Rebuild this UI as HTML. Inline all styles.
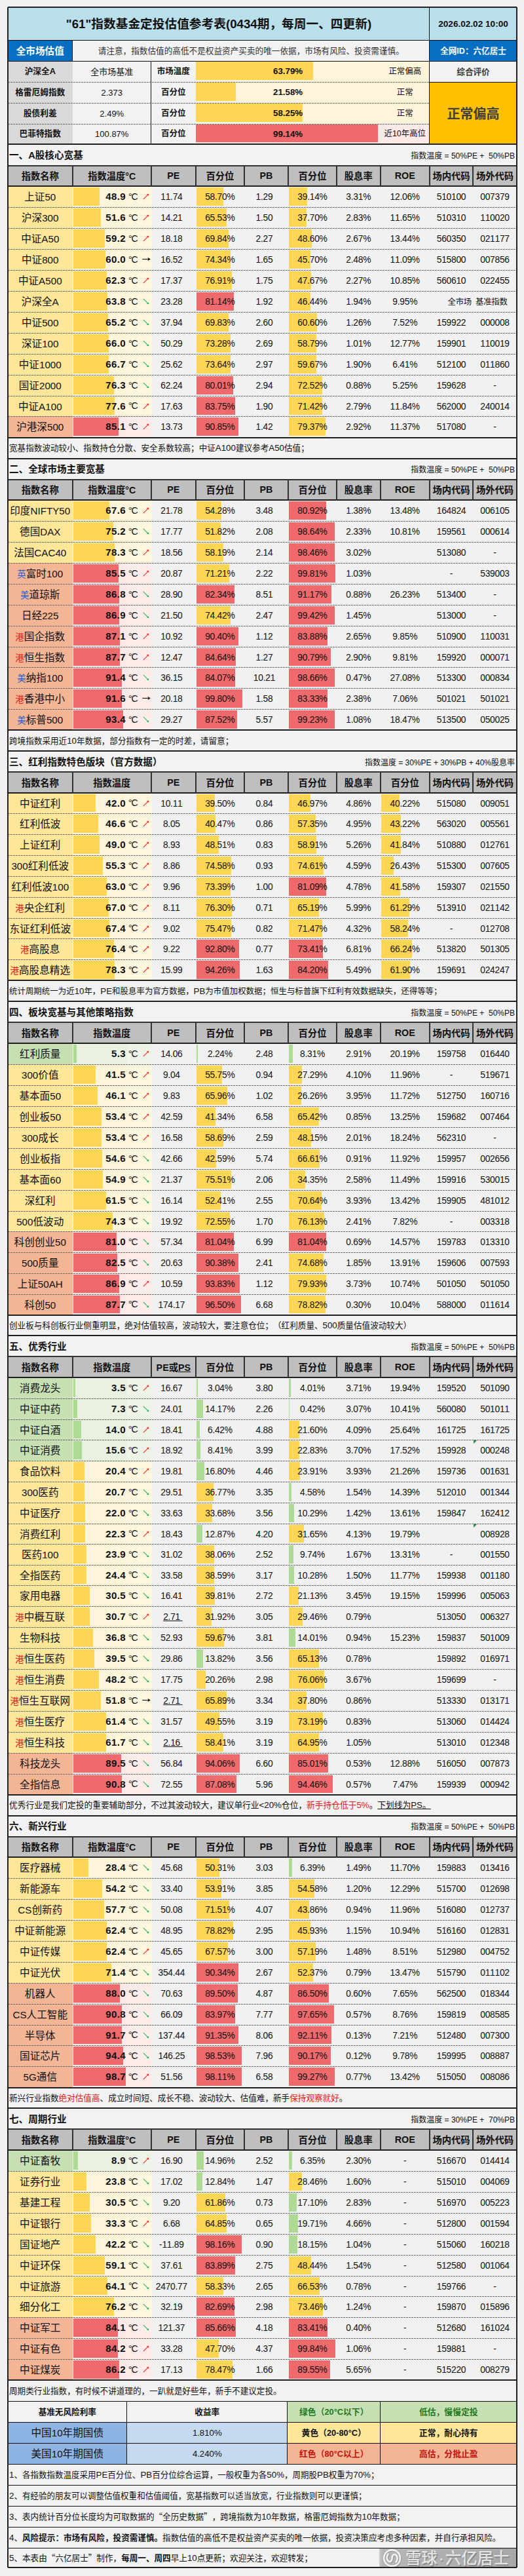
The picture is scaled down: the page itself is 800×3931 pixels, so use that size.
<!DOCTYPE html>
<html lang="zh-CN"><head><meta charset="utf-8"><title>指数基金定投估值参考表</title>
<style>
html,body{margin:0;padding:0}
body{width:800px;height:3931px;background:#f1f1f1;position:relative;overflow:hidden;
 font-family:"Liberation Sans","Noto Sans CJK SC",sans-serif;color:#111;text-spacing-trim:space-all;font-kerning:none}
.c{position:absolute;display:flex;align-items:center;justify-content:center;white-space:nowrap;box-sizing:border-box;overflow:hidden;line-height:1}
.c>span{display:block;position:relative;top:1px}
i{font-style:normal}
em{font-style:normal;font-family:"Noto Sans CJK SC",sans-serif}
.hl{position:absolute;height:2px;margin-top:-1px;background:#202020}
.vl{position:absolute;width:2px;margin-left:-1px;background:#202020}
.h1{height:1px;margin-top:0;background:#111}
.v1{width:1px;margin-left:-1px;background:#111}
.hk{background:#333}
.dl{position:absolute;height:1px;margin-top:0;background:repeating-linear-gradient(90deg,#6e6e6e 0,#6e6e6e 3px,transparent 3px,transparent 4px)}
.title{background:#b9dfeb;font-weight:bold;font-size:18.7px}
.date{background:#b9dfeb;font-weight:bold;font-size:13.6px}
.bluecell{background:#066fc3;color:#fff;font-weight:bold;font-size:14.6px}
.idc{font-size:12.6px}
.warn{background:#f2f2f2;font-size:12.63px;color:#333}
.tl1{background:#d9d9d9;font-weight:bold;font-size:12.7px}
.tl2{background:#f2f2f2;font-size:12.6px}
.tl2>span{font-size:13px}
.tl3{background:#f2f2f2;font-weight:bold;font-size:12.5px}
.tval{font-weight:bold;font-size:13.3px}
.tstat{font-size:12.4px}
.zh{background:#f2f2f2;font-weight:bold;font-size:12.6px;color:#3a3a3a}
.big{background:#ffc000;font-weight:bold;font-size:20px;color:#3f3f3f}
.stitle{background:#f2f2f2;justify-content:space-between;padding:0 3px 0 2px;font-size:14.6px}
.st{font-weight:bold}
.fm{font-size:12px;padding-top:2px}
.hd{background:#bfbfbf;font-weight:bold;font-size:14.3px}
.hl0>span,.tv>span,.dc>span,.tl1>span,.tl2>span,.tl3>span,.tval>span,.tstat>span{top:0}
.nm{font-size:15.6px}
.nm i{font-size:15.2px}
.nm b{font-weight:normal;font-size:13.5px}
.pb{color:#1f5fd0}.pr{color:#e81a1a}
.tv{justify-content:flex-end;font-weight:bold;font-size:15.1px;letter-spacing:.35px}
.dc{font-size:14.2px;letter-spacing:-1.1px;justify-content:flex-start}
.arw{justify-content:flex-start;padding-left:4px}
.ar{display:block}
.arr{margin-left:-1.5px;position:relative;top:-.7px}
.nu{font-size:13.8px;letter-spacing:-.25px;background:transparent}
.pd{padding-right:6px}
.pd1{padding-right:2px}
.cnr{justify-content:flex-end;font-size:12.4px;padding-right:2px}
.cnl{justify-content:flex-start;font-size:12.4px;padding-left:4px}
.tri{position:absolute}
.note{background:#f2f2f2;justify-content:flex-start;padding-left:2px;font-size:12.6px}
.note i{font-size:13.3px}
.red{color:#f01414}
.bl1{background:#8db4e2;font-size:15.6px}
.bl1 i{font-size:15.2px}
.zhb{color:#111}
.bl2{background:#c5d9f1;font-size:13.2px}
.lg{font-weight:bold;font-size:12.8px}
.wm{position:absolute;overflow:hidden;background:linear-gradient(90deg,rgba(200,200,200,.9) 0,#b6b6b6 5px,#a8a8a8 100%)}
.wmt{position:absolute;left:40px;top:1px;font-size:24.4px;line-height:27px;color:rgba(248,248,248,.8);font-weight:500;white-space:nowrap;text-shadow:1.5px 1.5px 0 rgba(125,125,125,.75)}
.wd{display:inline-block;width:12px;text-align:center;font-weight:normal}
</style></head>
<body>
<div class="c title" style="left:12px;top:11px;width:644px;height:50px;"><span>"61"指数基金定投估值参考表(0434期，每周一、四更新)</span></div>
<div class="c date" style="left:656px;top:11px;width:133px;height:50px;"><span>2026.02.02 10:00</span></div>
<div class="c bluecell" style="left:12px;top:61px;width:98.5px;height:32px;"><span>全市场估值</span></div>
<div class="c warn" style="left:110.5px;top:61px;width:545.5px;height:32px;"><span>请注意，指数估值的高低不是权益资产买卖的唯一依据，市场有风险、投资需谨慎。</span></div>
<div class="c bluecell idc" style="left:656px;top:61px;width:133px;height:32px;"><span>全网ID：六亿居士</span></div>
<div class="c tl1" style="left:12px;top:93px;width:98.5px;height:32px;"><span>沪深全A</span></div>
<div class="c tl2" style="left:110.5px;top:93px;width:120.5px;height:32px;"><span>全市场基准</span></div>
<div class="c tl3" style="left:231px;top:93px;width:67.7px;height:32px;"><span>市场温度</span></div>
<div class="c " style="left:298.7px;top:93px;width:357.3px;height:32px;background:#fff5da"></div>
<div class="c " style="left:299.4px;top:94px;width:178.61px;height:28px;background:#ffd654"></div>
<div class="c tval" style="left:298.7px;top:93px;width:281.8px;height:32px;"><span>63.79%</span></div>
<div class="c tstat" style="left:580.5px;top:93px;width:75.5px;height:32px;"><span>正常偏高</span></div>
<div class="c tl1" style="left:12px;top:125px;width:98.5px;height:32px;"><span>格雷厄姆指数</span></div>
<div class="c tl2" style="left:110.5px;top:125px;width:120.5px;height:32px;"><span>2.373</span></div>
<div class="c tl3" style="left:231px;top:125px;width:67.7px;height:32px;"><span>百分位</span></div>
<div class="c " style="left:298.7px;top:125px;width:357.3px;height:32px;background:#fff5da"></div>
<div class="c " style="left:299.4px;top:126px;width:60.42px;height:28px;background:#ffd654"></div>
<div class="c tval" style="left:298.7px;top:125px;width:281.8px;height:32px;"><span>21.58%</span></div>
<div class="c tstat" style="left:580.5px;top:125px;width:75.5px;height:32px;"><span>正常</span></div>
<div class="c tl1" style="left:12px;top:157px;width:98.5px;height:32px;"><span>股债利差</span></div>
<div class="c tl2" style="left:110.5px;top:157px;width:120.5px;height:32px;"><span>2.49%</span></div>
<div class="c tl3" style="left:231px;top:157px;width:67.7px;height:32px;"><span>百分位</span></div>
<div class="c " style="left:298.7px;top:157px;width:357.3px;height:32px;background:#fff5da"></div>
<div class="c " style="left:299.4px;top:158px;width:163.1px;height:28px;background:#ffd654"></div>
<div class="c tval" style="left:298.7px;top:157px;width:281.8px;height:32px;"><span>58.25%</span></div>
<div class="c tstat" style="left:580.5px;top:157px;width:75.5px;height:32px;"><span>正常</span></div>
<div class="c tl1" style="left:12px;top:189px;width:98.5px;height:31px;"><span>巴菲特指数</span></div>
<div class="c tl2" style="left:110.5px;top:189px;width:120.5px;height:31px;"><span>100.87%</span></div>
<div class="c tl3" style="left:231px;top:189px;width:67.7px;height:31px;"><span>百分位</span></div>
<div class="c " style="left:298.7px;top:189px;width:357.3px;height:31px;background:#fde9e8"></div>
<div class="c " style="left:299.4px;top:190px;width:277.59px;height:27px;background:#ee6a6c"></div>
<div class="c tval" style="left:298.7px;top:189px;width:281.8px;height:31px;"><span>99.14%</span></div>
<div class="c tstat" style="left:580.5px;top:189px;width:75.5px;height:31px;"><span>近10年高位</span></div>
<div class="c zh" style="left:656px;top:93px;width:133px;height:32px;"><span>综合评价</span></div>
<div class="c big" style="left:656px;top:125px;width:133px;height:95px;"><span>正常偏高</span></div>
<div class="c stitle" style="left:12px;top:220px;width:777px;height:32px;"><span class="st">一、A股核心宽基</span><span class="fm">指数温度 = 50%PE +&nbsp; 50%PB</span></div>
<div class="c hd" style="left:12px;top:252px;width:98.5px;height:32px;"><span>指数名称</span></div>
<div class="c hd" style="left:110.5px;top:252px;width:120.5px;height:32px;"><span>指数温度°C</span></div>
<div class="c hd hl0" style="left:231px;top:252px;width:67.7px;height:32px;"><span>PE</span></div>
<div class="c hd" style="left:298.7px;top:252px;width:74.3px;height:32px;"><span>百分位</span></div>
<div class="c hd hl0" style="left:373px;top:252px;width:67px;height:32px;"><span>PB</span></div>
<div class="c hd" style="left:440px;top:252px;width:74px;height:32px;"><span>百分位</span></div>
<div class="c hd" style="left:514px;top:252px;width:66.5px;height:32px;"><span>股息率</span></div>
<div class="c hd hl0" style="left:580.5px;top:252px;width:75.5px;height:32px;"><span>ROE</span></div>
<div class="c hd" style="left:656px;top:252px;width:66px;height:32px;"><span>场内代码</span></div>
<div class="c hd" style="left:722px;top:252px;width:67px;height:32px;"><span>场外代码</span></div>
<div class="c nm" style="left:12px;top:284px;width:98.5px;height:32px;background:#ffe699"><span>上证<i>50</i></span></div>
<div class="c " style="left:110.5px;top:284px;width:83px;height:32px;background:#fff5da"></div>
<div class="c " style="left:193.5px;top:284px;width:38.5px;height:32px;background:#fff6de"></div>
<div class="c " style="left:112.3px;top:286.4px;width:39.46px;height:27.6px;background:#ffd654"></div>
<div class="c tv" style="left:110.5px;top:284px;width:81.6px;height:32px;"><span>48.9</span></div>
<div class="c dc" style="left:196px;top:284px;width:18px;height:32px;"><span>°C</span></div>
<div class="c arw" style="left:214px;top:284px;width:17px;height:32px;"><svg class="ar" width="10" height="10" viewBox="0 0 10 10"><path d="M0.8 9.2L7.6 2.4" stroke="#ff2020" stroke-width="1.05" fill="none"/><path d="M9.3 0.7L6 1.3L8.7 4Z" fill="#ff2020"/></svg></div>
<div class="c nu pd" style="left:231px;top:284px;width:67.7px;height:32px;"><span>11.74</span></div>
<div class="c " style="left:300px;top:286.4px;width:41.38px;height:27.6px;background:#ffd654"></div>
<div class="c nu" style="left:298.7px;top:284px;width:74.3px;height:32px;"><span>58.70%</span></div>
<div class="c nu pd" style="left:373px;top:284px;width:67px;height:32px;"><span>1.29</span></div>
<div class="c " style="left:441.3px;top:286.4px;width:27.59px;height:27.6px;background:#ffd654"></div>
<div class="c nu" style="left:440px;top:284px;width:74px;height:32px;"><span>39.14%</span></div>
<div class="c nu" style="left:514px;top:284px;width:66.5px;height:32px;"><span>3.31%</span></div>
<div class="c nu" style="left:580.5px;top:284px;width:75.5px;height:32px;"><span>12.06%</span></div>
<div class="c nu" style="left:656px;top:284px;width:66px;height:32px;"><span>510100</span></div>
<div class="c nu" style="left:722px;top:284px;width:67px;height:32px;"><span>007379</span></div>
<div class="c nm" style="left:12px;top:316px;width:98.5px;height:32px;background:#ffe699"><span>沪深<i>300</i></span></div>
<div class="c " style="left:110.5px;top:316px;width:83px;height:32px;background:#fff5da"></div>
<div class="c " style="left:193.5px;top:316px;width:38.5px;height:32px;background:#fff6de"></div>
<div class="c " style="left:112.3px;top:318.4px;width:41.64px;height:27.6px;background:#ffd654"></div>
<div class="c tv" style="left:110.5px;top:316px;width:81.6px;height:32px;"><span>51.6</span></div>
<div class="c dc" style="left:196px;top:316px;width:18px;height:32px;"><span>°C</span></div>
<div class="c arw" style="left:214px;top:316px;width:17px;height:32px;"><svg class="ar" width="10" height="10" viewBox="0 0 10 10"><path d="M0.8 9.2L7.6 2.4" stroke="#ff2020" stroke-width="1.05" fill="none"/><path d="M9.3 0.7L6 1.3L8.7 4Z" fill="#ff2020"/></svg></div>
<div class="c nu pd" style="left:231px;top:316px;width:67.7px;height:32px;"><span>14.21</span></div>
<div class="c " style="left:300px;top:318.4px;width:46.2px;height:27.6px;background:#ffd654"></div>
<div class="c nu" style="left:298.7px;top:316px;width:74.3px;height:32px;"><span>65.53%</span></div>
<div class="c nu pd" style="left:373px;top:316px;width:67px;height:32px;"><span>1.50</span></div>
<div class="c " style="left:441.3px;top:318.4px;width:26.58px;height:27.6px;background:#ffd654"></div>
<div class="c nu" style="left:440px;top:316px;width:74px;height:32px;"><span>37.70%</span></div>
<div class="c nu" style="left:514px;top:316px;width:66.5px;height:32px;"><span>2.83%</span></div>
<div class="c nu" style="left:580.5px;top:316px;width:75.5px;height:32px;"><span>11.65%</span></div>
<div class="c nu" style="left:656px;top:316px;width:66px;height:32px;"><span>510310</span></div>
<div class="c nu" style="left:722px;top:316px;width:67px;height:32px;"><span>110020</span></div>
<div class="c nm" style="left:12px;top:348px;width:98.5px;height:32px;background:#ffe699"><span>中证<i>A50</i></span></div>
<div class="c " style="left:110.5px;top:348px;width:83px;height:32px;background:#fff5da"></div>
<div class="c " style="left:193.5px;top:348px;width:38.5px;height:32px;background:#fff6de"></div>
<div class="c " style="left:112.3px;top:350.4px;width:47.77px;height:27.6px;background:#ffd654"></div>
<div class="c tv" style="left:110.5px;top:348px;width:81.6px;height:32px;"><span>59.2</span></div>
<div class="c dc" style="left:196px;top:348px;width:18px;height:32px;"><span>°C</span></div>
<div class="c arw" style="left:214px;top:348px;width:17px;height:32px;"><svg class="ar" width="10" height="10" viewBox="0 0 10 10"><path d="M0.8 9.2L7.6 2.4" stroke="#ff2020" stroke-width="1.05" fill="none"/><path d="M9.3 0.7L6 1.3L8.7 4Z" fill="#ff2020"/></svg></div>
<div class="c nu pd" style="left:231px;top:348px;width:67.7px;height:32px;"><span>18.18</span></div>
<div class="c " style="left:300px;top:350.4px;width:49.24px;height:27.6px;background:#ffd654"></div>
<div class="c nu" style="left:298.7px;top:348px;width:74.3px;height:32px;"><span>69.84%</span></div>
<div class="c nu pd" style="left:373px;top:348px;width:67px;height:32px;"><span>2.27</span></div>
<div class="c " style="left:441.3px;top:350.4px;width:34.26px;height:27.6px;background:#ffd654"></div>
<div class="c nu" style="left:440px;top:348px;width:74px;height:32px;"><span>48.60%</span></div>
<div class="c nu" style="left:514px;top:348px;width:66.5px;height:32px;"><span>2.67%</span></div>
<div class="c nu" style="left:580.5px;top:348px;width:75.5px;height:32px;"><span>13.44%</span></div>
<div class="c nu" style="left:656px;top:348px;width:66px;height:32px;"><span>560350</span></div>
<div class="c nu" style="left:722px;top:348px;width:67px;height:32px;"><span>021177</span></div>
<div class="c nm" style="left:12px;top:380px;width:98.5px;height:32px;background:#ffe699"><span>中证<i>800</i></span></div>
<div class="c " style="left:110.5px;top:380px;width:83px;height:32px;background:#fff5da"></div>
<div class="c " style="left:193.5px;top:380px;width:38.5px;height:32px;background:#fff6de"></div>
<div class="c " style="left:112.3px;top:382.4px;width:48.42px;height:27.6px;background:#ffd654"></div>
<div class="c tv" style="left:110.5px;top:380px;width:81.6px;height:32px;"><span>60.0</span></div>
<div class="c dc" style="left:196px;top:380px;width:18px;height:32px;"><span>°C</span></div>
<div class="c arw" style="left:214px;top:380px;width:17px;height:32px;"><svg class="ar arr" width="13" height="7" viewBox="0 0 13 7"><path d="M0.3 3.5L10 3.5" stroke="#111" stroke-width="1.1" fill="none"/><path d="M12.8 3.5L8.5 6.2L9.5 3.5L8.5 0.8Z" fill="#111"/></svg></div>
<div class="c nu pd" style="left:231px;top:380px;width:67.7px;height:32px;"><span>16.52</span></div>
<div class="c " style="left:300px;top:382.4px;width:52.41px;height:27.6px;background:#ffd654"></div>
<div class="c nu" style="left:298.7px;top:380px;width:74.3px;height:32px;"><span>74.34%</span></div>
<div class="c nu pd" style="left:373px;top:380px;width:67px;height:32px;"><span>1.65</span></div>
<div class="c " style="left:441.3px;top:382.4px;width:32.22px;height:27.6px;background:#ffd654"></div>
<div class="c nu" style="left:440px;top:380px;width:74px;height:32px;"><span>45.70%</span></div>
<div class="c nu" style="left:514px;top:380px;width:66.5px;height:32px;"><span>2.48%</span></div>
<div class="c nu" style="left:580.5px;top:380px;width:75.5px;height:32px;"><span>11.09%</span></div>
<div class="c nu" style="left:656px;top:380px;width:66px;height:32px;"><span>515800</span></div>
<div class="c nu" style="left:722px;top:380px;width:67px;height:32px;"><span>007856</span></div>
<div class="c nm" style="left:12px;top:412px;width:98.5px;height:32px;background:#ffe699"><span>中证<i>A500</i></span></div>
<div class="c " style="left:110.5px;top:412px;width:83px;height:32px;background:#fff5da"></div>
<div class="c " style="left:193.5px;top:412px;width:38.5px;height:32px;background:#fff6de"></div>
<div class="c " style="left:112.3px;top:414.4px;width:50.28px;height:27.6px;background:#ffd654"></div>
<div class="c tv" style="left:110.5px;top:412px;width:81.6px;height:32px;"><span>62.3</span></div>
<div class="c dc" style="left:196px;top:412px;width:18px;height:32px;"><span>°C</span></div>
<div class="c arw" style="left:214px;top:412px;width:17px;height:32px;"><svg class="ar" width="10" height="10" viewBox="0 0 10 10"><path d="M0.8 9.2L7.6 2.4" stroke="#ff2020" stroke-width="1.05" fill="none"/><path d="M9.3 0.7L6 1.3L8.7 4Z" fill="#ff2020"/></svg></div>
<div class="c nu pd" style="left:231px;top:412px;width:67.7px;height:32px;"><span>17.37</span></div>
<div class="c " style="left:300px;top:414.4px;width:54.22px;height:27.6px;background:#ffd654"></div>
<div class="c nu" style="left:298.7px;top:412px;width:74.3px;height:32px;"><span>76.91%</span></div>
<div class="c nu pd" style="left:373px;top:412px;width:67px;height:32px;"><span>1.75</span></div>
<div class="c " style="left:441.3px;top:414.4px;width:33.61px;height:27.6px;background:#ffd654"></div>
<div class="c nu" style="left:440px;top:412px;width:74px;height:32px;"><span>47.67%</span></div>
<div class="c nu" style="left:514px;top:412px;width:66.5px;height:32px;"><span>2.27%</span></div>
<div class="c nu" style="left:580.5px;top:412px;width:75.5px;height:32px;"><span>10.85%</span></div>
<div class="c nu" style="left:656px;top:412px;width:66px;height:32px;"><span>560610</span></div>
<div class="c nu" style="left:722px;top:412px;width:67px;height:32px;"><span>022455</span></div>
<div class="c nm" style="left:12px;top:444px;width:98.5px;height:32px;background:#ffe699"><span>沪深全<i>A</i></span></div>
<div class="c " style="left:110.5px;top:444px;width:83px;height:32px;background:#fff5da"></div>
<div class="c " style="left:193.5px;top:444px;width:38.5px;height:32px;background:#fff6de"></div>
<div class="c " style="left:112.3px;top:446.4px;width:51.49px;height:27.6px;background:#ffd654"></div>
<div class="c tv" style="left:110.5px;top:444px;width:81.6px;height:32px;"><span>63.8</span></div>
<div class="c dc" style="left:196px;top:444px;width:18px;height:32px;"><span>°C</span></div>
<div class="c arw" style="left:214px;top:444px;width:17px;height:32px;"><svg class="ar" width="10" height="10" viewBox="0 0 10 10"><path d="M0.8 0.8L7.6 7.6" stroke="#1fb25f" stroke-width="1.05" fill="none"/><path d="M9.3 9.3L6 8.7L8.7 6Z" fill="#1fb25f"/></svg></div>
<div class="c nu pd" style="left:231px;top:444px;width:67.7px;height:32px;"><span>23.28</span></div>
<div class="c " style="left:300px;top:446.4px;width:57.2px;height:27.6px;background:#ee6a6c"></div>
<div class="c nu" style="left:298.7px;top:444px;width:74.3px;height:32px;"><span>81.14%</span></div>
<div class="c nu pd" style="left:373px;top:444px;width:67px;height:32px;"><span>1.92</span></div>
<div class="c " style="left:441.3px;top:446.4px;width:32.74px;height:27.6px;background:#ffd654"></div>
<div class="c nu" style="left:440px;top:444px;width:74px;height:32px;"><span>46.44%</span></div>
<div class="c nu" style="left:514px;top:444px;width:66.5px;height:32px;"><span>1.94%</span></div>
<div class="c nu" style="left:580.5px;top:444px;width:75.5px;height:32px;"><span>9.95%</span></div>
<div class="c nu cnr" style="left:656px;top:444px;width:66px;height:32px;"><span>全市场</span></div>
<div class="c nu cnl" style="left:722px;top:444px;width:67px;height:32px;"><span>基准指数</span></div>
<div class="c nm" style="left:12px;top:476px;width:98.5px;height:32px;background:#ffe699"><span>中证<i>500</i></span></div>
<div class="c " style="left:110.5px;top:476px;width:83px;height:32px;background:#fff5da"></div>
<div class="c " style="left:193.5px;top:476px;width:38.5px;height:32px;background:#fff6de"></div>
<div class="c " style="left:112.3px;top:478.4px;width:52.62px;height:27.6px;background:#ffd654"></div>
<div class="c tv" style="left:110.5px;top:476px;width:81.6px;height:32px;"><span>65.2</span></div>
<div class="c dc" style="left:196px;top:476px;width:18px;height:32px;"><span>°C</span></div>
<div class="c arw" style="left:214px;top:476px;width:17px;height:32px;"><svg class="ar" width="10" height="10" viewBox="0 0 10 10"><path d="M0.8 0.8L7.6 7.6" stroke="#1fb25f" stroke-width="1.05" fill="none"/><path d="M9.3 9.3L6 8.7L8.7 6Z" fill="#1fb25f"/></svg></div>
<div class="c nu pd" style="left:231px;top:476px;width:67.7px;height:32px;"><span>37.94</span></div>
<div class="c " style="left:300px;top:478.4px;width:49.23px;height:27.6px;background:#ffd654"></div>
<div class="c nu" style="left:298.7px;top:476px;width:74.3px;height:32px;"><span>69.83%</span></div>
<div class="c nu pd" style="left:373px;top:476px;width:67px;height:32px;"><span>2.60</span></div>
<div class="c " style="left:441.3px;top:478.4px;width:42.72px;height:27.6px;background:#ffd654"></div>
<div class="c nu" style="left:440px;top:476px;width:74px;height:32px;"><span>60.60%</span></div>
<div class="c nu" style="left:514px;top:476px;width:66.5px;height:32px;"><span>1.26%</span></div>
<div class="c nu" style="left:580.5px;top:476px;width:75.5px;height:32px;"><span>7.52%</span></div>
<div class="c nu" style="left:656px;top:476px;width:66px;height:32px;"><span>159922</span></div>
<div class="c nu" style="left:722px;top:476px;width:67px;height:32px;"><span>000008</span></div>
<div class="c nm" style="left:12px;top:508px;width:98.5px;height:32px;background:#ffe699"><span>深证<i>100</i></span></div>
<div class="c " style="left:110.5px;top:508px;width:83px;height:32px;background:#fff5da"></div>
<div class="c " style="left:193.5px;top:508px;width:38.5px;height:32px;background:#fff6de"></div>
<div class="c " style="left:112.3px;top:510.4px;width:53.26px;height:27.6px;background:#ffd654"></div>
<div class="c tv" style="left:110.5px;top:508px;width:81.6px;height:32px;"><span>66.0</span></div>
<div class="c dc" style="left:196px;top:508px;width:18px;height:32px;"><span>°C</span></div>
<div class="c arw" style="left:214px;top:508px;width:17px;height:32px;"><svg class="ar" width="10" height="10" viewBox="0 0 10 10"><path d="M0.8 0.8L7.6 7.6" stroke="#1fb25f" stroke-width="1.05" fill="none"/><path d="M9.3 9.3L6 8.7L8.7 6Z" fill="#1fb25f"/></svg></div>
<div class="c nu pd" style="left:231px;top:508px;width:67.7px;height:32px;"><span>50.29</span></div>
<div class="c " style="left:300px;top:510.4px;width:51.66px;height:27.6px;background:#ffd654"></div>
<div class="c nu" style="left:298.7px;top:508px;width:74.3px;height:32px;"><span>73.28%</span></div>
<div class="c nu pd" style="left:373px;top:508px;width:67px;height:32px;"><span>2.69</span></div>
<div class="c " style="left:441.3px;top:510.4px;width:41.45px;height:27.6px;background:#ffd654"></div>
<div class="c nu" style="left:440px;top:508px;width:74px;height:32px;"><span>58.79%</span></div>
<div class="c nu" style="left:514px;top:508px;width:66.5px;height:32px;"><span>1.01%</span></div>
<div class="c nu" style="left:580.5px;top:508px;width:75.5px;height:32px;"><span>12.77%</span></div>
<div class="c nu" style="left:656px;top:508px;width:66px;height:32px;"><span>159901</span></div>
<div class="c nu" style="left:722px;top:508px;width:67px;height:32px;"><span>110019</span></div>
<div class="c nm" style="left:12px;top:540px;width:98.5px;height:32px;background:#ffe699"><span>中证<i>1000</i></span></div>
<div class="c " style="left:110.5px;top:540px;width:83px;height:32px;background:#fff5da"></div>
<div class="c " style="left:193.5px;top:540px;width:38.5px;height:32px;background:#fff6de"></div>
<div class="c " style="left:112.3px;top:542.4px;width:53.83px;height:27.6px;background:#ffd654"></div>
<div class="c tv" style="left:110.5px;top:540px;width:81.6px;height:32px;"><span>66.7</span></div>
<div class="c dc" style="left:196px;top:540px;width:18px;height:32px;"><span>°C</span></div>
<div class="c arw" style="left:214px;top:540px;width:17px;height:32px;"><svg class="ar" width="10" height="10" viewBox="0 0 10 10"><path d="M0.8 0.8L7.6 7.6" stroke="#1fb25f" stroke-width="1.05" fill="none"/><path d="M9.3 9.3L6 8.7L8.7 6Z" fill="#1fb25f"/></svg></div>
<div class="c nu pd" style="left:231px;top:540px;width:67.7px;height:32px;"><span>25.62</span></div>
<div class="c " style="left:300px;top:542.4px;width:51.92px;height:27.6px;background:#ffd654"></div>
<div class="c nu" style="left:298.7px;top:540px;width:74.3px;height:32px;"><span>73.64%</span></div>
<div class="c nu pd" style="left:373px;top:540px;width:67px;height:32px;"><span>2.97</span></div>
<div class="c " style="left:441.3px;top:542.4px;width:42.07px;height:27.6px;background:#ffd654"></div>
<div class="c nu" style="left:440px;top:540px;width:74px;height:32px;"><span>59.67%</span></div>
<div class="c nu" style="left:514px;top:540px;width:66.5px;height:32px;"><span>1.90%</span></div>
<div class="c nu" style="left:580.5px;top:540px;width:75.5px;height:32px;"><span>6.41%</span></div>
<div class="c nu" style="left:656px;top:540px;width:66px;height:32px;"><span>512100</span></div>
<div class="c nu" style="left:722px;top:540px;width:67px;height:32px;"><span>011860</span></div>
<div class="c nm" style="left:12px;top:572px;width:98.5px;height:32px;background:#ffe699"><span>国证<i>2000</i></span></div>
<div class="c " style="left:110.5px;top:572px;width:83px;height:32px;background:#fff5da"></div>
<div class="c " style="left:193.5px;top:572px;width:38.5px;height:32px;background:#fff6de"></div>
<div class="c " style="left:112.3px;top:574.4px;width:61.57px;height:27.6px;background:#ffd654"></div>
<div class="c tv" style="left:110.5px;top:572px;width:81.6px;height:32px;"><span>76.3</span></div>
<div class="c dc" style="left:196px;top:572px;width:18px;height:32px;"><span>°C</span></div>
<div class="c arw" style="left:214px;top:572px;width:17px;height:32px;"><svg class="ar" width="10" height="10" viewBox="0 0 10 10"><path d="M0.8 0.8L7.6 7.6" stroke="#1fb25f" stroke-width="1.05" fill="none"/><path d="M9.3 9.3L6 8.7L8.7 6Z" fill="#1fb25f"/></svg></div>
<div class="c nu pd" style="left:231px;top:572px;width:67.7px;height:32px;"><span>62.24</span></div>
<div class="c " style="left:300px;top:574.4px;width:56.41px;height:27.6px;background:#ee6a6c"></div>
<div class="c nu" style="left:298.7px;top:572px;width:74.3px;height:32px;"><span>80.01%</span></div>
<div class="c nu pd" style="left:373px;top:572px;width:67px;height:32px;"><span>2.94</span></div>
<div class="c " style="left:441.3px;top:574.4px;width:51.13px;height:27.6px;background:#ffd654"></div>
<div class="c nu" style="left:440px;top:572px;width:74px;height:32px;"><span>72.52%</span></div>
<div class="c nu" style="left:514px;top:572px;width:66.5px;height:32px;"><span>0.88%</span></div>
<div class="c nu" style="left:580.5px;top:572px;width:75.5px;height:32px;"><span>5.25%</span></div>
<div class="c nu" style="left:656px;top:572px;width:66px;height:32px;"><span>159628</span></div>
<div class="c nu" style="left:722px;top:572px;width:67px;height:32px;"><span>-</span></div>
<div class="c nm" style="left:12px;top:604px;width:98.5px;height:31px;background:#ffe699"><span>中证<i>A100</i></span></div>
<div class="c " style="left:110.5px;top:604px;width:83px;height:31px;background:#fff5da"></div>
<div class="c " style="left:193.5px;top:604px;width:38.5px;height:31px;background:#fff6de"></div>
<div class="c " style="left:112.3px;top:606.4px;width:62.62px;height:26.6px;background:#ffd654"></div>
<div class="c tv" style="left:110.5px;top:604px;width:81.6px;height:31px;"><span>77.6</span></div>
<div class="c dc" style="left:196px;top:604px;width:18px;height:31px;"><span>°C</span></div>
<div class="c arw" style="left:214px;top:604px;width:17px;height:31px;"><svg class="ar" width="10" height="10" viewBox="0 0 10 10"><path d="M0.8 9.2L7.6 2.4" stroke="#ff2020" stroke-width="1.05" fill="none"/><path d="M9.3 0.7L6 1.3L8.7 4Z" fill="#ff2020"/></svg></div>
<div class="c nu pd" style="left:231px;top:604px;width:67.7px;height:31px;"><span>17.63</span></div>
<div class="c " style="left:300px;top:606.4px;width:59.04px;height:26.6px;background:#ee6a6c"></div>
<div class="c nu" style="left:298.7px;top:604px;width:74.3px;height:31px;"><span>83.75%</span></div>
<div class="c nu pd" style="left:373px;top:604px;width:67px;height:31px;"><span>1.90</span></div>
<div class="c " style="left:441.3px;top:606.4px;width:50.35px;height:26.6px;background:#ffd654"></div>
<div class="c nu" style="left:440px;top:604px;width:74px;height:31px;"><span>71.42%</span></div>
<div class="c nu" style="left:514px;top:604px;width:66.5px;height:31px;"><span>2.79%</span></div>
<div class="c nu" style="left:580.5px;top:604px;width:75.5px;height:31px;"><span>11.84%</span></div>
<div class="c nu" style="left:656px;top:604px;width:66px;height:31px;"><span>562000</span></div>
<div class="c nu" style="left:722px;top:604px;width:67px;height:31px;"><span>240014</span></div>
<div class="c nm" style="left:12px;top:635px;width:98.5px;height:32px;background:#f4b595"><span>沪港深<i>500</i></span></div>
<div class="c " style="left:110.5px;top:635px;width:83px;height:32px;background:#fde9e8"></div>
<div class="c " style="left:193.5px;top:635px;width:38.5px;height:32px;background:#feeceb"></div>
<div class="c " style="left:112.3px;top:637.4px;width:68.68px;height:27.6px;background:#ee6a6c"></div>
<div class="c tv" style="left:110.5px;top:635px;width:81.6px;height:32px;"><span>85.1</span></div>
<div class="c dc" style="left:196px;top:635px;width:18px;height:32px;"><span>°C</span></div>
<div class="c arw" style="left:214px;top:635px;width:17px;height:32px;"><svg class="ar" width="10" height="10" viewBox="0 0 10 10"><path d="M0.8 9.2L7.6 2.4" stroke="#ff2020" stroke-width="1.05" fill="none"/><path d="M9.3 0.7L6 1.3L8.7 4Z" fill="#ff2020"/></svg></div>
<div class="c nu pd" style="left:231px;top:635px;width:67.7px;height:32px;"><span>13.73</span></div>
<div class="c " style="left:300px;top:637.4px;width:64.05px;height:27.6px;background:#ee6a6c"></div>
<div class="c nu" style="left:298.7px;top:635px;width:74.3px;height:32px;"><span>90.85%</span></div>
<div class="c nu pd" style="left:373px;top:635px;width:67px;height:32px;"><span>1.42</span></div>
<div class="c " style="left:441.3px;top:637.4px;width:55.96px;height:27.6px;background:#ffd654"></div>
<div class="c nu" style="left:440px;top:635px;width:74px;height:32px;"><span>79.37%</span></div>
<div class="c nu" style="left:514px;top:635px;width:66.5px;height:32px;"><span>2.92%</span></div>
<div class="c nu" style="left:580.5px;top:635px;width:75.5px;height:32px;"><span>11.37%</span></div>
<div class="c nu" style="left:656px;top:635px;width:66px;height:32px;"><span>517080</span></div>
<div class="c nu" style="left:722px;top:635px;width:67px;height:32px;"><span>-</span></div>
<div class="c note" style="left:12px;top:667px;width:777px;height:32px;"><span>宽基指数波动较小、指数持仓分散、安全系数较高；中证<i>A100</i>建议参考<i>A50</i>估值；</span></div>
<div class="c stitle" style="left:12px;top:699px;width:777px;height:32px;"><span class="st">二、全球市场主要宽基</span><span class="fm">指数温度 = 50%PE +&nbsp; 50%PB</span></div>
<div class="c hd" style="left:12px;top:731px;width:98.5px;height:32px;"><span>指数名称</span></div>
<div class="c hd" style="left:110.5px;top:731px;width:120.5px;height:32px;"><span>指数温度°C</span></div>
<div class="c hd hl0" style="left:231px;top:731px;width:67.7px;height:32px;"><span>PE</span></div>
<div class="c hd" style="left:298.7px;top:731px;width:74.3px;height:32px;"><span>百分位</span></div>
<div class="c hd hl0" style="left:373px;top:731px;width:67px;height:32px;"><span>PB</span></div>
<div class="c hd" style="left:440px;top:731px;width:74px;height:32px;"><span>百分位</span></div>
<div class="c hd" style="left:514px;top:731px;width:66.5px;height:32px;"><span>股息率</span></div>
<div class="c hd hl0" style="left:580.5px;top:731px;width:75.5px;height:32px;"><span>ROE</span></div>
<div class="c hd" style="left:656px;top:731px;width:66px;height:32px;"><span>场内代码</span></div>
<div class="c hd" style="left:722px;top:731px;width:67px;height:32px;"><span>场外代码</span></div>
<div class="c nm" style="left:12px;top:763px;width:98.5px;height:32px;background:#ffe699"><span>印度<i>NIFTY50</i></span></div>
<div class="c " style="left:110.5px;top:763px;width:83px;height:32px;background:#fff5da"></div>
<div class="c " style="left:193.5px;top:763px;width:38.5px;height:32px;background:#fff6de"></div>
<div class="c " style="left:112.3px;top:765.4px;width:54.55px;height:27.6px;background:#ffd654"></div>
<div class="c tv" style="left:110.5px;top:763px;width:81.6px;height:32px;"><span>67.6</span></div>
<div class="c dc" style="left:196px;top:763px;width:18px;height:32px;"><span>°C</span></div>
<div class="c arw" style="left:214px;top:763px;width:17px;height:32px;"><svg class="ar" width="10" height="10" viewBox="0 0 10 10"><path d="M0.8 9.2L7.6 2.4" stroke="#ff2020" stroke-width="1.05" fill="none"/><path d="M9.3 0.7L6 1.3L8.7 4Z" fill="#ff2020"/></svg></div>
<div class="c nu pd" style="left:231px;top:763px;width:67.7px;height:32px;"><span>21.78</span></div>
<div class="c " style="left:300px;top:765.4px;width:38.27px;height:27.6px;background:#ffd654"></div>
<div class="c nu" style="left:298.7px;top:763px;width:74.3px;height:32px;"><span>54.28%</span></div>
<div class="c nu pd" style="left:373px;top:763px;width:67px;height:32px;"><span>3.48</span></div>
<div class="c " style="left:441.3px;top:765.4px;width:57.05px;height:27.6px;background:#ee6a6c"></div>
<div class="c nu" style="left:440px;top:763px;width:74px;height:32px;"><span>80.92%</span></div>
<div class="c nu" style="left:514px;top:763px;width:66.5px;height:32px;"><span>1.38%</span></div>
<div class="c nu" style="left:580.5px;top:763px;width:75.5px;height:32px;"><span>13.48%</span></div>
<div class="c nu" style="left:656px;top:763px;width:66px;height:32px;"><span>164824</span></div>
<div class="c nu" style="left:722px;top:763px;width:67px;height:32px;"><span>006105</span></div>
<div class="c nm" style="left:12px;top:795px;width:98.5px;height:32px;background:#ffe699"><span>德国<i>DAX</i></span></div>
<div class="c " style="left:110.5px;top:795px;width:83px;height:32px;background:#fff5da"></div>
<div class="c " style="left:193.5px;top:795px;width:38.5px;height:32px;background:#fff6de"></div>
<div class="c " style="left:112.3px;top:797.4px;width:60.69px;height:27.6px;background:#ffd654"></div>
<div class="c tv" style="left:110.5px;top:795px;width:81.6px;height:32px;"><span>75.2</span></div>
<div class="c dc" style="left:196px;top:795px;width:18px;height:32px;"><span>°C</span></div>
<div class="c arw" style="left:214px;top:795px;width:17px;height:32px;"><svg class="ar" width="10" height="10" viewBox="0 0 10 10"><path d="M0.8 0.8L7.6 7.6" stroke="#1fb25f" stroke-width="1.05" fill="none"/><path d="M9.3 9.3L6 8.7L8.7 6Z" fill="#1fb25f"/></svg></div>
<div class="c nu pd" style="left:231px;top:795px;width:67.7px;height:32px;"><span>17.77</span></div>
<div class="c " style="left:300px;top:797.4px;width:36.53px;height:27.6px;background:#ffd654"></div>
<div class="c nu" style="left:298.7px;top:795px;width:74.3px;height:32px;"><span>51.82%</span></div>
<div class="c nu pd" style="left:373px;top:795px;width:67px;height:32px;"><span>2.08</span></div>
<div class="c " style="left:441.3px;top:797.4px;width:69.54px;height:27.6px;background:#ee6a6c"></div>
<div class="c nu" style="left:440px;top:795px;width:74px;height:32px;"><span>98.64%</span></div>
<div class="c nu" style="left:514px;top:795px;width:66.5px;height:32px;"><span>2.33%</span></div>
<div class="c nu" style="left:580.5px;top:795px;width:75.5px;height:32px;"><span>10.81%</span></div>
<div class="c nu" style="left:656px;top:795px;width:66px;height:32px;"><span>159561</span></div>
<div class="c nu" style="left:722px;top:795px;width:67px;height:32px;"><span>000614</span></div>
<div class="c nm" style="left:12px;top:827px;width:98.5px;height:32px;background:#ffe699"><span>法国<i>CAC40</i></span></div>
<div class="c " style="left:110.5px;top:827px;width:83px;height:32px;background:#fff5da"></div>
<div class="c " style="left:193.5px;top:827px;width:38.5px;height:32px;background:#fff6de"></div>
<div class="c " style="left:112.3px;top:829.4px;width:63.19px;height:27.6px;background:#ffd654"></div>
<div class="c tv" style="left:110.5px;top:827px;width:81.6px;height:32px;"><span>78.3</span></div>
<div class="c dc" style="left:196px;top:827px;width:18px;height:32px;"><span>°C</span></div>
<div class="c arw" style="left:214px;top:827px;width:17px;height:32px;"><svg class="ar" width="10" height="10" viewBox="0 0 10 10"><path d="M0.8 9.2L7.6 2.4" stroke="#ff2020" stroke-width="1.05" fill="none"/><path d="M9.3 0.7L6 1.3L8.7 4Z" fill="#ff2020"/></svg></div>
<div class="c nu pd" style="left:231px;top:827px;width:67.7px;height:32px;"><span>18.56</span></div>
<div class="c " style="left:300px;top:829.4px;width:41.02px;height:27.6px;background:#ffd654"></div>
<div class="c nu" style="left:298.7px;top:827px;width:74.3px;height:32px;"><span>58.19%</span></div>
<div class="c nu pd" style="left:373px;top:827px;width:67px;height:32px;"><span>2.14</span></div>
<div class="c " style="left:441.3px;top:829.4px;width:69.41px;height:27.6px;background:#ee6a6c"></div>
<div class="c nu" style="left:440px;top:827px;width:74px;height:32px;"><span>98.46%</span></div>
<div class="c nu" style="left:514px;top:827px;width:66.5px;height:32px;"><span>3.02%</span></div>
<div class="c nu" style="left:580.5px;top:827px;width:75.5px;height:32px;"><span></span></div>
<div class="c nu" style="left:656px;top:827px;width:66px;height:32px;"><span>513080</span></div>
<div class="c nu" style="left:722px;top:827px;width:67px;height:32px;"><span>-</span></div>
<div class="c nm" style="left:12px;top:859px;width:98.5px;height:32px;background:#f4b595"><span><b class="pb">英</b>富时<i>100</i></span></div>
<div class="c " style="left:110.5px;top:859px;width:83px;height:32px;background:#fde9e8"></div>
<div class="c " style="left:193.5px;top:859px;width:38.5px;height:32px;background:#feeceb"></div>
<div class="c " style="left:112.3px;top:861.4px;width:69px;height:27.6px;background:#ee6a6c"></div>
<div class="c tv" style="left:110.5px;top:859px;width:81.6px;height:32px;"><span>85.5</span></div>
<div class="c dc" style="left:196px;top:859px;width:18px;height:32px;"><span>°C</span></div>
<div class="c arw" style="left:214px;top:859px;width:17px;height:32px;"><svg class="ar" width="10" height="10" viewBox="0 0 10 10"><path d="M0.8 9.2L7.6 2.4" stroke="#ff2020" stroke-width="1.05" fill="none"/><path d="M9.3 0.7L6 1.3L8.7 4Z" fill="#ff2020"/></svg></div>
<div class="c nu pd" style="left:231px;top:859px;width:67.7px;height:32px;"><span>20.87</span></div>
<div class="c " style="left:300px;top:861.4px;width:50.2px;height:27.6px;background:#ffd654"></div>
<div class="c nu" style="left:298.7px;top:859px;width:74.3px;height:32px;"><span>71.21%</span></div>
<div class="c nu pd" style="left:373px;top:859px;width:67px;height:32px;"><span>2.22</span></div>
<div class="c " style="left:441.3px;top:861.4px;width:70.37px;height:27.6px;background:#ee6a6c"></div>
<div class="c nu" style="left:440px;top:859px;width:74px;height:32px;"><span>99.81%</span></div>
<div class="c nu" style="left:514px;top:859px;width:66.5px;height:32px;"><span>1.03%</span></div>
<div class="c nu" style="left:580.5px;top:859px;width:75.5px;height:32px;"><span></span></div>
<div class="c nu" style="left:656px;top:859px;width:66px;height:32px;"><span>-</span></div>
<div class="c nu" style="left:722px;top:859px;width:67px;height:32px;"><span>539003</span></div>
<div class="c nm" style="left:12px;top:891px;width:98.5px;height:32px;background:#f4b595"><span><b class="pb">美</b>道琼斯</span></div>
<div class="c " style="left:110.5px;top:891px;width:83px;height:32px;background:#fde9e8"></div>
<div class="c " style="left:193.5px;top:891px;width:38.5px;height:32px;background:#feeceb"></div>
<div class="c " style="left:112.3px;top:893.4px;width:70.05px;height:27.6px;background:#ee6a6c"></div>
<div class="c tv" style="left:110.5px;top:891px;width:81.6px;height:32px;"><span>86.8</span></div>
<div class="c dc" style="left:196px;top:891px;width:18px;height:32px;"><span>°C</span></div>
<div class="c arw" style="left:214px;top:891px;width:17px;height:32px;"><svg class="ar" width="10" height="10" viewBox="0 0 10 10"><path d="M0.8 0.8L7.6 7.6" stroke="#1fb25f" stroke-width="1.05" fill="none"/><path d="M9.3 9.3L6 8.7L8.7 6Z" fill="#1fb25f"/></svg></div>
<div class="c nu pd" style="left:231px;top:891px;width:67.7px;height:32px;"><span>28.90</span></div>
<div class="c " style="left:300px;top:893.4px;width:58.05px;height:27.6px;background:#ee6a6c"></div>
<div class="c nu" style="left:298.7px;top:891px;width:74.3px;height:32px;"><span>82.34%</span></div>
<div class="c nu pd" style="left:373px;top:891px;width:67px;height:32px;"><span>8.51</span></div>
<div class="c " style="left:441.3px;top:893.4px;width:64.27px;height:27.6px;background:#ee6a6c"></div>
<div class="c nu" style="left:440px;top:891px;width:74px;height:32px;"><span>91.17%</span></div>
<div class="c nu" style="left:514px;top:891px;width:66.5px;height:32px;"><span>0.88%</span></div>
<div class="c nu" style="left:580.5px;top:891px;width:75.5px;height:32px;"><span>26.23%</span></div>
<div class="c nu" style="left:656px;top:891px;width:66px;height:32px;"><span>513400</span></div>
<div class="c nu" style="left:722px;top:891px;width:67px;height:32px;"><span>-</span></div>
<div class="c nm" style="left:12px;top:923px;width:98.5px;height:32px;background:#f4b595"><span>日经<i>225</i></span></div>
<div class="c " style="left:110.5px;top:923px;width:83px;height:32px;background:#fde9e8"></div>
<div class="c " style="left:193.5px;top:923px;width:38.5px;height:32px;background:#feeceb"></div>
<div class="c " style="left:112.3px;top:925.4px;width:70.13px;height:27.6px;background:#ee6a6c"></div>
<div class="c tv" style="left:110.5px;top:923px;width:81.6px;height:32px;"><span>86.9</span></div>
<div class="c dc" style="left:196px;top:923px;width:18px;height:32px;"><span>°C</span></div>
<div class="c arw" style="left:214px;top:923px;width:17px;height:32px;"><svg class="ar" width="10" height="10" viewBox="0 0 10 10"><path d="M0.8 0.8L7.6 7.6" stroke="#1fb25f" stroke-width="1.05" fill="none"/><path d="M9.3 9.3L6 8.7L8.7 6Z" fill="#1fb25f"/></svg></div>
<div class="c nu pd" style="left:231px;top:923px;width:67.7px;height:32px;"><span>21.50</span></div>
<div class="c " style="left:300px;top:925.4px;width:52.47px;height:27.6px;background:#ffd654"></div>
<div class="c nu" style="left:298.7px;top:923px;width:74.3px;height:32px;"><span>74.42%</span></div>
<div class="c nu pd" style="left:373px;top:923px;width:67px;height:32px;"><span>2.47</span></div>
<div class="c " style="left:441.3px;top:925.4px;width:70.09px;height:27.6px;background:#ee6a6c"></div>
<div class="c nu" style="left:440px;top:923px;width:74px;height:32px;"><span>99.42%</span></div>
<div class="c nu" style="left:514px;top:923px;width:66.5px;height:32px;"><span>1.45%</span></div>
<div class="c nu" style="left:580.5px;top:923px;width:75.5px;height:32px;"><span></span></div>
<div class="c nu" style="left:656px;top:923px;width:66px;height:32px;"><span>513000</span></div>
<div class="c nu" style="left:722px;top:923px;width:67px;height:32px;"><span>-</span></div>
<div class="c nm" style="left:12px;top:955px;width:98.5px;height:32px;background:#f4b595"><span><b class="pr">港</b>国企指数</span></div>
<div class="c " style="left:110.5px;top:955px;width:83px;height:32px;background:#fde9e8"></div>
<div class="c " style="left:193.5px;top:955px;width:38.5px;height:32px;background:#feeceb"></div>
<div class="c " style="left:112.3px;top:957.4px;width:70.29px;height:27.6px;background:#ee6a6c"></div>
<div class="c tv" style="left:110.5px;top:955px;width:81.6px;height:32px;"><span>87.1</span></div>
<div class="c dc" style="left:196px;top:955px;width:18px;height:32px;"><span>°C</span></div>
<div class="c arw" style="left:214px;top:955px;width:17px;height:32px;"><svg class="ar" width="10" height="10" viewBox="0 0 10 10"><path d="M0.8 9.2L7.6 2.4" stroke="#ff2020" stroke-width="1.05" fill="none"/><path d="M9.3 0.7L6 1.3L8.7 4Z" fill="#ff2020"/></svg></div>
<div class="c nu pd" style="left:231px;top:955px;width:67.7px;height:32px;"><span>10.92</span></div>
<div class="c " style="left:300px;top:957.4px;width:63.73px;height:27.6px;background:#ee6a6c"></div>
<div class="c nu" style="left:298.7px;top:955px;width:74.3px;height:32px;"><span>90.40%</span></div>
<div class="c nu pd" style="left:373px;top:955px;width:67px;height:32px;"><span>1.12</span></div>
<div class="c " style="left:441.3px;top:957.4px;width:59.14px;height:27.6px;background:#ee6a6c"></div>
<div class="c nu" style="left:440px;top:955px;width:74px;height:32px;"><span>83.88%</span></div>
<div class="c nu" style="left:514px;top:955px;width:66.5px;height:32px;"><span>2.65%</span></div>
<div class="c nu" style="left:580.5px;top:955px;width:75.5px;height:32px;"><span>9.85%</span></div>
<div class="c nu" style="left:656px;top:955px;width:66px;height:32px;"><span>510900</span></div>
<div class="c nu" style="left:722px;top:955px;width:67px;height:32px;"><span>110031</span></div>
<div class="c nm" style="left:12px;top:987px;width:98.5px;height:31px;background:#f4b595"><span><b class="pr">港</b>恒生指数</span></div>
<div class="c " style="left:110.5px;top:987px;width:83px;height:31px;background:#fde9e8"></div>
<div class="c " style="left:193.5px;top:987px;width:38.5px;height:31px;background:#feeceb"></div>
<div class="c " style="left:112.3px;top:989.4px;width:70.77px;height:26.6px;background:#ee6a6c"></div>
<div class="c tv" style="left:110.5px;top:987px;width:81.6px;height:31px;"><span>87.7</span></div>
<div class="c dc" style="left:196px;top:987px;width:18px;height:31px;"><span>°C</span></div>
<div class="c arw" style="left:214px;top:987px;width:17px;height:31px;"><svg class="ar" width="10" height="10" viewBox="0 0 10 10"><path d="M0.8 9.2L7.6 2.4" stroke="#ff2020" stroke-width="1.05" fill="none"/><path d="M9.3 0.7L6 1.3L8.7 4Z" fill="#ff2020"/></svg></div>
<div class="c nu pd" style="left:231px;top:987px;width:67.7px;height:31px;"><span>12.47</span></div>
<div class="c " style="left:300px;top:989.4px;width:59.67px;height:26.6px;background:#ee6a6c"></div>
<div class="c nu" style="left:298.7px;top:987px;width:74.3px;height:31px;"><span>84.64%</span></div>
<div class="c nu pd" style="left:373px;top:987px;width:67px;height:31px;"><span>1.27</span></div>
<div class="c " style="left:441.3px;top:989.4px;width:64.01px;height:26.6px;background:#ee6a6c"></div>
<div class="c nu" style="left:440px;top:987px;width:74px;height:31px;"><span>90.79%</span></div>
<div class="c nu" style="left:514px;top:987px;width:66.5px;height:31px;"><span>2.90%</span></div>
<div class="c nu" style="left:580.5px;top:987px;width:75.5px;height:31px;"><span>9.81%</span></div>
<div class="c nu" style="left:656px;top:987px;width:66px;height:31px;"><span>159920</span></div>
<div class="c nu" style="left:722px;top:987px;width:67px;height:31px;"><span>000071</span></div>
<div class="c nm" style="left:12px;top:1018px;width:98.5px;height:32px;background:#f4b595"><span><b class="pb">美</b>纳指<i>100</i></span></div>
<div class="c " style="left:110.5px;top:1018px;width:83px;height:32px;background:#fde9e8"></div>
<div class="c " style="left:193.5px;top:1018px;width:38.5px;height:32px;background:#feeceb"></div>
<div class="c " style="left:112.3px;top:1020.4px;width:73.76px;height:27.6px;background:#ee6a6c"></div>
<div class="c tv" style="left:110.5px;top:1018px;width:81.6px;height:32px;"><span>91.4</span></div>
<div class="c dc" style="left:196px;top:1018px;width:18px;height:32px;"><span>°C</span></div>
<div class="c arw" style="left:214px;top:1018px;width:17px;height:32px;"><svg class="ar" width="10" height="10" viewBox="0 0 10 10"><path d="M0.8 0.8L7.6 7.6" stroke="#1fb25f" stroke-width="1.05" fill="none"/><path d="M9.3 9.3L6 8.7L8.7 6Z" fill="#1fb25f"/></svg></div>
<div class="c nu pd" style="left:231px;top:1018px;width:67.7px;height:32px;"><span>36.15</span></div>
<div class="c " style="left:300px;top:1020.4px;width:59.27px;height:27.6px;background:#ee6a6c"></div>
<div class="c nu" style="left:298.7px;top:1018px;width:74.3px;height:32px;"><span>84.07%</span></div>
<div class="c nu pd" style="left:373px;top:1018px;width:67px;height:32px;"><span>10.21</span></div>
<div class="c " style="left:441.3px;top:1020.4px;width:69.56px;height:27.6px;background:#ee6a6c"></div>
<div class="c nu" style="left:440px;top:1018px;width:74px;height:32px;"><span>98.66%</span></div>
<div class="c nu" style="left:514px;top:1018px;width:66.5px;height:32px;"><span>0.47%</span></div>
<div class="c nu" style="left:580.5px;top:1018px;width:75.5px;height:32px;"><span>27.08%</span></div>
<div class="c nu" style="left:656px;top:1018px;width:66px;height:32px;"><span>513300</span></div>
<div class="c nu" style="left:722px;top:1018px;width:67px;height:32px;"><span>000834</span></div>
<div class="c nm" style="left:12px;top:1050px;width:98.5px;height:32px;background:#f4b595"><span><b class="pr">港</b>香港中小</span></div>
<div class="c " style="left:110.5px;top:1050px;width:83px;height:32px;background:#fde9e8"></div>
<div class="c " style="left:193.5px;top:1050px;width:38.5px;height:32px;background:#feeceb"></div>
<div class="c " style="left:112.3px;top:1052.4px;width:73.92px;height:27.6px;background:#ee6a6c"></div>
<div class="c tv" style="left:110.5px;top:1050px;width:81.6px;height:32px;"><span>91.6</span></div>
<div class="c dc" style="left:196px;top:1050px;width:18px;height:32px;"><span>°C</span></div>
<div class="c arw" style="left:214px;top:1050px;width:17px;height:32px;"><svg class="ar arr" width="13" height="7" viewBox="0 0 13 7"><path d="M0.3 3.5L10 3.5" stroke="#111" stroke-width="1.1" fill="none"/><path d="M12.8 3.5L8.5 6.2L9.5 3.5L8.5 0.8Z" fill="#111"/></svg></div>
<div class="c nu pd" style="left:231px;top:1050px;width:67.7px;height:32px;"><span>20.18</span></div>
<div class="c " style="left:300px;top:1052.4px;width:70.36px;height:27.6px;background:#ee6a6c"></div>
<div class="c nu" style="left:298.7px;top:1050px;width:74.3px;height:32px;"><span>99.80%</span></div>
<div class="c nu pd" style="left:373px;top:1050px;width:67px;height:32px;"><span>1.58</span></div>
<div class="c " style="left:441.3px;top:1052.4px;width:58.75px;height:27.6px;background:#ee6a6c"></div>
<div class="c nu" style="left:440px;top:1050px;width:74px;height:32px;"><span>83.33%</span></div>
<div class="c nu" style="left:514px;top:1050px;width:66.5px;height:32px;"><span>2.38%</span></div>
<div class="c nu" style="left:580.5px;top:1050px;width:75.5px;height:32px;"><span>7.06%</span></div>
<div class="c nu" style="left:656px;top:1050px;width:66px;height:32px;"><span>501021</span></div>
<div class="c nu" style="left:722px;top:1050px;width:67px;height:32px;"><span>501021</span></div>
<div class="c nm" style="left:12px;top:1082px;width:98.5px;height:32px;background:#f4b595"><span><b class="pb">美</b>标普<i>500</i></span></div>
<div class="c " style="left:110.5px;top:1082px;width:83px;height:32px;background:#fde9e8"></div>
<div class="c " style="left:193.5px;top:1082px;width:38.5px;height:32px;background:#feeceb"></div>
<div class="c " style="left:112.3px;top:1084.4px;width:75.37px;height:27.6px;background:#ee6a6c"></div>
<div class="c tv" style="left:110.5px;top:1082px;width:81.6px;height:32px;"><span>93.4</span></div>
<div class="c dc" style="left:196px;top:1082px;width:18px;height:32px;"><span>°C</span></div>
<div class="c arw" style="left:214px;top:1082px;width:17px;height:32px;"><svg class="ar" width="10" height="10" viewBox="0 0 10 10"><path d="M0.8 0.8L7.6 7.6" stroke="#1fb25f" stroke-width="1.05" fill="none"/><path d="M9.3 9.3L6 8.7L8.7 6Z" fill="#1fb25f"/></svg></div>
<div class="c nu pd" style="left:231px;top:1082px;width:67.7px;height:32px;"><span>29.27</span></div>
<div class="c " style="left:300px;top:1084.4px;width:61.7px;height:27.6px;background:#ee6a6c"></div>
<div class="c nu" style="left:298.7px;top:1082px;width:74.3px;height:32px;"><span>87.52%</span></div>
<div class="c nu pd" style="left:373px;top:1082px;width:67px;height:32px;"><span>5.57</span></div>
<div class="c " style="left:441.3px;top:1084.4px;width:69.96px;height:27.6px;background:#ee6a6c"></div>
<div class="c nu" style="left:440px;top:1082px;width:74px;height:32px;"><span>99.23%</span></div>
<div class="c nu" style="left:514px;top:1082px;width:66.5px;height:32px;"><span>1.08%</span></div>
<div class="c nu" style="left:580.5px;top:1082px;width:75.5px;height:32px;"><span>18.47%</span></div>
<div class="c nu" style="left:656px;top:1082px;width:66px;height:32px;"><span>513500</span></div>
<div class="c nu" style="left:722px;top:1082px;width:67px;height:32px;"><span>050025</span></div>
<div class="c note" style="left:12px;top:1114px;width:777px;height:32px;"><span>跨境指数采用近<i>10</i>年数据，部分指数有一定的时差，请留意；</span></div>
<div class="c stitle" style="left:12px;top:1146px;width:777px;height:32px;"><span class="st">三、红利指数特色版块（官方数据）</span><span class="fm">指数温度 = 30%PE + 30%PB + 40%股息率</span></div>
<div class="c hd" style="left:12px;top:1178px;width:98.5px;height:32px;"><span>指数名称</span></div>
<div class="c hd" style="left:110.5px;top:1178px;width:120.5px;height:32px;"><span>指数温度</span></div>
<div class="c hd hl0" style="left:231px;top:1178px;width:67.7px;height:32px;"><span>PE</span></div>
<div class="c hd" style="left:298.7px;top:1178px;width:74.3px;height:32px;"><span>百分位</span></div>
<div class="c hd hl0" style="left:373px;top:1178px;width:67px;height:32px;"><span>PB</span></div>
<div class="c hd" style="left:440px;top:1178px;width:74px;height:32px;"><span>百分位</span></div>
<div class="c hd" style="left:514px;top:1178px;width:66.5px;height:32px;"><span>股息率</span></div>
<div class="c hd" style="left:580.5px;top:1178px;width:75.5px;height:32px;"><span>百分位</span></div>
<div class="c hd" style="left:656px;top:1178px;width:66px;height:32px;"><span>场内代码</span></div>
<div class="c hd" style="left:722px;top:1178px;width:67px;height:32px;"><span>场外代码</span></div>
<div class="c nm" style="left:12px;top:1210px;width:98.5px;height:31px;background:#ffe699"><span>中证红利</span></div>
<div class="c " style="left:110.5px;top:1210px;width:83px;height:31px;background:#fff5da"></div>
<div class="c " style="left:193.5px;top:1210px;width:38.5px;height:31px;background:#fff6de"></div>
<div class="c " style="left:112.3px;top:1212.4px;width:33.89px;height:26.6px;background:#ffd654"></div>
<div class="c tv" style="left:110.5px;top:1210px;width:81.6px;height:31px;"><span>42.0</span></div>
<div class="c dc" style="left:196px;top:1210px;width:18px;height:31px;"><span>°C</span></div>
<div class="c arw" style="left:214px;top:1210px;width:17px;height:31px;"><svg class="ar" width="10" height="10" viewBox="0 0 10 10"><path d="M0.8 9.2L7.6 2.4" stroke="#ff2020" stroke-width="1.05" fill="none"/><path d="M9.3 0.7L6 1.3L8.7 4Z" fill="#ff2020"/></svg></div>
<div class="c nu pd" style="left:231px;top:1210px;width:67.7px;height:31px;"><span>10.11</span></div>
<div class="c " style="left:300px;top:1212.4px;width:27.85px;height:26.6px;background:#ffd654"></div>
<div class="c nu" style="left:298.7px;top:1210px;width:74.3px;height:31px;"><span>39.50%</span></div>
<div class="c nu pd" style="left:373px;top:1210px;width:67px;height:31px;"><span>0.84</span></div>
<div class="c " style="left:441.3px;top:1212.4px;width:33.11px;height:26.6px;background:#ffd654"></div>
<div class="c nu" style="left:440px;top:1210px;width:74px;height:31px;"><span>46.97%</span></div>
<div class="c nu" style="left:514px;top:1210px;width:66.5px;height:31px;"><span>4.86%</span></div>
<div class="c " style="left:582px;top:1212.4px;width:28.36px;height:26.6px;background:#ffd654"></div>
<div class="c nu" style="left:580.5px;top:1210px;width:75.5px;height:31px;"><span>40.22%</span></div>
<div class="c nu" style="left:656px;top:1210px;width:66px;height:31px;"><span>515080</span></div>
<div class="c nu" style="left:722px;top:1210px;width:67px;height:31px;"><span>009051</span></div>
<div class="c nm" style="left:12px;top:1241px;width:98.5px;height:32px;background:#ffe699"><span>红利低波</span></div>
<div class="c " style="left:110.5px;top:1241px;width:83px;height:32px;background:#fff5da"></div>
<div class="c " style="left:193.5px;top:1241px;width:38.5px;height:32px;background:#fff6de"></div>
<div class="c " style="left:112.3px;top:1243.4px;width:37.61px;height:27.6px;background:#ffd654"></div>
<div class="c tv" style="left:110.5px;top:1241px;width:81.6px;height:32px;"><span>46.6</span></div>
<div class="c dc" style="left:196px;top:1241px;width:18px;height:32px;"><span>°C</span></div>
<div class="c arw" style="left:214px;top:1241px;width:17px;height:32px;"><svg class="ar" width="10" height="10" viewBox="0 0 10 10"><path d="M0.8 9.2L7.6 2.4" stroke="#ff2020" stroke-width="1.05" fill="none"/><path d="M9.3 0.7L6 1.3L8.7 4Z" fill="#ff2020"/></svg></div>
<div class="c nu pd" style="left:231px;top:1241px;width:67.7px;height:32px;"><span>8.05</span></div>
<div class="c " style="left:300px;top:1243.4px;width:28.53px;height:27.6px;background:#ffd654"></div>
<div class="c nu" style="left:298.7px;top:1241px;width:74.3px;height:32px;"><span>40.47%</span></div>
<div class="c nu pd" style="left:373px;top:1241px;width:67px;height:32px;"><span>0.86</span></div>
<div class="c " style="left:441.3px;top:1243.4px;width:40.43px;height:27.6px;background:#ffd654"></div>
<div class="c nu" style="left:440px;top:1241px;width:74px;height:32px;"><span>57.35%</span></div>
<div class="c nu" style="left:514px;top:1241px;width:66.5px;height:32px;"><span>4.95%</span></div>
<div class="c " style="left:582px;top:1243.4px;width:30.47px;height:27.6px;background:#ffd654"></div>
<div class="c nu" style="left:580.5px;top:1241px;width:75.5px;height:32px;"><span>43.22%</span></div>
<div class="c nu" style="left:656px;top:1241px;width:66px;height:32px;"><span>563020</span></div>
<div class="c nu" style="left:722px;top:1241px;width:67px;height:32px;"><span>005561</span></div>
<div class="c nm" style="left:12px;top:1273px;width:98.5px;height:32px;background:#ffe699"><span>上证红利</span></div>
<div class="c " style="left:110.5px;top:1273px;width:83px;height:32px;background:#fff5da"></div>
<div class="c " style="left:193.5px;top:1273px;width:38.5px;height:32px;background:#fff6de"></div>
<div class="c " style="left:112.3px;top:1275.4px;width:39.54px;height:27.6px;background:#ffd654"></div>
<div class="c tv" style="left:110.5px;top:1273px;width:81.6px;height:32px;"><span>49.0</span></div>
<div class="c dc" style="left:196px;top:1273px;width:18px;height:32px;"><span>°C</span></div>
<div class="c arw" style="left:214px;top:1273px;width:17px;height:32px;"><svg class="ar" width="10" height="10" viewBox="0 0 10 10"><path d="M0.8 9.2L7.6 2.4" stroke="#ff2020" stroke-width="1.05" fill="none"/><path d="M9.3 0.7L6 1.3L8.7 4Z" fill="#ff2020"/></svg></div>
<div class="c nu pd" style="left:231px;top:1273px;width:67.7px;height:32px;"><span>8.93</span></div>
<div class="c " style="left:300px;top:1275.4px;width:34.2px;height:27.6px;background:#ffd654"></div>
<div class="c nu" style="left:298.7px;top:1273px;width:74.3px;height:32px;"><span>48.51%</span></div>
<div class="c nu pd" style="left:373px;top:1273px;width:67px;height:32px;"><span>0.83</span></div>
<div class="c " style="left:441.3px;top:1275.4px;width:41.53px;height:27.6px;background:#ffd654"></div>
<div class="c nu" style="left:440px;top:1273px;width:74px;height:32px;"><span>58.91%</span></div>
<div class="c nu" style="left:514px;top:1273px;width:66.5px;height:32px;"><span>5.26%</span></div>
<div class="c " style="left:582px;top:1275.4px;width:29.5px;height:27.6px;background:#ffd654"></div>
<div class="c nu" style="left:580.5px;top:1273px;width:75.5px;height:32px;"><span>41.84%</span></div>
<div class="c nu" style="left:656px;top:1273px;width:66px;height:32px;"><span>510880</span></div>
<div class="c nu" style="left:722px;top:1273px;width:67px;height:32px;"><span>012761</span></div>
<div class="c nm" style="left:12px;top:1305px;width:98.5px;height:32px;background:#ffe699"><span><i>300</i>红利低波</span></div>
<div class="c " style="left:110.5px;top:1305px;width:83px;height:32px;background:#fff5da"></div>
<div class="c " style="left:193.5px;top:1305px;width:38.5px;height:32px;background:#fff6de"></div>
<div class="c " style="left:112.3px;top:1307.4px;width:44.63px;height:27.6px;background:#ffd654"></div>
<div class="c tv" style="left:110.5px;top:1305px;width:81.6px;height:32px;"><span>55.3</span></div>
<div class="c dc" style="left:196px;top:1305px;width:18px;height:32px;"><span>°C</span></div>
<div class="c arw" style="left:214px;top:1305px;width:17px;height:32px;"><svg class="ar" width="10" height="10" viewBox="0 0 10 10"><path d="M0.8 9.2L7.6 2.4" stroke="#ff2020" stroke-width="1.05" fill="none"/><path d="M9.3 0.7L6 1.3L8.7 4Z" fill="#ff2020"/></svg></div>
<div class="c nu pd" style="left:231px;top:1305px;width:67.7px;height:32px;"><span>8.86</span></div>
<div class="c " style="left:300px;top:1307.4px;width:52.58px;height:27.6px;background:#ffd654"></div>
<div class="c nu" style="left:298.7px;top:1305px;width:74.3px;height:32px;"><span>74.58%</span></div>
<div class="c nu pd" style="left:373px;top:1305px;width:67px;height:32px;"><span>0.93</span></div>
<div class="c " style="left:441.3px;top:1307.4px;width:52.6px;height:27.6px;background:#ffd654"></div>
<div class="c nu" style="left:440px;top:1305px;width:74px;height:32px;"><span>74.61%</span></div>
<div class="c nu" style="left:514px;top:1305px;width:66.5px;height:32px;"><span>4.59%</span></div>
<div class="c " style="left:582px;top:1307.4px;width:18.63px;height:27.6px;background:#ffd654"></div>
<div class="c nu" style="left:580.5px;top:1305px;width:75.5px;height:32px;"><span>26.43%</span></div>
<div class="c nu" style="left:656px;top:1305px;width:66px;height:32px;"><span>515300</span></div>
<div class="c nu" style="left:722px;top:1305px;width:67px;height:32px;"><span>007605</span></div>
<div class="c nm" style="left:12px;top:1337px;width:98.5px;height:32px;background:#ffe699"><span>红利低波<i>100</i></span></div>
<div class="c " style="left:110.5px;top:1337px;width:83px;height:32px;background:#fff5da"></div>
<div class="c " style="left:193.5px;top:1337px;width:38.5px;height:32px;background:#fff6de"></div>
<div class="c " style="left:112.3px;top:1339.4px;width:50.84px;height:27.6px;background:#ffd654"></div>
<div class="c tv" style="left:110.5px;top:1337px;width:81.6px;height:32px;"><span>63.0</span></div>
<div class="c dc" style="left:196px;top:1337px;width:18px;height:32px;"><span>°C</span></div>
<div class="c arw" style="left:214px;top:1337px;width:17px;height:32px;"><svg class="ar" width="10" height="10" viewBox="0 0 10 10"><path d="M0.8 9.2L7.6 2.4" stroke="#ff2020" stroke-width="1.05" fill="none"/><path d="M9.3 0.7L6 1.3L8.7 4Z" fill="#ff2020"/></svg></div>
<div class="c nu pd" style="left:231px;top:1337px;width:67.7px;height:32px;"><span>9.96</span></div>
<div class="c " style="left:300px;top:1339.4px;width:51.74px;height:27.6px;background:#ffd654"></div>
<div class="c nu" style="left:298.7px;top:1337px;width:74.3px;height:32px;"><span>73.39%</span></div>
<div class="c nu pd" style="left:373px;top:1337px;width:67px;height:32px;"><span>1.00</span></div>
<div class="c " style="left:441.3px;top:1339.4px;width:57.17px;height:27.6px;background:#ee6a6c"></div>
<div class="c nu" style="left:440px;top:1337px;width:74px;height:32px;"><span>81.09%</span></div>
<div class="c nu" style="left:514px;top:1337px;width:66.5px;height:32px;"><span>4.78%</span></div>
<div class="c " style="left:582px;top:1339.4px;width:29.31px;height:27.6px;background:#ffd654"></div>
<div class="c nu" style="left:580.5px;top:1337px;width:75.5px;height:32px;"><span>41.58%</span></div>
<div class="c nu" style="left:656px;top:1337px;width:66px;height:32px;"><span>159307</span></div>
<div class="c nu" style="left:722px;top:1337px;width:67px;height:32px;"><span>021550</span></div>
<div class="c nm" style="left:12px;top:1369px;width:98.5px;height:32px;background:#ffe699"><span><b class="pr">港</b>央企红利</span></div>
<div class="c " style="left:110.5px;top:1369px;width:83px;height:32px;background:#fff5da"></div>
<div class="c " style="left:193.5px;top:1369px;width:38.5px;height:32px;background:#fff6de"></div>
<div class="c " style="left:112.3px;top:1371.4px;width:54.07px;height:27.6px;background:#ffd654"></div>
<div class="c tv" style="left:110.5px;top:1369px;width:81.6px;height:32px;"><span>67.0</span></div>
<div class="c dc" style="left:196px;top:1369px;width:18px;height:32px;"><span>°C</span></div>
<div class="c arw" style="left:214px;top:1369px;width:17px;height:32px;"><svg class="ar" width="10" height="10" viewBox="0 0 10 10"><path d="M0.8 9.2L7.6 2.4" stroke="#ff2020" stroke-width="1.05" fill="none"/><path d="M9.3 0.7L6 1.3L8.7 4Z" fill="#ff2020"/></svg></div>
<div class="c nu pd" style="left:231px;top:1369px;width:67.7px;height:32px;"><span>8.11</span></div>
<div class="c " style="left:300px;top:1371.4px;width:53.79px;height:27.6px;background:#ffd654"></div>
<div class="c nu" style="left:298.7px;top:1369px;width:74.3px;height:32px;"><span>76.30%</span></div>
<div class="c nu pd" style="left:373px;top:1369px;width:67px;height:32px;"><span>0.71</span></div>
<div class="c " style="left:441.3px;top:1371.4px;width:45.96px;height:27.6px;background:#ffd654"></div>
<div class="c nu" style="left:440px;top:1369px;width:74px;height:32px;"><span>65.19%</span></div>
<div class="c nu" style="left:514px;top:1369px;width:66.5px;height:32px;"><span>5.99%</span></div>
<div class="c " style="left:582px;top:1371.4px;width:43.21px;height:27.6px;background:#ffd654"></div>
<div class="c nu" style="left:580.5px;top:1369px;width:75.5px;height:32px;"><span>61.29%</span></div>
<div class="c nu" style="left:656px;top:1369px;width:66px;height:32px;"><span>513910</span></div>
<div class="c nu" style="left:722px;top:1369px;width:67px;height:32px;"><span>021142</span></div>
<div class="c nm" style="left:12px;top:1401px;width:98.5px;height:31px;background:#ffe699"><span>东证红利低波</span></div>
<div class="c " style="left:110.5px;top:1401px;width:83px;height:31px;background:#fff5da"></div>
<div class="c " style="left:193.5px;top:1401px;width:38.5px;height:31px;background:#fff6de"></div>
<div class="c " style="left:112.3px;top:1403.4px;width:54.39px;height:26.6px;background:#ffd654"></div>
<div class="c tv" style="left:110.5px;top:1401px;width:81.6px;height:31px;"><span>67.4</span></div>
<div class="c dc" style="left:196px;top:1401px;width:18px;height:31px;"><span>°C</span></div>
<div class="c arw" style="left:214px;top:1401px;width:17px;height:31px;"><svg class="ar" width="10" height="10" viewBox="0 0 10 10"><path d="M0.8 9.2L7.6 2.4" stroke="#ff2020" stroke-width="1.05" fill="none"/><path d="M9.3 0.7L6 1.3L8.7 4Z" fill="#ff2020"/></svg></div>
<div class="c nu pd" style="left:231px;top:1401px;width:67.7px;height:31px;"><span>9.02</span></div>
<div class="c " style="left:300px;top:1403.4px;width:53.21px;height:26.6px;background:#ffd654"></div>
<div class="c nu" style="left:298.7px;top:1401px;width:74.3px;height:31px;"><span>75.47%</span></div>
<div class="c nu pd" style="left:373px;top:1401px;width:67px;height:31px;"><span>0.82</span></div>
<div class="c " style="left:441.3px;top:1403.4px;width:50.39px;height:26.6px;background:#ffd654"></div>
<div class="c nu" style="left:440px;top:1401px;width:74px;height:31px;"><span>71.47%</span></div>
<div class="c nu" style="left:514px;top:1401px;width:66.5px;height:31px;"><span>4.32%</span></div>
<div class="c " style="left:582px;top:1403.4px;width:41.06px;height:26.6px;background:#ffd654"></div>
<div class="c nu" style="left:580.5px;top:1401px;width:75.5px;height:31px;"><span>58.24%</span></div>
<div class="c nu" style="left:656px;top:1401px;width:66px;height:31px;"><span>-</span></div>
<div class="c nu" style="left:722px;top:1401px;width:67px;height:31px;"><span>012708</span></div>
<div class="c nm" style="left:12px;top:1432px;width:98.5px;height:32px;background:#ffe699"><span><b class="pr">港</b>高股息</span></div>
<div class="c " style="left:110.5px;top:1432px;width:83px;height:32px;background:#fff5da"></div>
<div class="c " style="left:193.5px;top:1432px;width:38.5px;height:32px;background:#fff6de"></div>
<div class="c " style="left:112.3px;top:1434.4px;width:61.65px;height:27.6px;background:#ffd654"></div>
<div class="c tv" style="left:110.5px;top:1432px;width:81.6px;height:32px;"><span>76.4</span></div>
<div class="c dc" style="left:196px;top:1432px;width:18px;height:32px;"><span>°C</span></div>
<div class="c arw" style="left:214px;top:1432px;width:17px;height:32px;"><svg class="ar" width="10" height="10" viewBox="0 0 10 10"><path d="M0.8 9.2L7.6 2.4" stroke="#ff2020" stroke-width="1.05" fill="none"/><path d="M9.3 0.7L6 1.3L8.7 4Z" fill="#ff2020"/></svg></div>
<div class="c nu pd" style="left:231px;top:1432px;width:67.7px;height:32px;"><span>9.22</span></div>
<div class="c " style="left:300px;top:1434.4px;width:65.42px;height:27.6px;background:#ee6a6c"></div>
<div class="c nu" style="left:298.7px;top:1432px;width:74.3px;height:32px;"><span>92.80%</span></div>
<div class="c nu pd" style="left:373px;top:1432px;width:67px;height:32px;"><span>0.77</span></div>
<div class="c " style="left:441.3px;top:1434.4px;width:51.75px;height:27.6px;background:#ee6a6c"></div>
<div class="c nu" style="left:440px;top:1432px;width:74px;height:32px;"><span>73.41%</span></div>
<div class="c nu" style="left:514px;top:1432px;width:66.5px;height:32px;"><span>6.81%</span></div>
<div class="c " style="left:582px;top:1434.4px;width:46.7px;height:27.6px;background:#ffd654"></div>
<div class="c nu" style="left:580.5px;top:1432px;width:75.5px;height:32px;"><span>66.24%</span></div>
<div class="c nu" style="left:656px;top:1432px;width:66px;height:32px;"><span>513820</span></div>
<div class="c nu" style="left:722px;top:1432px;width:67px;height:32px;"><span>501305</span></div>
<div class="c nm" style="left:12px;top:1464px;width:98.5px;height:32px;background:#ffe699"><span><b class="pr">港</b>高股息精选</span></div>
<div class="c " style="left:110.5px;top:1464px;width:83px;height:32px;background:#fff5da"></div>
<div class="c " style="left:193.5px;top:1464px;width:38.5px;height:32px;background:#fff6de"></div>
<div class="c " style="left:112.3px;top:1466.4px;width:63.19px;height:27.6px;background:#ffd654"></div>
<div class="c tv" style="left:110.5px;top:1464px;width:81.6px;height:32px;"><span>78.3</span></div>
<div class="c dc" style="left:196px;top:1464px;width:18px;height:32px;"><span>°C</span></div>
<div class="c arw" style="left:214px;top:1464px;width:17px;height:32px;"><svg class="ar" width="10" height="10" viewBox="0 0 10 10"><path d="M0.8 9.2L7.6 2.4" stroke="#ff2020" stroke-width="1.05" fill="none"/><path d="M9.3 0.7L6 1.3L8.7 4Z" fill="#ff2020"/></svg></div>
<div class="c nu pd" style="left:231px;top:1464px;width:67.7px;height:32px;"><span>15.99</span></div>
<div class="c " style="left:300px;top:1466.4px;width:66.45px;height:27.6px;background:#ee6a6c"></div>
<div class="c nu" style="left:298.7px;top:1464px;width:74.3px;height:32px;"><span>94.26%</span></div>
<div class="c nu pd" style="left:373px;top:1464px;width:67px;height:32px;"><span>1.63</span></div>
<div class="c " style="left:441.3px;top:1466.4px;width:59.36px;height:27.6px;background:#ee6a6c"></div>
<div class="c nu" style="left:440px;top:1464px;width:74px;height:32px;"><span>84.20%</span></div>
<div class="c nu" style="left:514px;top:1464px;width:66.5px;height:32px;"><span>5.49%</span></div>
<div class="c " style="left:582px;top:1466.4px;width:43.64px;height:27.6px;background:#ffd654"></div>
<div class="c nu" style="left:580.5px;top:1464px;width:75.5px;height:32px;"><span>61.90%</span></div>
<div class="c nu" style="left:656px;top:1464px;width:66px;height:32px;"><span>159691</span></div>
<div class="c nu" style="left:722px;top:1464px;width:67px;height:32px;"><span>024247</span></div>
<div class="c note" style="left:12px;top:1496px;width:777px;height:32px;font-size:12.46px"><span>统计周期统一为近<i>10</i>年，<i>PE</i>和股息率为官方数据，<i>PB</i>为市值加权数据；恒生与标普旗下红利有效数据缺失，还得等等；</span></div>
<div class="c stitle" style="left:12px;top:1528px;width:777px;height:32px;"><span class="st">四、板块宽基与其他策略指数</span><span class="fm">指数温度 = 50%PE +&nbsp; 50%PB</span></div>
<div class="c hd" style="left:12px;top:1560px;width:98.5px;height:32px;"><span>指数名称</span></div>
<div class="c hd" style="left:110.5px;top:1560px;width:120.5px;height:32px;"><span>指数温度</span></div>
<div class="c hd hl0" style="left:231px;top:1560px;width:67.7px;height:32px;"><span>PE</span></div>
<div class="c hd" style="left:298.7px;top:1560px;width:74.3px;height:32px;"><span>百分位</span></div>
<div class="c hd hl0" style="left:373px;top:1560px;width:67px;height:32px;"><span>PB</span></div>
<div class="c hd" style="left:440px;top:1560px;width:74px;height:32px;"><span>百分位</span></div>
<div class="c hd" style="left:514px;top:1560px;width:66.5px;height:32px;"><span>股息率</span></div>
<div class="c hd hl0" style="left:580.5px;top:1560px;width:75.5px;height:32px;"><span>ROE</span></div>
<div class="c hd" style="left:656px;top:1560px;width:66px;height:32px;"><span>场内代码</span></div>
<div class="c hd" style="left:722px;top:1560px;width:67px;height:32px;"><span>场外代码</span></div>
<div class="c nm" style="left:12px;top:1592px;width:98.5px;height:32px;background:#c6e0b4"><span>红利质量</span></div>
<div class="c " style="left:110.5px;top:1592px;width:83px;height:32px;background:#e9f1e1"></div>
<div class="c " style="left:193.5px;top:1592px;width:38.5px;height:32px;background:#edf3e7"></div>
<div class="c " style="left:112.3px;top:1594.4px;width:4.28px;height:27.6px;background:#addb93"></div>
<div class="c tv" style="left:110.5px;top:1592px;width:81.6px;height:32px;"><span>5.3</span></div>
<div class="c dc" style="left:196px;top:1592px;width:18px;height:32px;"><span>°C</span></div>
<div class="c arw" style="left:214px;top:1592px;width:17px;height:32px;"><svg class="ar" width="10" height="10" viewBox="0 0 10 10"><path d="M0.8 9.2L7.6 2.4" stroke="#ff2020" stroke-width="1.05" fill="none"/><path d="M9.3 0.7L6 1.3L8.7 4Z" fill="#ff2020"/></svg></div>
<div class="c nu pd" style="left:231px;top:1592px;width:67.7px;height:32px;"><span>14.06</span></div>
<div class="c " style="left:300px;top:1594.4px;width:1.58px;height:27.6px;background:#addb93"></div>
<div class="c nu" style="left:298.7px;top:1592px;width:74.3px;height:32px;"><span>2.24%</span></div>
<div class="c nu pd" style="left:373px;top:1592px;width:67px;height:32px;"><span>2.48</span></div>
<div class="c " style="left:441.3px;top:1594.4px;width:5.86px;height:27.6px;background:#addb93"></div>
<div class="c nu" style="left:440px;top:1592px;width:74px;height:32px;"><span>8.31%</span></div>
<div class="c nu" style="left:514px;top:1592px;width:66.5px;height:32px;"><span>2.91%</span></div>
<div class="c nu" style="left:580.5px;top:1592px;width:75.5px;height:32px;"><span>20.19%</span></div>
<div class="c nu" style="left:656px;top:1592px;width:66px;height:32px;"><span>159758</span></div>
<div class="c nu" style="left:722px;top:1592px;width:67px;height:32px;"><span>016440</span></div>
<div class="c nm" style="left:12px;top:1624px;width:98.5px;height:32px;background:#ffe699"><span><i>300</i>价值</span></div>
<div class="c " style="left:110.5px;top:1624px;width:83px;height:32px;background:#fff5da"></div>
<div class="c " style="left:193.5px;top:1624px;width:38.5px;height:32px;background:#fff6de"></div>
<div class="c " style="left:112.3px;top:1626.4px;width:33.49px;height:27.6px;background:#ffd654"></div>
<div class="c tv" style="left:110.5px;top:1624px;width:81.6px;height:32px;"><span>41.5</span></div>
<div class="c dc" style="left:196px;top:1624px;width:18px;height:32px;"><span>°C</span></div>
<div class="c arw" style="left:214px;top:1624px;width:17px;height:32px;"><svg class="ar" width="10" height="10" viewBox="0 0 10 10"><path d="M0.8 9.2L7.6 2.4" stroke="#ff2020" stroke-width="1.05" fill="none"/><path d="M9.3 0.7L6 1.3L8.7 4Z" fill="#ff2020"/></svg></div>
<div class="c nu pd" style="left:231px;top:1624px;width:67.7px;height:32px;"><span>9.04</span></div>
<div class="c " style="left:300px;top:1626.4px;width:39.3px;height:27.6px;background:#ffd654"></div>
<div class="c nu" style="left:298.7px;top:1624px;width:74.3px;height:32px;"><span>55.75%</span></div>
<div class="c nu pd" style="left:373px;top:1624px;width:67px;height:32px;"><span>0.94</span></div>
<div class="c " style="left:441.3px;top:1626.4px;width:19.24px;height:27.6px;background:#ffd654"></div>
<div class="c nu" style="left:440px;top:1624px;width:74px;height:32px;"><span>27.29%</span></div>
<div class="c nu" style="left:514px;top:1624px;width:66.5px;height:32px;"><span>4.10%</span></div>
<div class="c nu" style="left:580.5px;top:1624px;width:75.5px;height:32px;"><span>11.96%</span></div>
<div class="c nu" style="left:656px;top:1624px;width:66px;height:32px;"><span>-</span></div>
<div class="c nu" style="left:722px;top:1624px;width:67px;height:32px;"><span>519671</span></div>
<div class="c nm" style="left:12px;top:1656px;width:98.5px;height:32px;background:#ffe699"><span>基本面<i>50</i></span></div>
<div class="c " style="left:110.5px;top:1656px;width:83px;height:32px;background:#fff5da"></div>
<div class="c " style="left:193.5px;top:1656px;width:38.5px;height:32px;background:#fff6de"></div>
<div class="c " style="left:112.3px;top:1658.4px;width:37.2px;height:27.6px;background:#ffd654"></div>
<div class="c tv" style="left:110.5px;top:1656px;width:81.6px;height:32px;"><span>46.1</span></div>
<div class="c dc" style="left:196px;top:1656px;width:18px;height:32px;"><span>°C</span></div>
<div class="c arw" style="left:214px;top:1656px;width:17px;height:32px;"><svg class="ar" width="10" height="10" viewBox="0 0 10 10"><path d="M0.8 9.2L7.6 2.4" stroke="#ff2020" stroke-width="1.05" fill="none"/><path d="M9.3 0.7L6 1.3L8.7 4Z" fill="#ff2020"/></svg></div>
<div class="c nu pd" style="left:231px;top:1656px;width:67.7px;height:32px;"><span>9.83</span></div>
<div class="c " style="left:300px;top:1658.4px;width:46.5px;height:27.6px;background:#ffd654"></div>
<div class="c nu" style="left:298.7px;top:1656px;width:74.3px;height:32px;"><span>65.96%</span></div>
<div class="c nu pd" style="left:373px;top:1656px;width:67px;height:32px;"><span>1.02</span></div>
<div class="c " style="left:441.3px;top:1658.4px;width:18.51px;height:27.6px;background:#ffd654"></div>
<div class="c nu" style="left:440px;top:1656px;width:74px;height:32px;"><span>26.26%</span></div>
<div class="c nu" style="left:514px;top:1656px;width:66.5px;height:32px;"><span>3.95%</span></div>
<div class="c nu" style="left:580.5px;top:1656px;width:75.5px;height:32px;"><span>11.72%</span></div>
<div class="c nu" style="left:656px;top:1656px;width:66px;height:32px;"><span>512750</span></div>
<div class="c nu" style="left:722px;top:1656px;width:67px;height:32px;"><span>160716</span></div>
<div class="c nm" style="left:12px;top:1688px;width:98.5px;height:32px;background:#ffe699"><span>创业板<i>50</i></span></div>
<div class="c " style="left:110.5px;top:1688px;width:83px;height:32px;background:#fff5da"></div>
<div class="c " style="left:193.5px;top:1688px;width:38.5px;height:32px;background:#fff6de"></div>
<div class="c " style="left:112.3px;top:1690.4px;width:43.09px;height:27.6px;background:#ffd654"></div>
<div class="c tv" style="left:110.5px;top:1688px;width:81.6px;height:32px;"><span>53.4</span></div>
<div class="c dc" style="left:196px;top:1688px;width:18px;height:32px;"><span>°C</span></div>
<div class="c arw" style="left:214px;top:1688px;width:17px;height:32px;"><svg class="ar" width="10" height="10" viewBox="0 0 10 10"><path d="M0.8 9.2L7.6 2.4" stroke="#ff2020" stroke-width="1.05" fill="none"/><path d="M9.3 0.7L6 1.3L8.7 4Z" fill="#ff2020"/></svg></div>
<div class="c nu pd" style="left:231px;top:1688px;width:67.7px;height:32px;"><span>42.59</span></div>
<div class="c " style="left:300px;top:1690.4px;width:29.14px;height:27.6px;background:#ffd654"></div>
<div class="c nu" style="left:298.7px;top:1688px;width:74.3px;height:32px;"><span>41.34%</span></div>
<div class="c nu pd" style="left:373px;top:1688px;width:67px;height:32px;"><span>6.58</span></div>
<div class="c " style="left:441.3px;top:1690.4px;width:46.12px;height:27.6px;background:#ffd654"></div>
<div class="c nu" style="left:440px;top:1688px;width:74px;height:32px;"><span>65.42%</span></div>
<div class="c nu" style="left:514px;top:1688px;width:66.5px;height:32px;"><span>0.85%</span></div>
<div class="c nu" style="left:580.5px;top:1688px;width:75.5px;height:32px;"><span>13.25%</span></div>
<div class="c nu" style="left:656px;top:1688px;width:66px;height:32px;"><span>159682</span></div>
<div class="c nu" style="left:722px;top:1688px;width:67px;height:32px;"><span>007464</span></div>
<div class="c nm" style="left:12px;top:1720px;width:98.5px;height:32px;background:#ffe699"><span><i>300</i>成长</span></div>
<div class="c " style="left:110.5px;top:1720px;width:83px;height:32px;background:#fff5da"></div>
<div class="c " style="left:193.5px;top:1720px;width:38.5px;height:32px;background:#fff6de"></div>
<div class="c " style="left:112.3px;top:1722.4px;width:43.09px;height:27.6px;background:#ffd654"></div>
<div class="c tv" style="left:110.5px;top:1720px;width:81.6px;height:32px;"><span>53.4</span></div>
<div class="c dc" style="left:196px;top:1720px;width:18px;height:32px;"><span>°C</span></div>
<div class="c arw" style="left:214px;top:1720px;width:17px;height:32px;"><svg class="ar" width="10" height="10" viewBox="0 0 10 10"><path d="M0.8 9.2L7.6 2.4" stroke="#ff2020" stroke-width="1.05" fill="none"/><path d="M9.3 0.7L6 1.3L8.7 4Z" fill="#ff2020"/></svg></div>
<div class="c nu pd" style="left:231px;top:1720px;width:67.7px;height:32px;"><span>16.58</span></div>
<div class="c " style="left:300px;top:1722.4px;width:41.38px;height:27.6px;background:#ffd654"></div>
<div class="c nu" style="left:298.7px;top:1720px;width:74.3px;height:32px;"><span>58.69%</span></div>
<div class="c nu pd" style="left:373px;top:1720px;width:67px;height:32px;"><span>2.59</span></div>
<div class="c " style="left:441.3px;top:1722.4px;width:33.95px;height:27.6px;background:#ffd654"></div>
<div class="c nu" style="left:440px;top:1720px;width:74px;height:32px;"><span>48.15%</span></div>
<div class="c nu" style="left:514px;top:1720px;width:66.5px;height:32px;"><span>2.01%</span></div>
<div class="c nu" style="left:580.5px;top:1720px;width:75.5px;height:32px;"><span>18.24%</span></div>
<div class="c nu" style="left:656px;top:1720px;width:66px;height:32px;"><span>562310</span></div>
<div class="c nu" style="left:722px;top:1720px;width:67px;height:32px;"><span>-</span></div>
<div class="c nm" style="left:12px;top:1752px;width:98.5px;height:32px;background:#ffe699"><span>创业板指</span></div>
<div class="c " style="left:110.5px;top:1752px;width:83px;height:32px;background:#fff5da"></div>
<div class="c " style="left:193.5px;top:1752px;width:38.5px;height:32px;background:#fff6de"></div>
<div class="c " style="left:112.3px;top:1754.4px;width:44.06px;height:27.6px;background:#ffd654"></div>
<div class="c tv" style="left:110.5px;top:1752px;width:81.6px;height:32px;"><span>54.6</span></div>
<div class="c dc" style="left:196px;top:1752px;width:18px;height:32px;"><span>°C</span></div>
<div class="c arw" style="left:214px;top:1752px;width:17px;height:32px;"><svg class="ar" width="10" height="10" viewBox="0 0 10 10"><path d="M0.8 0.8L7.6 7.6" stroke="#1fb25f" stroke-width="1.05" fill="none"/><path d="M9.3 9.3L6 8.7L8.7 6Z" fill="#1fb25f"/></svg></div>
<div class="c nu pd" style="left:231px;top:1752px;width:67.7px;height:32px;"><span>42.66</span></div>
<div class="c " style="left:300px;top:1754.4px;width:30.03px;height:27.6px;background:#ffd654"></div>
<div class="c nu" style="left:298.7px;top:1752px;width:74.3px;height:32px;"><span>42.59%</span></div>
<div class="c nu pd" style="left:373px;top:1752px;width:67px;height:32px;"><span>5.74</span></div>
<div class="c " style="left:441.3px;top:1754.4px;width:46.96px;height:27.6px;background:#ffd654"></div>
<div class="c nu" style="left:440px;top:1752px;width:74px;height:32px;"><span>66.61%</span></div>
<div class="c nu" style="left:514px;top:1752px;width:66.5px;height:32px;"><span>0.91%</span></div>
<div class="c nu" style="left:580.5px;top:1752px;width:75.5px;height:32px;"><span>11.92%</span></div>
<div class="c nu" style="left:656px;top:1752px;width:66px;height:32px;"><span>159957</span></div>
<div class="c nu" style="left:722px;top:1752px;width:67px;height:32px;"><span>002656</span></div>
<div class="c nm" style="left:12px;top:1784px;width:98.5px;height:32px;background:#ffe699"><span>基本面<i>60</i></span></div>
<div class="c " style="left:110.5px;top:1784px;width:83px;height:32px;background:#fff5da"></div>
<div class="c " style="left:193.5px;top:1784px;width:38.5px;height:32px;background:#fff6de"></div>
<div class="c " style="left:112.3px;top:1786.4px;width:44.3px;height:27.6px;background:#ffd654"></div>
<div class="c tv" style="left:110.5px;top:1784px;width:81.6px;height:32px;"><span>54.9</span></div>
<div class="c dc" style="left:196px;top:1784px;width:18px;height:32px;"><span>°C</span></div>
<div class="c arw" style="left:214px;top:1784px;width:17px;height:32px;"><svg class="ar" width="10" height="10" viewBox="0 0 10 10"><path d="M0.8 0.8L7.6 7.6" stroke="#1fb25f" stroke-width="1.05" fill="none"/><path d="M9.3 9.3L6 8.7L8.7 6Z" fill="#1fb25f"/></svg></div>
<div class="c nu pd" style="left:231px;top:1784px;width:67.7px;height:32px;"><span>21.37</span></div>
<div class="c " style="left:300px;top:1786.4px;width:53.23px;height:27.6px;background:#ffd654"></div>
<div class="c nu" style="left:298.7px;top:1784px;width:74.3px;height:32px;"><span>75.51%</span></div>
<div class="c nu pd" style="left:373px;top:1784px;width:67px;height:32px;"><span>2.06</span></div>
<div class="c " style="left:441.3px;top:1786.4px;width:24.22px;height:27.6px;background:#ffd654"></div>
<div class="c nu" style="left:440px;top:1784px;width:74px;height:32px;"><span>34.35%</span></div>
<div class="c nu" style="left:514px;top:1784px;width:66.5px;height:32px;"><span>2.58%</span></div>
<div class="c nu" style="left:580.5px;top:1784px;width:75.5px;height:32px;"><span>11.49%</span></div>
<div class="c nu" style="left:656px;top:1784px;width:66px;height:32px;"><span>159916</span></div>
<div class="c nu" style="left:722px;top:1784px;width:67px;height:32px;"><span>530015</span></div>
<div class="c nm" style="left:12px;top:1816px;width:98.5px;height:32px;background:#ffe699"><span>深红利</span></div>
<div class="c " style="left:110.5px;top:1816px;width:83px;height:32px;background:#fff5da"></div>
<div class="c " style="left:193.5px;top:1816px;width:38.5px;height:32px;background:#fff6de"></div>
<div class="c " style="left:112.3px;top:1818.4px;width:49.63px;height:27.6px;background:#ffd654"></div>
<div class="c tv" style="left:110.5px;top:1816px;width:81.6px;height:32px;"><span>61.5</span></div>
<div class="c dc" style="left:196px;top:1816px;width:18px;height:32px;"><span>°C</span></div>
<div class="c arw" style="left:214px;top:1816px;width:17px;height:32px;"><svg class="ar" width="10" height="10" viewBox="0 0 10 10"><path d="M0.8 0.8L7.6 7.6" stroke="#1fb25f" stroke-width="1.05" fill="none"/><path d="M9.3 9.3L6 8.7L8.7 6Z" fill="#1fb25f"/></svg></div>
<div class="c nu pd" style="left:231px;top:1816px;width:67.7px;height:32px;"><span>16.14</span></div>
<div class="c " style="left:300px;top:1818.4px;width:36.95px;height:27.6px;background:#ffd654"></div>
<div class="c nu" style="left:298.7px;top:1816px;width:74.3px;height:32px;"><span>52.41%</span></div>
<div class="c nu pd" style="left:373px;top:1816px;width:67px;height:32px;"><span>2.55</span></div>
<div class="c " style="left:441.3px;top:1818.4px;width:49.8px;height:27.6px;background:#ffd654"></div>
<div class="c nu" style="left:440px;top:1816px;width:74px;height:32px;"><span>70.64%</span></div>
<div class="c nu" style="left:514px;top:1816px;width:66.5px;height:32px;"><span>3.93%</span></div>
<div class="c nu" style="left:580.5px;top:1816px;width:75.5px;height:32px;"><span>13.42%</span></div>
<div class="c nu" style="left:656px;top:1816px;width:66px;height:32px;"><span>159905</span></div>
<div class="c nu" style="left:722px;top:1816px;width:67px;height:32px;"><span>481012</span></div>
<div class="c nm" style="left:12px;top:1848px;width:98.5px;height:31px;background:#ffe699"><span><i>500</i>低波动</span></div>
<div class="c " style="left:110.5px;top:1848px;width:83px;height:31px;background:#fff5da"></div>
<div class="c " style="left:193.5px;top:1848px;width:38.5px;height:31px;background:#fff6de"></div>
<div class="c " style="left:112.3px;top:1850.4px;width:59.96px;height:26.6px;background:#ffd654"></div>
<div class="c tv" style="left:110.5px;top:1848px;width:81.6px;height:31px;"><span>74.3</span></div>
<div class="c dc" style="left:196px;top:1848px;width:18px;height:31px;"><span>°C</span></div>
<div class="c arw" style="left:214px;top:1848px;width:17px;height:31px;"><svg class="ar" width="10" height="10" viewBox="0 0 10 10"><path d="M0.8 0.8L7.6 7.6" stroke="#1fb25f" stroke-width="1.05" fill="none"/><path d="M9.3 9.3L6 8.7L8.7 6Z" fill="#1fb25f"/></svg></div>
<div class="c nu pd" style="left:231px;top:1848px;width:67.7px;height:31px;"><span>19.92</span></div>
<div class="c " style="left:300px;top:1850.4px;width:51.15px;height:26.6px;background:#ffd654"></div>
<div class="c nu" style="left:298.7px;top:1848px;width:74.3px;height:31px;"><span>72.55%</span></div>
<div class="c nu pd" style="left:373px;top:1848px;width:67px;height:31px;"><span>1.70</span></div>
<div class="c " style="left:441.3px;top:1850.4px;width:53.67px;height:26.6px;background:#ffd654"></div>
<div class="c nu" style="left:440px;top:1848px;width:74px;height:31px;"><span>76.13%</span></div>
<div class="c nu" style="left:514px;top:1848px;width:66.5px;height:31px;"><span>2.41%</span></div>
<div class="c nu" style="left:580.5px;top:1848px;width:75.5px;height:31px;"><span>7.82%</span></div>
<div class="c nu" style="left:656px;top:1848px;width:66px;height:31px;"><span>-</span></div>
<div class="c nu" style="left:722px;top:1848px;width:67px;height:31px;"><span>003318</span></div>
<div class="c nm" style="left:12px;top:1879px;width:98.5px;height:32px;background:#f4b595"><span>科创创业<i>50</i></span></div>
<div class="c " style="left:110.5px;top:1879px;width:83px;height:32px;background:#fde9e8"></div>
<div class="c " style="left:193.5px;top:1879px;width:38.5px;height:32px;background:#feeceb"></div>
<div class="c " style="left:112.3px;top:1881.4px;width:65.37px;height:27.6px;background:#ee6a6c"></div>
<div class="c tv" style="left:110.5px;top:1879px;width:81.6px;height:32px;"><span>81.0</span></div>
<div class="c dc" style="left:196px;top:1879px;width:18px;height:32px;"><span>°C</span></div>
<div class="c arw" style="left:214px;top:1879px;width:17px;height:32px;"><svg class="ar" width="10" height="10" viewBox="0 0 10 10"><path d="M0.8 0.8L7.6 7.6" stroke="#1fb25f" stroke-width="1.05" fill="none"/><path d="M9.3 9.3L6 8.7L8.7 6Z" fill="#1fb25f"/></svg></div>
<div class="c nu pd" style="left:231px;top:1879px;width:67.7px;height:32px;"><span>57.34</span></div>
<div class="c " style="left:300px;top:1881.4px;width:57.13px;height:27.6px;background:#ee6a6c"></div>
<div class="c nu" style="left:298.7px;top:1879px;width:74.3px;height:32px;"><span>81.04%</span></div>
<div class="c nu pd" style="left:373px;top:1879px;width:67px;height:32px;"><span>6.99</span></div>
<div class="c " style="left:441.3px;top:1881.4px;width:57.13px;height:27.6px;background:#ee6a6c"></div>
<div class="c nu" style="left:440px;top:1879px;width:74px;height:32px;"><span>81.04%</span></div>
<div class="c nu" style="left:514px;top:1879px;width:66.5px;height:32px;"><span>0.69%</span></div>
<div class="c nu" style="left:580.5px;top:1879px;width:75.5px;height:32px;"><span>14.57%</span></div>
<div class="c nu" style="left:656px;top:1879px;width:66px;height:32px;"><span>159783</span></div>
<div class="c nu" style="left:722px;top:1879px;width:67px;height:32px;"><span>013310</span></div>
<div class="c nm" style="left:12px;top:1911px;width:98.5px;height:32px;background:#f4b595"><span><i>500</i>质量</span></div>
<div class="c " style="left:110.5px;top:1911px;width:83px;height:32px;background:#fde9e8"></div>
<div class="c " style="left:193.5px;top:1911px;width:38.5px;height:32px;background:#feeceb"></div>
<div class="c " style="left:112.3px;top:1913.4px;width:66.58px;height:27.6px;background:#ee6a6c"></div>
<div class="c tv" style="left:110.5px;top:1911px;width:81.6px;height:32px;"><span>82.5</span></div>
<div class="c dc" style="left:196px;top:1911px;width:18px;height:32px;"><span>°C</span></div>
<div class="c arw" style="left:214px;top:1911px;width:17px;height:32px;"><svg class="ar" width="10" height="10" viewBox="0 0 10 10"><path d="M0.8 0.8L7.6 7.6" stroke="#1fb25f" stroke-width="1.05" fill="none"/><path d="M9.3 9.3L6 8.7L8.7 6Z" fill="#1fb25f"/></svg></div>
<div class="c nu pd" style="left:231px;top:1911px;width:67.7px;height:32px;"><span>20.63</span></div>
<div class="c " style="left:300px;top:1913.4px;width:63.72px;height:27.6px;background:#ee6a6c"></div>
<div class="c nu" style="left:298.7px;top:1911px;width:74.3px;height:32px;"><span>90.38%</span></div>
<div class="c nu pd" style="left:373px;top:1911px;width:67px;height:32px;"><span>2.41</span></div>
<div class="c " style="left:441.3px;top:1913.4px;width:52.65px;height:27.6px;background:#ffd654"></div>
<div class="c nu" style="left:440px;top:1911px;width:74px;height:32px;"><span>74.68%</span></div>
<div class="c nu" style="left:514px;top:1911px;width:66.5px;height:32px;"><span>1.85%</span></div>
<div class="c nu" style="left:580.5px;top:1911px;width:75.5px;height:32px;"><span>13.91%</span></div>
<div class="c nu" style="left:656px;top:1911px;width:66px;height:32px;"><span>159606</span></div>
<div class="c nu" style="left:722px;top:1911px;width:67px;height:32px;"><span>007593</span></div>
<div class="c nm" style="left:12px;top:1943px;width:98.5px;height:32px;background:#f4b595"><span>上证<i>50AH</i></span></div>
<div class="c " style="left:110.5px;top:1943px;width:83px;height:32px;background:#fde9e8"></div>
<div class="c " style="left:193.5px;top:1943px;width:38.5px;height:32px;background:#feeceb"></div>
<div class="c " style="left:112.3px;top:1945.4px;width:70.13px;height:27.6px;background:#ee6a6c"></div>
<div class="c tv" style="left:110.5px;top:1943px;width:81.6px;height:32px;"><span>86.9</span></div>
<div class="c dc" style="left:196px;top:1943px;width:18px;height:32px;"><span>°C</span></div>
<div class="c arw" style="left:214px;top:1943px;width:17px;height:32px;"><svg class="ar" width="10" height="10" viewBox="0 0 10 10"><path d="M0.8 9.2L7.6 2.4" stroke="#ff2020" stroke-width="1.05" fill="none"/><path d="M9.3 0.7L6 1.3L8.7 4Z" fill="#ff2020"/></svg></div>
<div class="c nu pd" style="left:231px;top:1943px;width:67.7px;height:32px;"><span>10.59</span></div>
<div class="c " style="left:300px;top:1945.4px;width:66.15px;height:27.6px;background:#ee6a6c"></div>
<div class="c nu" style="left:298.7px;top:1943px;width:74.3px;height:32px;"><span>93.83%</span></div>
<div class="c nu pd" style="left:373px;top:1943px;width:67px;height:32px;"><span>1.12</span></div>
<div class="c " style="left:441.3px;top:1945.4px;width:56.35px;height:27.6px;background:#ffd654"></div>
<div class="c nu" style="left:440px;top:1943px;width:74px;height:32px;"><span>79.93%</span></div>
<div class="c nu" style="left:514px;top:1943px;width:66.5px;height:32px;"><span>3.73%</span></div>
<div class="c nu" style="left:580.5px;top:1943px;width:75.5px;height:32px;"><span>10.74%</span></div>
<div class="c nu" style="left:656px;top:1943px;width:66px;height:32px;"><span>501050</span></div>
<div class="c nu" style="left:722px;top:1943px;width:67px;height:32px;"><span>501050</span></div>
<div class="c nm" style="left:12px;top:1975px;width:98.5px;height:31px;background:#f4b595"><span>科创<i>50</i></span></div>
<div class="c " style="left:110.5px;top:1975px;width:83px;height:31px;background:#fde9e8"></div>
<div class="c " style="left:193.5px;top:1975px;width:38.5px;height:31px;background:#feeceb"></div>
<div class="c " style="left:112.3px;top:1977.4px;width:70.77px;height:26.6px;background:#ee6a6c"></div>
<div class="c tv" style="left:110.5px;top:1975px;width:81.6px;height:31px;"><span>87.7</span></div>
<div class="c dc" style="left:196px;top:1975px;width:18px;height:31px;"><span>°C</span></div>
<div class="c arw" style="left:214px;top:1975px;width:17px;height:31px;"><svg class="ar" width="10" height="10" viewBox="0 0 10 10"><path d="M0.8 0.8L7.6 7.6" stroke="#1fb25f" stroke-width="1.05" fill="none"/><path d="M9.3 9.3L6 8.7L8.7 6Z" fill="#1fb25f"/></svg></div>
<div class="c nu pd" style="left:231px;top:1975px;width:67.7px;height:31px;"><span>174.17</span></div>
<div class="c " style="left:300px;top:1977.4px;width:68.03px;height:26.6px;background:#ee6a6c"></div>
<div class="c nu" style="left:298.7px;top:1975px;width:74.3px;height:31px;"><span>96.50%</span></div>
<div class="c nu pd" style="left:373px;top:1975px;width:67px;height:31px;"><span>6.68</span></div>
<div class="c " style="left:441.3px;top:1977.4px;width:55.57px;height:26.6px;background:#ffd654"></div>
<div class="c nu" style="left:440px;top:1975px;width:74px;height:31px;"><span>78.82%</span></div>
<div class="c nu" style="left:514px;top:1975px;width:66.5px;height:31px;"><span>0.30%</span></div>
<div class="c nu" style="left:580.5px;top:1975px;width:75.5px;height:31px;"><span>10.04%</span></div>
<div class="c nu" style="left:656px;top:1975px;width:66px;height:31px;"><span>588000</span></div>
<div class="c nu" style="left:722px;top:1975px;width:67px;height:31px;"><span>011614</span></div>
<div class="c note" style="left:12px;top:2006px;width:777px;height:32px;"><span>创业板与科创板行业侧重明显，绝对估值较高，波动较大，要注意仓位；（红利质量、<i>500</i>质量估值波动较大）</span></div>
<div class="c stitle" style="left:12px;top:2038px;width:777px;height:32px;"><span class="st">五、优秀行业</span><span class="fm">指数温度 = 50%PE +&nbsp; 50%PB</span></div>
<div class="c hd" style="left:12px;top:2070px;width:98.5px;height:32px;"><span>指数名称</span></div>
<div class="c hd" style="left:110.5px;top:2070px;width:120.5px;height:32px;"><span>指数温度</span></div>
<div class="c hd" style="left:231px;top:2070px;width:67.7px;height:32px;"><span>PE或<u>PS</u></span></div>
<div class="c hd" style="left:298.7px;top:2070px;width:74.3px;height:32px;"><span>百分位</span></div>
<div class="c hd hl0" style="left:373px;top:2070px;width:67px;height:32px;"><span>PB</span></div>
<div class="c hd" style="left:440px;top:2070px;width:74px;height:32px;"><span>百分位</span></div>
<div class="c hd" style="left:514px;top:2070px;width:66.5px;height:32px;"><span>股息率</span></div>
<div class="c hd hl0" style="left:580.5px;top:2070px;width:75.5px;height:32px;"><span>ROE</span></div>
<div class="c hd" style="left:656px;top:2070px;width:66px;height:32px;"><span>场内代码</span></div>
<div class="c hd" style="left:722px;top:2070px;width:67px;height:32px;"><span>场外代码</span></div>
<div class="c nm" style="left:12px;top:2102px;width:98.5px;height:32px;background:#c6e0b4"><span>消费龙头</span></div>
<div class="c " style="left:110.5px;top:2102px;width:83px;height:32px;background:#e9f1e1"></div>
<div class="c " style="left:193.5px;top:2102px;width:38.5px;height:32px;background:#edf3e7"></div>
<div class="c " style="left:112.3px;top:2104.4px;width:2.82px;height:27.6px;background:#addb93"></div>
<div class="c tv" style="left:110.5px;top:2102px;width:81.6px;height:32px;"><span>3.5</span></div>
<div class="c dc" style="left:196px;top:2102px;width:18px;height:32px;"><span>°C</span></div>
<div class="c arw" style="left:214px;top:2102px;width:17px;height:32px;"><svg class="ar" width="10" height="10" viewBox="0 0 10 10"><path d="M0.8 9.2L7.6 2.4" stroke="#ff2020" stroke-width="1.05" fill="none"/><path d="M9.3 0.7L6 1.3L8.7 4Z" fill="#ff2020"/></svg></div>
<div class="c nu pd" style="left:231px;top:2102px;width:67.7px;height:32px;"><span>16.67</span></div>
<div class="c " style="left:300px;top:2104.4px;width:2.14px;height:27.6px;background:#addb93"></div>
<div class="c nu" style="left:298.7px;top:2102px;width:74.3px;height:32px;"><span>3.04%</span></div>
<div class="c nu pd" style="left:373px;top:2102px;width:67px;height:32px;"><span>3.80</span></div>
<div class="c " style="left:441.3px;top:2104.4px;width:2.83px;height:27.6px;background:#addb93"></div>
<div class="c nu" style="left:440px;top:2102px;width:74px;height:32px;"><span>4.01%</span></div>
<div class="c nu" style="left:514px;top:2102px;width:66.5px;height:32px;"><span>3.71%</span></div>
<div class="c nu" style="left:580.5px;top:2102px;width:75.5px;height:32px;"><span>19.94%</span></div>
<div class="c nu" style="left:656px;top:2102px;width:66px;height:32px;"><span>159520</span></div>
<div class="c nu" style="left:722px;top:2102px;width:67px;height:32px;"><span>501090</span></div>
<div class="c nm" style="left:12px;top:2134px;width:98.5px;height:32px;background:#c6e0b4"><span>中证中药</span></div>
<div class="c " style="left:110.5px;top:2134px;width:83px;height:32px;background:#e9f1e1"></div>
<div class="c " style="left:193.5px;top:2134px;width:38.5px;height:32px;background:#edf3e7"></div>
<div class="c " style="left:112.3px;top:2136.4px;width:5.89px;height:27.6px;background:#addb93"></div>
<div class="c tv" style="left:110.5px;top:2134px;width:81.6px;height:32px;"><span>7.3</span></div>
<div class="c dc" style="left:196px;top:2134px;width:18px;height:32px;"><span>°C</span></div>
<div class="c arw" style="left:214px;top:2134px;width:17px;height:32px;"><svg class="ar" width="10" height="10" viewBox="0 0 10 10"><path d="M0.8 0.8L7.6 7.6" stroke="#1fb25f" stroke-width="1.05" fill="none"/><path d="M9.3 9.3L6 8.7L8.7 6Z" fill="#1fb25f"/></svg></div>
<div class="c nu pd" style="left:231px;top:2134px;width:67.7px;height:32px;"><span>24.01</span></div>
<div class="c " style="left:300px;top:2136.4px;width:9.99px;height:27.6px;background:#addb93"></div>
<div class="c nu" style="left:298.7px;top:2134px;width:74.3px;height:32px;"><span>14.17%</span></div>
<div class="c nu pd" style="left:373px;top:2134px;width:67px;height:32px;"><span>2.26</span></div>
<div class="c " style="left:441.3px;top:2136.4px;width:0.3px;height:27.6px;background:#addb93"></div>
<div class="c nu" style="left:440px;top:2134px;width:74px;height:32px;"><span>0.42%</span></div>
<div class="c nu" style="left:514px;top:2134px;width:66.5px;height:32px;"><span>3.07%</span></div>
<div class="c nu" style="left:580.5px;top:2134px;width:75.5px;height:32px;"><span>10.41%</span></div>
<div class="c nu" style="left:656px;top:2134px;width:66px;height:32px;"><span>560080</span></div>
<div class="c nu" style="left:722px;top:2134px;width:67px;height:32px;"><span>501011</span></div>
<div class="c nm" style="left:12px;top:2166px;width:98.5px;height:31px;background:#c6e0b4"><span>中证白酒</span></div>
<div class="c " style="left:110.5px;top:2166px;width:83px;height:31px;background:#e9f1e1"></div>
<div class="c " style="left:193.5px;top:2166px;width:38.5px;height:31px;background:#edf3e7"></div>
<div class="c " style="left:112.3px;top:2168.4px;width:11.3px;height:26.6px;background:#addb93"></div>
<div class="c tv" style="left:110.5px;top:2166px;width:81.6px;height:31px;"><span>14.0</span></div>
<div class="c dc" style="left:196px;top:2166px;width:18px;height:31px;"><span>°C</span></div>
<div class="c arw" style="left:214px;top:2166px;width:17px;height:31px;"><svg class="ar" width="10" height="10" viewBox="0 0 10 10"><path d="M0.8 9.2L7.6 2.4" stroke="#ff2020" stroke-width="1.05" fill="none"/><path d="M9.3 0.7L6 1.3L8.7 4Z" fill="#ff2020"/></svg></div>
<div class="c nu pd" style="left:231px;top:2166px;width:67.7px;height:31px;"><span>18.41</span></div>
<div class="c " style="left:300px;top:2168.4px;width:4.53px;height:26.6px;background:#addb93"></div>
<div class="c nu" style="left:298.7px;top:2166px;width:74.3px;height:31px;"><span>6.42%</span></div>
<div class="c nu pd" style="left:373px;top:2166px;width:67px;height:31px;"><span>4.88</span></div>
<div class="c " style="left:441.3px;top:2168.4px;width:15.23px;height:26.6px;background:#ffd654"></div>
<div class="c nu" style="left:440px;top:2166px;width:74px;height:31px;"><span>21.60%</span></div>
<div class="c nu" style="left:514px;top:2166px;width:66.5px;height:31px;"><span>4.09%</span></div>
<div class="c nu" style="left:580.5px;top:2166px;width:75.5px;height:31px;"><span>25.64%</span></div>
<div class="c nu" style="left:656px;top:2166px;width:66px;height:31px;"><span>161725</span></div>
<div class="c nu" style="left:722px;top:2166px;width:67px;height:31px;"><span>161725</span></div>
<div class="c nm" style="left:12px;top:2197px;width:98.5px;height:32px;background:#c6e0b4"><span>中证消费</span></div>
<div class="c " style="left:110.5px;top:2197px;width:83px;height:32px;background:#e9f1e1"></div>
<div class="c " style="left:193.5px;top:2197px;width:38.5px;height:32px;background:#edf3e7"></div>
<div class="c " style="left:112.3px;top:2199.4px;width:12.59px;height:27.6px;background:#addb93"></div>
<div class="c tv" style="left:110.5px;top:2197px;width:81.6px;height:32px;"><span>15.6</span></div>
<div class="c dc" style="left:196px;top:2197px;width:18px;height:32px;"><span>°C</span></div>
<div class="c arw" style="left:214px;top:2197px;width:17px;height:32px;"><svg class="ar" width="10" height="10" viewBox="0 0 10 10"><path d="M0.8 9.2L7.6 2.4" stroke="#ff2020" stroke-width="1.05" fill="none"/><path d="M9.3 0.7L6 1.3L8.7 4Z" fill="#ff2020"/></svg></div>
<div class="c nu pd" style="left:231px;top:2197px;width:67.7px;height:32px;"><span>18.92</span></div>
<div class="c " style="left:300px;top:2199.4px;width:5.93px;height:27.6px;background:#addb93"></div>
<div class="c nu" style="left:298.7px;top:2197px;width:74.3px;height:32px;"><span>8.41%</span></div>
<div class="c nu pd" style="left:373px;top:2197px;width:67px;height:32px;"><span>3.99</span></div>
<div class="c " style="left:441.3px;top:2199.4px;width:16.1px;height:27.6px;background:#ffd654"></div>
<div class="c nu" style="left:440px;top:2197px;width:74px;height:32px;"><span>22.83%</span></div>
<div class="c nu" style="left:514px;top:2197px;width:66.5px;height:32px;"><span>3.70%</span></div>
<div class="c nu" style="left:580.5px;top:2197px;width:75.5px;height:32px;"><span>17.52%</span></div>
<div class="c nu" style="left:656px;top:2197px;width:66px;height:32px;"><span>159928</span></div>
<div class="c nu" style="left:722px;top:2197px;width:67px;height:32px;"><span>000248</span></div>
<svg class="tri" style="left:722.5px;top:2198px" width="5" height="5" viewBox="0 0 5 5"><path d="M0 0H5L0 5Z" fill="#1e8a3c"/></svg>
<div class="c nm" style="left:12px;top:2229px;width:98.5px;height:32px;background:#ffe699"><span>食品饮料</span></div>
<div class="c " style="left:110.5px;top:2229px;width:83px;height:32px;background:#fff5da"></div>
<div class="c " style="left:193.5px;top:2229px;width:38.5px;height:32px;background:#fff6de"></div>
<div class="c " style="left:112.3px;top:2231.4px;width:16.46px;height:27.6px;background:#ffd654"></div>
<div class="c tv" style="left:110.5px;top:2229px;width:81.6px;height:32px;"><span>20.4</span></div>
<div class="c dc" style="left:196px;top:2229px;width:18px;height:32px;"><span>°C</span></div>
<div class="c arw" style="left:214px;top:2229px;width:17px;height:32px;"><svg class="ar" width="10" height="10" viewBox="0 0 10 10"><path d="M0.8 9.2L7.6 2.4" stroke="#ff2020" stroke-width="1.05" fill="none"/><path d="M9.3 0.7L6 1.3L8.7 4Z" fill="#ff2020"/></svg></div>
<div class="c nu pd" style="left:231px;top:2229px;width:67.7px;height:32px;"><span>19.81</span></div>
<div class="c " style="left:300px;top:2231.4px;width:11.84px;height:27.6px;background:#addb93"></div>
<div class="c nu" style="left:298.7px;top:2229px;width:74.3px;height:32px;"><span>16.80%</span></div>
<div class="c nu pd" style="left:373px;top:2229px;width:67px;height:32px;"><span>4.46</span></div>
<div class="c " style="left:441.3px;top:2231.4px;width:16.86px;height:27.6px;background:#ffd654"></div>
<div class="c nu" style="left:440px;top:2229px;width:74px;height:32px;"><span>23.91%</span></div>
<div class="c nu" style="left:514px;top:2229px;width:66.5px;height:32px;"><span>3.93%</span></div>
<div class="c nu" style="left:580.5px;top:2229px;width:75.5px;height:32px;"><span>21.26%</span></div>
<div class="c nu" style="left:656px;top:2229px;width:66px;height:32px;"><span>159736</span></div>
<div class="c nu" style="left:722px;top:2229px;width:67px;height:32px;"><span>001631</span></div>
<div class="c nm" style="left:12px;top:2261px;width:98.5px;height:32px;background:#ffe699"><span><i>300</i>医药</span></div>
<div class="c " style="left:110.5px;top:2261px;width:83px;height:32px;background:#fff5da"></div>
<div class="c " style="left:193.5px;top:2261px;width:38.5px;height:32px;background:#fff6de"></div>
<div class="c " style="left:112.3px;top:2263.4px;width:16.7px;height:27.6px;background:#ffd654"></div>
<div class="c tv" style="left:110.5px;top:2261px;width:81.6px;height:32px;"><span>20.7</span></div>
<div class="c dc" style="left:196px;top:2261px;width:18px;height:32px;"><span>°C</span></div>
<div class="c arw" style="left:214px;top:2261px;width:17px;height:32px;"><svg class="ar" width="10" height="10" viewBox="0 0 10 10"><path d="M0.8 0.8L7.6 7.6" stroke="#1fb25f" stroke-width="1.05" fill="none"/><path d="M9.3 9.3L6 8.7L8.7 6Z" fill="#1fb25f"/></svg></div>
<div class="c nu pd" style="left:231px;top:2261px;width:67.7px;height:32px;"><span>29.51</span></div>
<div class="c " style="left:300px;top:2263.4px;width:25.92px;height:27.6px;background:#ffd654"></div>
<div class="c nu" style="left:298.7px;top:2261px;width:74.3px;height:32px;"><span>36.77%</span></div>
<div class="c nu pd" style="left:373px;top:2261px;width:67px;height:32px;"><span>3.35</span></div>
<div class="c " style="left:441.3px;top:2263.4px;width:3.23px;height:27.6px;background:#addb93"></div>
<div class="c nu" style="left:440px;top:2261px;width:74px;height:32px;"><span>4.58%</span></div>
<div class="c nu" style="left:514px;top:2261px;width:66.5px;height:32px;"><span>1.54%</span></div>
<div class="c nu" style="left:580.5px;top:2261px;width:75.5px;height:32px;"><span>14.39%</span></div>
<div class="c nu" style="left:656px;top:2261px;width:66px;height:32px;"><span>512010</span></div>
<div class="c nu" style="left:722px;top:2261px;width:67px;height:32px;"><span>001344</span></div>
<div class="c nm" style="left:12px;top:2293px;width:98.5px;height:32px;background:#ffe699"><span>中证医疗</span></div>
<div class="c " style="left:110.5px;top:2293px;width:83px;height:32px;background:#fff5da"></div>
<div class="c " style="left:193.5px;top:2293px;width:38.5px;height:32px;background:#fff6de"></div>
<div class="c " style="left:112.3px;top:2295.4px;width:17.75px;height:27.6px;background:#ffd654"></div>
<div class="c tv" style="left:110.5px;top:2293px;width:81.6px;height:32px;"><span>22.0</span></div>
<div class="c dc" style="left:196px;top:2293px;width:18px;height:32px;"><span>°C</span></div>
<div class="c arw" style="left:214px;top:2293px;width:17px;height:32px;"><svg class="ar" width="10" height="10" viewBox="0 0 10 10"><path d="M0.8 0.8L7.6 7.6" stroke="#1fb25f" stroke-width="1.05" fill="none"/><path d="M9.3 9.3L6 8.7L8.7 6Z" fill="#1fb25f"/></svg></div>
<div class="c nu pd" style="left:231px;top:2293px;width:67.7px;height:32px;"><span>33.63</span></div>
<div class="c " style="left:300px;top:2295.4px;width:23.74px;height:27.6px;background:#ffd654"></div>
<div class="c nu" style="left:298.7px;top:2293px;width:74.3px;height:32px;"><span>33.68%</span></div>
<div class="c nu pd" style="left:373px;top:2293px;width:67px;height:32px;"><span>3.56</span></div>
<div class="c " style="left:441.3px;top:2295.4px;width:7.25px;height:27.6px;background:#addb93"></div>
<div class="c nu" style="left:440px;top:2293px;width:74px;height:32px;"><span>10.29%</span></div>
<div class="c nu" style="left:514px;top:2293px;width:66.5px;height:32px;"><span>1.42%</span></div>
<div class="c nu" style="left:580.5px;top:2293px;width:75.5px;height:32px;"><span>13.61%</span></div>
<div class="c nu" style="left:656px;top:2293px;width:66px;height:32px;"><span>159847</span></div>
<div class="c nu" style="left:722px;top:2293px;width:67px;height:32px;"><span>162412</span></div>
<div class="c nm" style="left:12px;top:2325px;width:98.5px;height:31px;background:#ffe699"><span>消费红利</span></div>
<div class="c " style="left:110.5px;top:2325px;width:83px;height:31px;background:#fff5da"></div>
<div class="c " style="left:193.5px;top:2325px;width:38.5px;height:31px;background:#fff6de"></div>
<div class="c " style="left:112.3px;top:2327.4px;width:18px;height:26.6px;background:#ffd654"></div>
<div class="c tv" style="left:110.5px;top:2325px;width:81.6px;height:31px;"><span>22.3</span></div>
<div class="c dc" style="left:196px;top:2325px;width:18px;height:31px;"><span>°C</span></div>
<div class="c arw" style="left:214px;top:2325px;width:17px;height:31px;"><svg class="ar" width="10" height="10" viewBox="0 0 10 10"><path d="M0.8 9.2L7.6 2.4" stroke="#ff2020" stroke-width="1.05" fill="none"/><path d="M9.3 0.7L6 1.3L8.7 4Z" fill="#ff2020"/></svg></div>
<div class="c nu pd" style="left:231px;top:2325px;width:67.7px;height:31px;"><span>18.43</span></div>
<div class="c " style="left:300px;top:2327.4px;width:9.07px;height:26.6px;background:#addb93"></div>
<div class="c nu" style="left:298.7px;top:2325px;width:74.3px;height:31px;"><span>12.87%</span></div>
<div class="c nu pd" style="left:373px;top:2325px;width:67px;height:31px;"><span>4.20</span></div>
<div class="c " style="left:441.3px;top:2327.4px;width:22.31px;height:26.6px;background:#ffd654"></div>
<div class="c nu" style="left:440px;top:2325px;width:74px;height:31px;"><span>31.65%</span></div>
<div class="c nu" style="left:514px;top:2325px;width:66.5px;height:31px;"><span>4.13%</span></div>
<div class="c nu" style="left:580.5px;top:2325px;width:75.5px;height:31px;"><span>19.79%</span></div>
<div class="c nu" style="left:656px;top:2325px;width:66px;height:31px;"><span></span></div>
<div class="c nu" style="left:722px;top:2325px;width:67px;height:31px;"><span>008928</span></div>
<svg class="tri" style="left:722.5px;top:2326px" width="5" height="5" viewBox="0 0 5 5"><path d="M0 0H5L0 5Z" fill="#1e8a3c"/></svg>
<div class="c nm" style="left:12px;top:2356px;width:98.5px;height:32px;background:#ffe699"><span>医药<i>100</i></span></div>
<div class="c " style="left:110.5px;top:2356px;width:83px;height:32px;background:#fff5da"></div>
<div class="c " style="left:193.5px;top:2356px;width:38.5px;height:32px;background:#fff6de"></div>
<div class="c " style="left:112.3px;top:2358.4px;width:19.29px;height:27.6px;background:#ffd654"></div>
<div class="c tv" style="left:110.5px;top:2356px;width:81.6px;height:32px;"><span>23.9</span></div>
<div class="c dc" style="left:196px;top:2356px;width:18px;height:32px;"><span>°C</span></div>
<div class="c arw" style="left:214px;top:2356px;width:17px;height:32px;"><svg class="ar" width="10" height="10" viewBox="0 0 10 10"><path d="M0.8 0.8L7.6 7.6" stroke="#1fb25f" stroke-width="1.05" fill="none"/><path d="M9.3 9.3L6 8.7L8.7 6Z" fill="#1fb25f"/></svg></div>
<div class="c nu pd" style="left:231px;top:2356px;width:67.7px;height:32px;"><span>31.02</span></div>
<div class="c " style="left:300px;top:2358.4px;width:26.83px;height:27.6px;background:#ffd654"></div>
<div class="c nu" style="left:298.7px;top:2356px;width:74.3px;height:32px;"><span>38.06%</span></div>
<div class="c nu pd" style="left:373px;top:2356px;width:67px;height:32px;"><span>2.52</span></div>
<div class="c " style="left:441.3px;top:2358.4px;width:6.87px;height:27.6px;background:#addb93"></div>
<div class="c nu" style="left:440px;top:2356px;width:74px;height:32px;"><span>9.74%</span></div>
<div class="c nu" style="left:514px;top:2356px;width:66.5px;height:32px;"><span>1.67%</span></div>
<div class="c nu" style="left:580.5px;top:2356px;width:75.5px;height:32px;"><span>13.31%</span></div>
<div class="c nu" style="left:656px;top:2356px;width:66px;height:32px;"><span>-</span></div>
<div class="c nu" style="left:722px;top:2356px;width:67px;height:32px;"><span>001550</span></div>
<div class="c nm" style="left:12px;top:2388px;width:98.5px;height:31px;background:#ffe699"><span>全指医药</span></div>
<div class="c " style="left:110.5px;top:2388px;width:83px;height:31px;background:#fff5da"></div>
<div class="c " style="left:193.5px;top:2388px;width:38.5px;height:31px;background:#fff6de"></div>
<div class="c " style="left:112.3px;top:2390.4px;width:19.69px;height:26.6px;background:#ffd654"></div>
<div class="c tv" style="left:110.5px;top:2388px;width:81.6px;height:31px;"><span>24.4</span></div>
<div class="c dc" style="left:196px;top:2388px;width:18px;height:31px;"><span>°C</span></div>
<div class="c arw" style="left:214px;top:2388px;width:17px;height:31px;"><svg class="ar" width="10" height="10" viewBox="0 0 10 10"><path d="M0.8 0.8L7.6 7.6" stroke="#1fb25f" stroke-width="1.05" fill="none"/><path d="M9.3 9.3L6 8.7L8.7 6Z" fill="#1fb25f"/></svg></div>
<div class="c nu pd" style="left:231px;top:2388px;width:67.7px;height:31px;"><span>33.58</span></div>
<div class="c " style="left:300px;top:2390.4px;width:27.21px;height:26.6px;background:#ffd654"></div>
<div class="c nu" style="left:298.7px;top:2388px;width:74.3px;height:31px;"><span>38.59%</span></div>
<div class="c nu pd" style="left:373px;top:2388px;width:67px;height:31px;"><span>3.17</span></div>
<div class="c " style="left:441.3px;top:2390.4px;width:7.25px;height:26.6px;background:#addb93"></div>
<div class="c nu" style="left:440px;top:2388px;width:74px;height:31px;"><span>10.28%</span></div>
<div class="c nu" style="left:514px;top:2388px;width:66.5px;height:31px;"><span>1.50%</span></div>
<div class="c nu" style="left:580.5px;top:2388px;width:75.5px;height:31px;"><span>11.77%</span></div>
<div class="c nu" style="left:656px;top:2388px;width:66px;height:31px;"><span>159938</span></div>
<div class="c nu" style="left:722px;top:2388px;width:67px;height:31px;"><span>001180</span></div>
<div class="c nm" style="left:12px;top:2419px;width:98.5px;height:32px;background:#ffe699"><span>家用电器</span></div>
<div class="c " style="left:110.5px;top:2419px;width:83px;height:32px;background:#fff5da"></div>
<div class="c " style="left:193.5px;top:2419px;width:38.5px;height:32px;background:#fff6de"></div>
<div class="c " style="left:112.3px;top:2421.4px;width:24.61px;height:27.6px;background:#ffd654"></div>
<div class="c tv" style="left:110.5px;top:2419px;width:81.6px;height:32px;"><span>30.5</span></div>
<div class="c dc" style="left:196px;top:2419px;width:18px;height:32px;"><span>°C</span></div>
<div class="c arw" style="left:214px;top:2419px;width:17px;height:32px;"><svg class="ar" width="10" height="10" viewBox="0 0 10 10"><path d="M0.8 0.8L7.6 7.6" stroke="#1fb25f" stroke-width="1.05" fill="none"/><path d="M9.3 9.3L6 8.7L8.7 6Z" fill="#1fb25f"/></svg></div>
<div class="c nu pd" style="left:231px;top:2419px;width:67.7px;height:32px;"><span>16.41</span></div>
<div class="c " style="left:300px;top:2421.4px;width:28.07px;height:27.6px;background:#ffd654"></div>
<div class="c nu" style="left:298.7px;top:2419px;width:74.3px;height:32px;"><span>39.81%</span></div>
<div class="c nu pd" style="left:373px;top:2419px;width:67px;height:32px;"><span>2.72</span></div>
<div class="c " style="left:441.3px;top:2421.4px;width:14.9px;height:27.6px;background:#ffd654"></div>
<div class="c nu" style="left:440px;top:2419px;width:74px;height:32px;"><span>21.13%</span></div>
<div class="c nu" style="left:514px;top:2419px;width:66.5px;height:32px;"><span>3.45%</span></div>
<div class="c nu" style="left:580.5px;top:2419px;width:75.5px;height:32px;"><span>19.15%</span></div>
<div class="c nu" style="left:656px;top:2419px;width:66px;height:32px;"><span>159996</span></div>
<div class="c nu" style="left:722px;top:2419px;width:67px;height:32px;"><span>005063</span></div>
<div class="c nm" style="left:12px;top:2451px;width:98.5px;height:32px;background:#ffe699"><span><b class="pr">港</b>中概互联</span></div>
<div class="c " style="left:110.5px;top:2451px;width:83px;height:32px;background:#fff5da"></div>
<div class="c " style="left:193.5px;top:2451px;width:38.5px;height:32px;background:#fff6de"></div>
<div class="c " style="left:112.3px;top:2453.4px;width:24.77px;height:27.6px;background:#ffd654"></div>
<div class="c tv" style="left:110.5px;top:2451px;width:81.6px;height:32px;"><span>30.7</span></div>
<div class="c dc" style="left:196px;top:2451px;width:18px;height:32px;"><span>°C</span></div>
<div class="c arw" style="left:214px;top:2451px;width:17px;height:32px;"><svg class="ar" width="10" height="10" viewBox="0 0 10 10"><path d="M0.8 9.2L7.6 2.4" stroke="#ff2020" stroke-width="1.05" fill="none"/><path d="M9.3 0.7L6 1.3L8.7 4Z" fill="#ff2020"/></svg></div>
<div class="c nu pd1" style="left:231px;top:2451px;width:67.7px;height:32px;"><span><u>2.71&nbsp;</u></span></div>
<div class="c " style="left:300px;top:2453.4px;width:22.5px;height:27.6px;background:#ffd654"></div>
<div class="c nu" style="left:298.7px;top:2451px;width:74.3px;height:32px;"><span>31.92%</span></div>
<div class="c nu pd" style="left:373px;top:2451px;width:67px;height:32px;"><span>3.05</span></div>
<div class="c " style="left:441.3px;top:2453.4px;width:20.77px;height:27.6px;background:#ffd654"></div>
<div class="c nu" style="left:440px;top:2451px;width:74px;height:32px;"><span>29.46%</span></div>
<div class="c nu" style="left:514px;top:2451px;width:66.5px;height:32px;"><span>0.79%</span></div>
<div class="c nu" style="left:580.5px;top:2451px;width:75.5px;height:32px;"><span></span></div>
<div class="c nu" style="left:656px;top:2451px;width:66px;height:32px;"><span>513050</span></div>
<div class="c nu" style="left:722px;top:2451px;width:67px;height:32px;"><span>006327</span></div>
<div class="c nm" style="left:12px;top:2483px;width:98.5px;height:32px;background:#ffe699"><span>生物科技</span></div>
<div class="c " style="left:110.5px;top:2483px;width:83px;height:32px;background:#fff5da"></div>
<div class="c " style="left:193.5px;top:2483px;width:38.5px;height:32px;background:#fff6de"></div>
<div class="c " style="left:112.3px;top:2485.4px;width:29.7px;height:27.6px;background:#ffd654"></div>
<div class="c tv" style="left:110.5px;top:2483px;width:81.6px;height:32px;"><span>36.8</span></div>
<div class="c dc" style="left:196px;top:2483px;width:18px;height:32px;"><span>°C</span></div>
<div class="c arw" style="left:214px;top:2483px;width:17px;height:32px;"><svg class="ar" width="10" height="10" viewBox="0 0 10 10"><path d="M0.8 0.8L7.6 7.6" stroke="#1fb25f" stroke-width="1.05" fill="none"/><path d="M9.3 9.3L6 8.7L8.7 6Z" fill="#1fb25f"/></svg></div>
<div class="c nu pd" style="left:231px;top:2483px;width:67.7px;height:32px;"><span>52.93</span></div>
<div class="c " style="left:300px;top:2485.4px;width:42.07px;height:27.6px;background:#ffd654"></div>
<div class="c nu" style="left:298.7px;top:2483px;width:74.3px;height:32px;"><span>59.67%</span></div>
<div class="c nu pd" style="left:373px;top:2483px;width:67px;height:32px;"><span>3.81</span></div>
<div class="c " style="left:441.3px;top:2485.4px;width:9.88px;height:27.6px;background:#addb93"></div>
<div class="c nu" style="left:440px;top:2483px;width:74px;height:32px;"><span>14.01%</span></div>
<div class="c nu" style="left:514px;top:2483px;width:66.5px;height:32px;"><span>0.94%</span></div>
<div class="c nu" style="left:580.5px;top:2483px;width:75.5px;height:32px;"><span>15.23%</span></div>
<div class="c nu" style="left:656px;top:2483px;width:66px;height:32px;"><span>159837</span></div>
<div class="c nu" style="left:722px;top:2483px;width:67px;height:32px;"><span>501009</span></div>
<div class="c nm" style="left:12px;top:2515px;width:98.5px;height:32px;background:#ffe699"><span><b class="pr">港</b>恒生医药</span></div>
<div class="c " style="left:110.5px;top:2515px;width:83px;height:32px;background:#fff5da"></div>
<div class="c " style="left:193.5px;top:2515px;width:38.5px;height:32px;background:#fff6de"></div>
<div class="c " style="left:112.3px;top:2517.4px;width:31.88px;height:27.6px;background:#ffd654"></div>
<div class="c tv" style="left:110.5px;top:2515px;width:81.6px;height:32px;"><span>39.5</span></div>
<div class="c dc" style="left:196px;top:2515px;width:18px;height:32px;"><span>°C</span></div>
<div class="c arw" style="left:214px;top:2515px;width:17px;height:32px;"><svg class="ar" width="10" height="10" viewBox="0 0 10 10"><path d="M0.8 0.8L7.6 7.6" stroke="#1fb25f" stroke-width="1.05" fill="none"/><path d="M9.3 9.3L6 8.7L8.7 6Z" fill="#1fb25f"/></svg></div>
<div class="c nu pd" style="left:231px;top:2515px;width:67.7px;height:32px;"><span>29.86</span></div>
<div class="c " style="left:300px;top:2517.4px;width:9.74px;height:27.6px;background:#addb93"></div>
<div class="c nu" style="left:298.7px;top:2515px;width:74.3px;height:32px;"><span>13.82%</span></div>
<div class="c nu pd" style="left:373px;top:2515px;width:67px;height:32px;"><span>3.56</span></div>
<div class="c " style="left:441.3px;top:2517.4px;width:45.92px;height:27.6px;background:#ffd654"></div>
<div class="c nu" style="left:440px;top:2515px;width:74px;height:32px;"><span>65.13%</span></div>
<div class="c nu" style="left:514px;top:2515px;width:66.5px;height:32px;"><span>0.78%</span></div>
<div class="c nu" style="left:580.5px;top:2515px;width:75.5px;height:32px;"><span></span></div>
<div class="c nu" style="left:656px;top:2515px;width:66px;height:32px;"><span>159892</span></div>
<div class="c nu" style="left:722px;top:2515px;width:67px;height:32px;"><span>016971</span></div>
<div class="c nm" style="left:12px;top:2547px;width:98.5px;height:32px;background:#ffe699"><span><b class="pr">港</b>恒生消费</span></div>
<div class="c " style="left:110.5px;top:2547px;width:83px;height:32px;background:#fff5da"></div>
<div class="c " style="left:193.5px;top:2547px;width:38.5px;height:32px;background:#fff6de"></div>
<div class="c " style="left:112.3px;top:2549.4px;width:38.9px;height:27.6px;background:#ffd654"></div>
<div class="c tv" style="left:110.5px;top:2547px;width:81.6px;height:32px;"><span>48.2</span></div>
<div class="c dc" style="left:196px;top:2547px;width:18px;height:32px;"><span>°C</span></div>
<div class="c arw" style="left:214px;top:2547px;width:17px;height:32px;"><svg class="ar" width="10" height="10" viewBox="0 0 10 10"><path d="M0.8 0.8L7.6 7.6" stroke="#1fb25f" stroke-width="1.05" fill="none"/><path d="M9.3 9.3L6 8.7L8.7 6Z" fill="#1fb25f"/></svg></div>
<div class="c nu pd" style="left:231px;top:2547px;width:67.7px;height:32px;"><span>17.75</span></div>
<div class="c " style="left:300px;top:2549.4px;width:14.28px;height:27.6px;background:#ffd654"></div>
<div class="c nu" style="left:298.7px;top:2547px;width:74.3px;height:32px;"><span>20.26%</span></div>
<div class="c nu pd" style="left:373px;top:2547px;width:67px;height:32px;"><span>2.98</span></div>
<div class="c " style="left:441.3px;top:2549.4px;width:53.62px;height:27.6px;background:#ffd654"></div>
<div class="c nu" style="left:440px;top:2547px;width:74px;height:32px;"><span>76.06%</span></div>
<div class="c nu" style="left:514px;top:2547px;width:66.5px;height:32px;"><span>3.67%</span></div>
<div class="c nu" style="left:580.5px;top:2547px;width:75.5px;height:32px;"><span></span></div>
<div class="c nu" style="left:656px;top:2547px;width:66px;height:32px;"><span>159699</span></div>
<div class="c nu" style="left:722px;top:2547px;width:67px;height:32px;"><span>-</span></div>
<div class="c nm" style="left:12px;top:2579px;width:98.5px;height:32px;background:#ffe699"><span><b class="pr">港</b>恒生互联网</span></div>
<div class="c " style="left:110.5px;top:2579px;width:83px;height:32px;background:#fff5da"></div>
<div class="c " style="left:193.5px;top:2579px;width:38.5px;height:32px;background:#fff6de"></div>
<div class="c " style="left:112.3px;top:2581.4px;width:41.8px;height:27.6px;background:#ffd654"></div>
<div class="c tv" style="left:110.5px;top:2579px;width:81.6px;height:32px;"><span>51.8</span></div>
<div class="c dc" style="left:196px;top:2579px;width:18px;height:32px;"><span>°C</span></div>
<div class="c arw" style="left:214px;top:2579px;width:17px;height:32px;"><svg class="ar arr" width="13" height="7" viewBox="0 0 13 7"><path d="M0.3 3.5L10 3.5" stroke="#111" stroke-width="1.1" fill="none"/><path d="M12.8 3.5L8.5 6.2L9.5 3.5L8.5 0.8Z" fill="#111"/></svg></div>
<div class="c nu pd1" style="left:231px;top:2579px;width:67.7px;height:32px;"><span><u>2.71&nbsp;</u></span></div>
<div class="c " style="left:300px;top:2581.4px;width:46.45px;height:27.6px;background:#ffd654"></div>
<div class="c nu" style="left:298.7px;top:2579px;width:74.3px;height:32px;"><span>65.89%</span></div>
<div class="c nu pd" style="left:373px;top:2579px;width:67px;height:32px;"><span>3.34</span></div>
<div class="c " style="left:441.3px;top:2581.4px;width:26.65px;height:27.6px;background:#ffd654"></div>
<div class="c nu" style="left:440px;top:2579px;width:74px;height:32px;"><span>37.80%</span></div>
<div class="c nu" style="left:514px;top:2579px;width:66.5px;height:32px;"><span>0.86%</span></div>
<div class="c nu" style="left:580.5px;top:2579px;width:75.5px;height:32px;"><span></span></div>
<div class="c nu" style="left:656px;top:2579px;width:66px;height:32px;"><span>513330</span></div>
<div class="c nu" style="left:722px;top:2579px;width:67px;height:32px;"><span>013171</span></div>
<div class="c nm" style="left:12px;top:2611px;width:98.5px;height:32px;background:#ffe699"><span><b class="pr">港</b>恒生医疗</span></div>
<div class="c " style="left:110.5px;top:2611px;width:83px;height:32px;background:#fff5da"></div>
<div class="c " style="left:193.5px;top:2611px;width:38.5px;height:32px;background:#fff6de"></div>
<div class="c " style="left:112.3px;top:2613.4px;width:49.55px;height:27.6px;background:#ffd654"></div>
<div class="c tv" style="left:110.5px;top:2611px;width:81.6px;height:32px;"><span>61.4</span></div>
<div class="c dc" style="left:196px;top:2611px;width:18px;height:32px;"><span>°C</span></div>
<div class="c arw" style="left:214px;top:2611px;width:17px;height:32px;"><svg class="ar" width="10" height="10" viewBox="0 0 10 10"><path d="M0.8 0.8L7.6 7.6" stroke="#1fb25f" stroke-width="1.05" fill="none"/><path d="M9.3 9.3L6 8.7L8.7 6Z" fill="#1fb25f"/></svg></div>
<div class="c nu pd" style="left:231px;top:2611px;width:67.7px;height:32px;"><span>31.57</span></div>
<div class="c " style="left:300px;top:2613.4px;width:34.93px;height:27.6px;background:#ffd654"></div>
<div class="c nu" style="left:298.7px;top:2611px;width:74.3px;height:32px;"><span>49.55%</span></div>
<div class="c nu pd" style="left:373px;top:2611px;width:67px;height:32px;"><span>3.19</span></div>
<div class="c " style="left:441.3px;top:2613.4px;width:51.6px;height:27.6px;background:#ffd654"></div>
<div class="c nu" style="left:440px;top:2611px;width:74px;height:32px;"><span>73.19%</span></div>
<div class="c nu" style="left:514px;top:2611px;width:66.5px;height:32px;"><span>0.83%</span></div>
<div class="c nu" style="left:580.5px;top:2611px;width:75.5px;height:32px;"><span></span></div>
<div class="c nu" style="left:656px;top:2611px;width:66px;height:32px;"><span>513060</span></div>
<div class="c nu" style="left:722px;top:2611px;width:67px;height:32px;"><span>014424</span></div>
<div class="c nm" style="left:12px;top:2643px;width:98.5px;height:32px;background:#ffe699"><span><b class="pr">港</b>恒生科技</span></div>
<div class="c " style="left:110.5px;top:2643px;width:83px;height:32px;background:#fff5da"></div>
<div class="c " style="left:193.5px;top:2643px;width:38.5px;height:32px;background:#fff6de"></div>
<div class="c " style="left:112.3px;top:2645.4px;width:49.79px;height:27.6px;background:#ffd654"></div>
<div class="c tv" style="left:110.5px;top:2643px;width:81.6px;height:32px;"><span>61.7</span></div>
<div class="c dc" style="left:196px;top:2643px;width:18px;height:32px;"><span>°C</span></div>
<div class="c arw" style="left:214px;top:2643px;width:17px;height:32px;"><svg class="ar" width="10" height="10" viewBox="0 0 10 10"><path d="M0.8 0.8L7.6 7.6" stroke="#1fb25f" stroke-width="1.05" fill="none"/><path d="M9.3 9.3L6 8.7L8.7 6Z" fill="#1fb25f"/></svg></div>
<div class="c nu pd1" style="left:231px;top:2643px;width:67.7px;height:32px;"><span><u>2.16&nbsp;</u></span></div>
<div class="c " style="left:300px;top:2645.4px;width:41.18px;height:27.6px;background:#ffd654"></div>
<div class="c nu" style="left:298.7px;top:2643px;width:74.3px;height:32px;"><span>58.41%</span></div>
<div class="c nu pd" style="left:373px;top:2643px;width:67px;height:32px;"><span>3.19</span></div>
<div class="c " style="left:441.3px;top:2645.4px;width:45.79px;height:27.6px;background:#ffd654"></div>
<div class="c nu" style="left:440px;top:2643px;width:74px;height:32px;"><span>64.95%</span></div>
<div class="c nu" style="left:514px;top:2643px;width:66.5px;height:32px;"><span>1.05%</span></div>
<div class="c nu" style="left:580.5px;top:2643px;width:75.5px;height:32px;"><span></span></div>
<div class="c nu" style="left:656px;top:2643px;width:66px;height:32px;"><span>513010</span></div>
<div class="c nu" style="left:722px;top:2643px;width:67px;height:32px;"><span>012348</span></div>
<div class="c nm" style="left:12px;top:2675px;width:98.5px;height:32px;background:#f4b595"><span>科技龙头</span></div>
<div class="c " style="left:110.5px;top:2675px;width:83px;height:32px;background:#fde9e8"></div>
<div class="c " style="left:193.5px;top:2675px;width:38.5px;height:32px;background:#feeceb"></div>
<div class="c " style="left:112.3px;top:2677.4px;width:72.23px;height:27.6px;background:#ee6a6c"></div>
<div class="c tv" style="left:110.5px;top:2675px;width:81.6px;height:32px;"><span>89.5</span></div>
<div class="c dc" style="left:196px;top:2675px;width:18px;height:32px;"><span>°C</span></div>
<div class="c arw" style="left:214px;top:2675px;width:17px;height:32px;"><svg class="ar" width="10" height="10" viewBox="0 0 10 10"><path d="M0.8 0.8L7.6 7.6" stroke="#1fb25f" stroke-width="1.05" fill="none"/><path d="M9.3 9.3L6 8.7L8.7 6Z" fill="#1fb25f"/></svg></div>
<div class="c nu pd" style="left:231px;top:2675px;width:67.7px;height:32px;"><span>56.84</span></div>
<div class="c " style="left:300px;top:2677.4px;width:66.31px;height:27.6px;background:#ee6a6c"></div>
<div class="c nu" style="left:298.7px;top:2675px;width:74.3px;height:32px;"><span>94.06%</span></div>
<div class="c nu pd" style="left:373px;top:2675px;width:67px;height:32px;"><span>6.60</span></div>
<div class="c " style="left:441.3px;top:2677.4px;width:59.93px;height:27.6px;background:#ee6a6c"></div>
<div class="c nu" style="left:440px;top:2675px;width:74px;height:32px;"><span>85.01%</span></div>
<div class="c nu" style="left:514px;top:2675px;width:66.5px;height:32px;"><span>0.53%</span></div>
<div class="c nu" style="left:580.5px;top:2675px;width:75.5px;height:32px;"><span>12.88%</span></div>
<div class="c nu" style="left:656px;top:2675px;width:66px;height:32px;"><span>516050</span></div>
<div class="c nu" style="left:722px;top:2675px;width:67px;height:32px;"><span>007873</span></div>
<div class="c nm" style="left:12px;top:2707px;width:98.5px;height:31px;background:#f4b595"><span>全指信息</span></div>
<div class="c " style="left:110.5px;top:2707px;width:83px;height:31px;background:#fde9e8"></div>
<div class="c " style="left:193.5px;top:2707px;width:38.5px;height:31px;background:#feeceb"></div>
<div class="c " style="left:112.3px;top:2709.4px;width:73.28px;height:26.6px;background:#ee6a6c"></div>
<div class="c tv" style="left:110.5px;top:2707px;width:81.6px;height:31px;"><span>90.8</span></div>
<div class="c dc" style="left:196px;top:2707px;width:18px;height:31px;"><span>°C</span></div>
<div class="c arw" style="left:214px;top:2707px;width:17px;height:31px;"><svg class="ar" width="10" height="10" viewBox="0 0 10 10"><path d="M0.8 0.8L7.6 7.6" stroke="#1fb25f" stroke-width="1.05" fill="none"/><path d="M9.3 9.3L6 8.7L8.7 6Z" fill="#1fb25f"/></svg></div>
<div class="c nu pd" style="left:231px;top:2707px;width:67.7px;height:31px;"><span>72.55</span></div>
<div class="c " style="left:300px;top:2709.4px;width:61.39px;height:26.6px;background:#ee6a6c"></div>
<div class="c nu" style="left:298.7px;top:2707px;width:74.3px;height:31px;"><span>87.08%</span></div>
<div class="c nu pd" style="left:373px;top:2707px;width:67px;height:31px;"><span>5.96</span></div>
<div class="c " style="left:441.3px;top:2709.4px;width:66.59px;height:26.6px;background:#ee6a6c"></div>
<div class="c nu" style="left:440px;top:2707px;width:74px;height:31px;"><span>94.46%</span></div>
<div class="c nu" style="left:514px;top:2707px;width:66.5px;height:31px;"><span>0.57%</span></div>
<div class="c nu" style="left:580.5px;top:2707px;width:75.5px;height:31px;"><span>7.47%</span></div>
<div class="c nu" style="left:656px;top:2707px;width:66px;height:31px;"><span>159939</span></div>
<div class="c nu" style="left:722px;top:2707px;width:67px;height:31px;"><span>000942</span></div>
<div class="c note" style="left:12px;top:2738px;width:777px;height:32px;font-size:12.73px"><span>优秀行业是我们定投的重要辅助部分，不过其波动较大，建议单行业<i>&lt;</i><i>20%</i>仓位，<span class="red">新手持仓低于<i>5%</i></span>。<u>下划线为<i>PS</i>。</u></span></div>
<div class="c stitle" style="left:12px;top:2770px;width:777px;height:32px;"><span class="st">六、新兴行业</span><span class="fm">指数温度 = 50%PE +&nbsp; 50%PB</span></div>
<div class="c hd" style="left:12px;top:2802px;width:98.5px;height:32px;"><span>指数名称</span></div>
<div class="c hd" style="left:110.5px;top:2802px;width:120.5px;height:32px;"><span>指数温度°C</span></div>
<div class="c hd hl0" style="left:231px;top:2802px;width:67.7px;height:32px;"><span>PE</span></div>
<div class="c hd" style="left:298.7px;top:2802px;width:74.3px;height:32px;"><span>百分位</span></div>
<div class="c hd hl0" style="left:373px;top:2802px;width:67px;height:32px;"><span>PB</span></div>
<div class="c hd" style="left:440px;top:2802px;width:74px;height:32px;"><span>百分位</span></div>
<div class="c hd" style="left:514px;top:2802px;width:66.5px;height:32px;"><span>股息率</span></div>
<div class="c hd hl0" style="left:580.5px;top:2802px;width:75.5px;height:32px;"><span>ROE</span></div>
<div class="c hd" style="left:656px;top:2802px;width:66px;height:32px;"><span>场内代码</span></div>
<div class="c hd" style="left:722px;top:2802px;width:67px;height:32px;"><span>场外代码</span></div>
<div class="c nm" style="left:12px;top:2834px;width:98.5px;height:32px;background:#ffe699"><span>医疗器械</span></div>
<div class="c " style="left:110.5px;top:2834px;width:83px;height:32px;background:#fff5da"></div>
<div class="c " style="left:193.5px;top:2834px;width:38.5px;height:32px;background:#fff6de"></div>
<div class="c " style="left:112.3px;top:2836.4px;width:22.92px;height:27.6px;background:#ffd654"></div>
<div class="c tv" style="left:110.5px;top:2834px;width:81.6px;height:32px;"><span>28.4</span></div>
<div class="c dc" style="left:196px;top:2834px;width:18px;height:32px;"><span>°C</span></div>
<div class="c arw" style="left:214px;top:2834px;width:17px;height:32px;"><svg class="ar" width="10" height="10" viewBox="0 0 10 10"><path d="M0.8 0.8L7.6 7.6" stroke="#1fb25f" stroke-width="1.05" fill="none"/><path d="M9.3 9.3L6 8.7L8.7 6Z" fill="#1fb25f"/></svg></div>
<div class="c nu pd" style="left:231px;top:2834px;width:67.7px;height:32px;"><span>45.68</span></div>
<div class="c " style="left:300px;top:2836.4px;width:35.47px;height:27.6px;background:#ffd654"></div>
<div class="c nu" style="left:298.7px;top:2834px;width:74.3px;height:32px;"><span>50.31%</span></div>
<div class="c nu pd" style="left:373px;top:2834px;width:67px;height:32px;"><span>3.03</span></div>
<div class="c " style="left:441.3px;top:2836.4px;width:4.5px;height:27.6px;background:#addb93"></div>
<div class="c nu" style="left:440px;top:2834px;width:74px;height:32px;"><span>6.39%</span></div>
<div class="c nu" style="left:514px;top:2834px;width:66.5px;height:32px;"><span>1.49%</span></div>
<div class="c nu" style="left:580.5px;top:2834px;width:75.5px;height:32px;"><span>11.70%</span></div>
<div class="c nu" style="left:656px;top:2834px;width:66px;height:32px;"><span>159883</span></div>
<div class="c nu" style="left:722px;top:2834px;width:67px;height:32px;"><span>013416</span></div>
<div class="c nm" style="left:12px;top:2866px;width:98.5px;height:32px;background:#ffe699"><span>新能源车</span></div>
<div class="c " style="left:110.5px;top:2866px;width:83px;height:32px;background:#fff5da"></div>
<div class="c " style="left:193.5px;top:2866px;width:38.5px;height:32px;background:#fff6de"></div>
<div class="c " style="left:112.3px;top:2868.4px;width:43.74px;height:27.6px;background:#ffd654"></div>
<div class="c tv" style="left:110.5px;top:2866px;width:81.6px;height:32px;"><span>54.2</span></div>
<div class="c dc" style="left:196px;top:2866px;width:18px;height:32px;"><span>°C</span></div>
<div class="c arw" style="left:214px;top:2866px;width:17px;height:32px;"><svg class="ar" width="10" height="10" viewBox="0 0 10 10"><path d="M0.8 0.8L7.6 7.6" stroke="#1fb25f" stroke-width="1.05" fill="none"/><path d="M9.3 9.3L6 8.7L8.7 6Z" fill="#1fb25f"/></svg></div>
<div class="c nu pd" style="left:231px;top:2866px;width:67.7px;height:32px;"><span>33.40</span></div>
<div class="c " style="left:300px;top:2868.4px;width:38.01px;height:27.6px;background:#ffd654"></div>
<div class="c nu" style="left:298.7px;top:2866px;width:74.3px;height:32px;"><span>53.91%</span></div>
<div class="c nu pd" style="left:373px;top:2866px;width:67px;height:32px;"><span>3.85</span></div>
<div class="c " style="left:441.3px;top:2868.4px;width:38.48px;height:27.6px;background:#ffd654"></div>
<div class="c nu" style="left:440px;top:2866px;width:74px;height:32px;"><span>54.58%</span></div>
<div class="c nu" style="left:514px;top:2866px;width:66.5px;height:32px;"><span>1.20%</span></div>
<div class="c nu" style="left:580.5px;top:2866px;width:75.5px;height:32px;"><span>12.29%</span></div>
<div class="c nu" style="left:656px;top:2866px;width:66px;height:32px;"><span>515700</span></div>
<div class="c nu" style="left:722px;top:2866px;width:67px;height:32px;"><span>012698</span></div>
<div class="c nm" style="left:12px;top:2898px;width:98.5px;height:32px;background:#ffe699"><span><i>CS</i>创新药</span></div>
<div class="c " style="left:110.5px;top:2898px;width:83px;height:32px;background:#fff5da"></div>
<div class="c " style="left:193.5px;top:2898px;width:38.5px;height:32px;background:#fff6de"></div>
<div class="c " style="left:112.3px;top:2900.4px;width:46.56px;height:27.6px;background:#ffd654"></div>
<div class="c tv" style="left:110.5px;top:2898px;width:81.6px;height:32px;"><span>57.7</span></div>
<div class="c dc" style="left:196px;top:2898px;width:18px;height:32px;"><span>°C</span></div>
<div class="c arw" style="left:214px;top:2898px;width:17px;height:32px;"><svg class="ar" width="10" height="10" viewBox="0 0 10 10"><path d="M0.8 0.8L7.6 7.6" stroke="#1fb25f" stroke-width="1.05" fill="none"/><path d="M9.3 9.3L6 8.7L8.7 6Z" fill="#1fb25f"/></svg></div>
<div class="c nu pd" style="left:231px;top:2898px;width:67.7px;height:32px;"><span>50.08</span></div>
<div class="c " style="left:300px;top:2900.4px;width:50.41px;height:27.6px;background:#ffd654"></div>
<div class="c nu" style="left:298.7px;top:2898px;width:74.3px;height:32px;"><span>71.51%</span></div>
<div class="c nu pd" style="left:373px;top:2898px;width:67px;height:32px;"><span>4.07</span></div>
<div class="c " style="left:441.3px;top:2900.4px;width:30.92px;height:27.6px;background:#ffd654"></div>
<div class="c nu" style="left:440px;top:2898px;width:74px;height:32px;"><span>43.86%</span></div>
<div class="c nu" style="left:514px;top:2898px;width:66.5px;height:32px;"><span>0.94%</span></div>
<div class="c nu" style="left:580.5px;top:2898px;width:75.5px;height:32px;"><span>11.96%</span></div>
<div class="c nu" style="left:656px;top:2898px;width:66px;height:32px;"><span>516080</span></div>
<div class="c nu" style="left:722px;top:2898px;width:67px;height:32px;"><span>012737</span></div>
<div class="c nm" style="left:12px;top:2930px;width:98.5px;height:32px;background:#ffe699"><span>中证新能源</span></div>
<div class="c " style="left:110.5px;top:2930px;width:83px;height:32px;background:#fff5da"></div>
<div class="c " style="left:193.5px;top:2930px;width:38.5px;height:32px;background:#fff6de"></div>
<div class="c " style="left:112.3px;top:2932.4px;width:50.36px;height:27.6px;background:#ffd654"></div>
<div class="c tv" style="left:110.5px;top:2930px;width:81.6px;height:32px;"><span>62.4</span></div>
<div class="c dc" style="left:196px;top:2930px;width:18px;height:32px;"><span>°C</span></div>
<div class="c arw" style="left:214px;top:2930px;width:17px;height:32px;"><svg class="ar" width="10" height="10" viewBox="0 0 10 10"><path d="M0.8 0.8L7.6 7.6" stroke="#1fb25f" stroke-width="1.05" fill="none"/><path d="M9.3 9.3L6 8.7L8.7 6Z" fill="#1fb25f"/></svg></div>
<div class="c nu pd" style="left:231px;top:2930px;width:67.7px;height:32px;"><span>48.95</span></div>
<div class="c " style="left:300px;top:2932.4px;width:55.57px;height:27.6px;background:#ffd654"></div>
<div class="c nu" style="left:298.7px;top:2930px;width:74.3px;height:32px;"><span>78.82%</span></div>
<div class="c nu pd" style="left:373px;top:2930px;width:67px;height:32px;"><span>2.95</span></div>
<div class="c " style="left:441.3px;top:2932.4px;width:32.38px;height:27.6px;background:#ffd654"></div>
<div class="c nu" style="left:440px;top:2930px;width:74px;height:32px;"><span>45.93%</span></div>
<div class="c nu" style="left:514px;top:2930px;width:66.5px;height:32px;"><span>1.15%</span></div>
<div class="c nu" style="left:580.5px;top:2930px;width:75.5px;height:32px;"><span>10.94%</span></div>
<div class="c nu" style="left:656px;top:2930px;width:66px;height:32px;"><span>516160</span></div>
<div class="c nu" style="left:722px;top:2930px;width:67px;height:32px;"><span>012831</span></div>
<div class="c nm" style="left:12px;top:2962px;width:98.5px;height:32px;background:#ffe699"><span>中证传媒</span></div>
<div class="c " style="left:110.5px;top:2962px;width:83px;height:32px;background:#fff5da"></div>
<div class="c " style="left:193.5px;top:2962px;width:38.5px;height:32px;background:#fff6de"></div>
<div class="c " style="left:112.3px;top:2964.4px;width:50.36px;height:27.6px;background:#ffd654"></div>
<div class="c tv" style="left:110.5px;top:2962px;width:81.6px;height:32px;"><span>62.4</span></div>
<div class="c dc" style="left:196px;top:2962px;width:18px;height:32px;"><span>°C</span></div>
<div class="c arw" style="left:214px;top:2962px;width:17px;height:32px;"><svg class="ar" width="10" height="10" viewBox="0 0 10 10"><path d="M0.8 9.2L7.6 2.4" stroke="#ff2020" stroke-width="1.05" fill="none"/><path d="M9.3 0.7L6 1.3L8.7 4Z" fill="#ff2020"/></svg></div>
<div class="c nu pd" style="left:231px;top:2962px;width:67.7px;height:32px;"><span>45.65</span></div>
<div class="c " style="left:300px;top:2964.4px;width:47.64px;height:27.6px;background:#ffd654"></div>
<div class="c nu" style="left:298.7px;top:2962px;width:74.3px;height:32px;"><span>67.57%</span></div>
<div class="c nu pd" style="left:373px;top:2962px;width:67px;height:32px;"><span>3.00</span></div>
<div class="c " style="left:441.3px;top:2964.4px;width:40.32px;height:27.6px;background:#ffd654"></div>
<div class="c nu" style="left:440px;top:2962px;width:74px;height:32px;"><span>57.19%</span></div>
<div class="c nu" style="left:514px;top:2962px;width:66.5px;height:32px;"><span>1.48%</span></div>
<div class="c nu" style="left:580.5px;top:2962px;width:75.5px;height:32px;"><span>8.51%</span></div>
<div class="c nu" style="left:656px;top:2962px;width:66px;height:32px;"><span>512980</span></div>
<div class="c nu" style="left:722px;top:2962px;width:67px;height:32px;"><span>004752</span></div>
<div class="c nm" style="left:12px;top:2994px;width:98.5px;height:32px;background:#ffe699"><span>中证光伏</span></div>
<div class="c " style="left:110.5px;top:2994px;width:83px;height:32px;background:#fff5da"></div>
<div class="c " style="left:193.5px;top:2994px;width:38.5px;height:32px;background:#fff6de"></div>
<div class="c " style="left:112.3px;top:2996.4px;width:57.62px;height:27.6px;background:#ffd654"></div>
<div class="c tv" style="left:110.5px;top:2994px;width:81.6px;height:32px;"><span>71.4</span></div>
<div class="c dc" style="left:196px;top:2994px;width:18px;height:32px;"><span>°C</span></div>
<div class="c arw" style="left:214px;top:2994px;width:17px;height:32px;"><svg class="ar" width="10" height="10" viewBox="0 0 10 10"><path d="M0.8 0.8L7.6 7.6" stroke="#1fb25f" stroke-width="1.05" fill="none"/><path d="M9.3 9.3L6 8.7L8.7 6Z" fill="#1fb25f"/></svg></div>
<div class="c nu pd" style="left:231px;top:2994px;width:67.7px;height:32px;"><span>354.44</span></div>
<div class="c " style="left:300px;top:2996.4px;width:63.69px;height:27.6px;background:#ee6a6c"></div>
<div class="c nu" style="left:298.7px;top:2994px;width:74.3px;height:32px;"><span>90.34%</span></div>
<div class="c nu pd" style="left:373px;top:2994px;width:67px;height:32px;"><span>2.67</span></div>
<div class="c " style="left:441.3px;top:2996.4px;width:36.92px;height:27.6px;background:#ffd654"></div>
<div class="c nu" style="left:440px;top:2994px;width:74px;height:32px;"><span>52.37%</span></div>
<div class="c nu" style="left:514px;top:2994px;width:66.5px;height:32px;"><span>0.79%</span></div>
<div class="c nu" style="left:580.5px;top:2994px;width:75.5px;height:32px;"><span>13.47%</span></div>
<div class="c nu" style="left:656px;top:2994px;width:66px;height:32px;"><span>515790</span></div>
<div class="c nu" style="left:722px;top:2994px;width:67px;height:32px;"><span>011102</span></div>
<div class="c nm" style="left:12px;top:3026px;width:98.5px;height:32px;background:#f4b595"><span>机器人</span></div>
<div class="c " style="left:110.5px;top:3026px;width:83px;height:32px;background:#fde9e8"></div>
<div class="c " style="left:193.5px;top:3026px;width:38.5px;height:32px;background:#feeceb"></div>
<div class="c " style="left:112.3px;top:3028.4px;width:71.02px;height:27.6px;background:#ee6a6c"></div>
<div class="c tv" style="left:110.5px;top:3026px;width:81.6px;height:32px;"><span>88.0</span></div>
<div class="c dc" style="left:196px;top:3026px;width:18px;height:32px;"><span>°C</span></div>
<div class="c arw" style="left:214px;top:3026px;width:17px;height:32px;"><svg class="ar" width="10" height="10" viewBox="0 0 10 10"><path d="M0.8 0.8L7.6 7.6" stroke="#1fb25f" stroke-width="1.05" fill="none"/><path d="M9.3 9.3L6 8.7L8.7 6Z" fill="#1fb25f"/></svg></div>
<div class="c nu pd" style="left:231px;top:3026px;width:67.7px;height:32px;"><span>70.63</span></div>
<div class="c " style="left:300px;top:3028.4px;width:63.1px;height:27.6px;background:#ee6a6c"></div>
<div class="c nu" style="left:298.7px;top:3026px;width:74.3px;height:32px;"><span>89.50%</span></div>
<div class="c nu pd" style="left:373px;top:3026px;width:67px;height:32px;"><span>4.87</span></div>
<div class="c " style="left:441.3px;top:3028.4px;width:60.98px;height:27.6px;background:#ee6a6c"></div>
<div class="c nu" style="left:440px;top:3026px;width:74px;height:32px;"><span>86.50%</span></div>
<div class="c nu" style="left:514px;top:3026px;width:66.5px;height:32px;"><span>0.60%</span></div>
<div class="c nu" style="left:580.5px;top:3026px;width:75.5px;height:32px;"><span>7.65%</span></div>
<div class="c nu" style="left:656px;top:3026px;width:66px;height:32px;"><span>562500</span></div>
<div class="c nu" style="left:722px;top:3026px;width:67px;height:32px;"><span>018344</span></div>
<div class="c nm" style="left:12px;top:3058px;width:98.5px;height:32px;background:#f4b595"><span><i>CS</i>人工智能</span></div>
<div class="c " style="left:110.5px;top:3058px;width:83px;height:32px;background:#fde9e8"></div>
<div class="c " style="left:193.5px;top:3058px;width:38.5px;height:32px;background:#feeceb"></div>
<div class="c " style="left:112.3px;top:3060.4px;width:73.28px;height:27.6px;background:#ee6a6c"></div>
<div class="c tv" style="left:110.5px;top:3058px;width:81.6px;height:32px;"><span>90.8</span></div>
<div class="c dc" style="left:196px;top:3058px;width:18px;height:32px;"><span>°C</span></div>
<div class="c arw" style="left:214px;top:3058px;width:17px;height:32px;"><svg class="ar" width="10" height="10" viewBox="0 0 10 10"><path d="M0.8 0.8L7.6 7.6" stroke="#1fb25f" stroke-width="1.05" fill="none"/><path d="M9.3 9.3L6 8.7L8.7 6Z" fill="#1fb25f"/></svg></div>
<div class="c nu pd" style="left:231px;top:3058px;width:67.7px;height:32px;"><span>66.09</span></div>
<div class="c " style="left:300px;top:3060.4px;width:59.2px;height:27.6px;background:#ee6a6c"></div>
<div class="c nu" style="left:298.7px;top:3058px;width:74.3px;height:32px;"><span>83.97%</span></div>
<div class="c nu pd" style="left:373px;top:3058px;width:67px;height:32px;"><span>7.77</span></div>
<div class="c " style="left:441.3px;top:3060.4px;width:68.84px;height:27.6px;background:#ee6a6c"></div>
<div class="c nu" style="left:440px;top:3058px;width:74px;height:32px;"><span>97.65%</span></div>
<div class="c nu" style="left:514px;top:3058px;width:66.5px;height:32px;"><span>0.57%</span></div>
<div class="c nu" style="left:580.5px;top:3058px;width:75.5px;height:32px;"><span>8.76%</span></div>
<div class="c nu" style="left:656px;top:3058px;width:66px;height:32px;"><span>159819</span></div>
<div class="c nu" style="left:722px;top:3058px;width:67px;height:32px;"><span>008585</span></div>
<div class="c nm" style="left:12px;top:3090px;width:98.5px;height:31px;background:#f4b595"><span>半导体</span></div>
<div class="c " style="left:110.5px;top:3090px;width:83px;height:31px;background:#fde9e8"></div>
<div class="c " style="left:193.5px;top:3090px;width:38.5px;height:31px;background:#feeceb"></div>
<div class="c " style="left:112.3px;top:3092.4px;width:74px;height:26.6px;background:#ee6a6c"></div>
<div class="c tv" style="left:110.5px;top:3090px;width:81.6px;height:31px;"><span>91.7</span></div>
<div class="c dc" style="left:196px;top:3090px;width:18px;height:31px;"><span>°C</span></div>
<div class="c arw" style="left:214px;top:3090px;width:17px;height:31px;"><svg class="ar" width="10" height="10" viewBox="0 0 10 10"><path d="M0.8 0.8L7.6 7.6" stroke="#1fb25f" stroke-width="1.05" fill="none"/><path d="M9.3 9.3L6 8.7L8.7 6Z" fill="#1fb25f"/></svg></div>
<div class="c nu pd" style="left:231px;top:3090px;width:67.7px;height:31px;"><span>137.44</span></div>
<div class="c " style="left:300px;top:3092.4px;width:64.4px;height:26.6px;background:#ee6a6c"></div>
<div class="c nu" style="left:298.7px;top:3090px;width:74.3px;height:31px;"><span>91.35%</span></div>
<div class="c nu pd" style="left:373px;top:3090px;width:67px;height:31px;"><span>8.06</span></div>
<div class="c " style="left:441.3px;top:3092.4px;width:64.94px;height:26.6px;background:#ee6a6c"></div>
<div class="c nu" style="left:440px;top:3090px;width:74px;height:31px;"><span>92.11%</span></div>
<div class="c nu" style="left:514px;top:3090px;width:66.5px;height:31px;"><span>0.13%</span></div>
<div class="c nu" style="left:580.5px;top:3090px;width:75.5px;height:31px;"><span>7.21%</span></div>
<div class="c nu" style="left:656px;top:3090px;width:66px;height:31px;"><span>512480</span></div>
<div class="c nu" style="left:722px;top:3090px;width:67px;height:31px;"><span>007300</span></div>
<div class="c nm" style="left:12px;top:3121px;width:98.5px;height:32px;background:#f4b595"><span>国证芯片</span></div>
<div class="c " style="left:110.5px;top:3121px;width:83px;height:32px;background:#fde9e8"></div>
<div class="c " style="left:193.5px;top:3121px;width:38.5px;height:32px;background:#feeceb"></div>
<div class="c " style="left:112.3px;top:3123.4px;width:76.18px;height:27.6px;background:#ee6a6c"></div>
<div class="c tv" style="left:110.5px;top:3121px;width:81.6px;height:32px;"><span>94.4</span></div>
<div class="c dc" style="left:196px;top:3121px;width:18px;height:32px;"><span>°C</span></div>
<div class="c arw" style="left:214px;top:3121px;width:17px;height:32px;"><svg class="ar" width="10" height="10" viewBox="0 0 10 10"><path d="M0.8 0.8L7.6 7.6" stroke="#1fb25f" stroke-width="1.05" fill="none"/><path d="M9.3 9.3L6 8.7L8.7 6Z" fill="#1fb25f"/></svg></div>
<div class="c nu pd" style="left:231px;top:3121px;width:67.7px;height:32px;"><span>146.25</span></div>
<div class="c " style="left:300px;top:3123.4px;width:69.46px;height:27.6px;background:#ee6a6c"></div>
<div class="c nu" style="left:298.7px;top:3121px;width:74.3px;height:32px;"><span>98.53%</span></div>
<div class="c nu pd" style="left:373px;top:3121px;width:67px;height:32px;"><span>7.96</span></div>
<div class="c " style="left:441.3px;top:3123.4px;width:63.57px;height:27.6px;background:#ee6a6c"></div>
<div class="c nu" style="left:440px;top:3121px;width:74px;height:32px;"><span>90.17%</span></div>
<div class="c nu" style="left:514px;top:3121px;width:66.5px;height:32px;"><span>0.12%</span></div>
<div class="c nu" style="left:580.5px;top:3121px;width:75.5px;height:32px;"><span>9.78%</span></div>
<div class="c nu" style="left:656px;top:3121px;width:66px;height:32px;"><span>159995</span></div>
<div class="c nu" style="left:722px;top:3121px;width:67px;height:32px;"><span>008887</span></div>
<div class="c nm" style="left:12px;top:3153px;width:98.5px;height:32px;background:#f4b595"><span><i>5G</i>通信</span></div>
<div class="c " style="left:110.5px;top:3153px;width:83px;height:32px;background:#fde9e8"></div>
<div class="c " style="left:193.5px;top:3153px;width:38.5px;height:32px;background:#feeceb"></div>
<div class="c " style="left:112.3px;top:3155.4px;width:79.65px;height:27.6px;background:#ee6a6c"></div>
<div class="c tv" style="left:110.5px;top:3153px;width:81.6px;height:32px;"><span>98.7</span></div>
<div class="c dc" style="left:196px;top:3153px;width:18px;height:32px;"><span>°C</span></div>
<div class="c arw" style="left:214px;top:3153px;width:17px;height:32px;"><svg class="ar" width="10" height="10" viewBox="0 0 10 10"><path d="M0.8 9.2L7.6 2.4" stroke="#ff2020" stroke-width="1.05" fill="none"/><path d="M9.3 0.7L6 1.3L8.7 4Z" fill="#ff2020"/></svg></div>
<div class="c nu pd" style="left:231px;top:3153px;width:67.7px;height:32px;"><span>51.56</span></div>
<div class="c " style="left:300px;top:3155.4px;width:69.17px;height:27.6px;background:#ee6a6c"></div>
<div class="c nu" style="left:298.7px;top:3153px;width:74.3px;height:32px;"><span>98.11%</span></div>
<div class="c nu pd" style="left:373px;top:3153px;width:67px;height:32px;"><span>6.58</span></div>
<div class="c " style="left:441.3px;top:3155.4px;width:69.99px;height:27.6px;background:#ee6a6c"></div>
<div class="c nu" style="left:440px;top:3153px;width:74px;height:32px;"><span>99.27%</span></div>
<div class="c nu" style="left:514px;top:3153px;width:66.5px;height:32px;"><span>0.77%</span></div>
<div class="c nu" style="left:580.5px;top:3153px;width:75.5px;height:32px;"><span>13.42%</span></div>
<div class="c nu" style="left:656px;top:3153px;width:66px;height:32px;"><span>515050</span></div>
<div class="c nu" style="left:722px;top:3153px;width:67px;height:32px;"><span>008086</span></div>
<div class="c note" style="left:12px;top:3185px;width:777px;height:32px;"><span>新兴行业指数<span class="red">绝对估值高</span>、成立时间短、成长不稳、波动较大、估值难，新手<span class="red">保持观察就好</span>。</span></div>
<div class="c stitle" style="left:12px;top:3217px;width:777px;height:32px;"><span class="st">七、周期行业</span><span class="fm">指数温度 = 30%PE +&nbsp; 70%PB</span></div>
<div class="c hd" style="left:12px;top:3249px;width:98.5px;height:32px;"><span>指数名称</span></div>
<div class="c hd" style="left:110.5px;top:3249px;width:120.5px;height:32px;"><span>指数温度°C</span></div>
<div class="c hd hl0" style="left:231px;top:3249px;width:67.7px;height:32px;"><span>PE</span></div>
<div class="c hd" style="left:298.7px;top:3249px;width:74.3px;height:32px;"><span>百分位</span></div>
<div class="c hd hl0" style="left:373px;top:3249px;width:67px;height:32px;"><span>PB</span></div>
<div class="c hd" style="left:440px;top:3249px;width:74px;height:32px;"><span>百分位</span></div>
<div class="c hd" style="left:514px;top:3249px;width:66.5px;height:32px;"><span>股息率</span></div>
<div class="c hd hl0" style="left:580.5px;top:3249px;width:75.5px;height:32px;"><span>ROE</span></div>
<div class="c hd" style="left:656px;top:3249px;width:66px;height:32px;"><span>场内代码</span></div>
<div class="c hd" style="left:722px;top:3249px;width:67px;height:32px;"><span>场外代码</span></div>
<div class="c nm" style="left:12px;top:3281px;width:98.5px;height:32px;background:#c6e0b4"><span>中证畜牧</span></div>
<div class="c " style="left:110.5px;top:3281px;width:83px;height:32px;background:#e9f1e1"></div>
<div class="c " style="left:193.5px;top:3281px;width:38.5px;height:32px;background:#edf3e7"></div>
<div class="c " style="left:112.3px;top:3283.4px;width:7.18px;height:27.6px;background:#addb93"></div>
<div class="c tv" style="left:110.5px;top:3281px;width:81.6px;height:32px;"><span>8.9</span></div>
<div class="c dc" style="left:196px;top:3281px;width:18px;height:32px;"><span>°C</span></div>
<div class="c arw" style="left:214px;top:3281px;width:17px;height:32px;"><svg class="ar" width="10" height="10" viewBox="0 0 10 10"><path d="M0.8 9.2L7.6 2.4" stroke="#ff2020" stroke-width="1.05" fill="none"/><path d="M9.3 0.7L6 1.3L8.7 4Z" fill="#ff2020"/></svg></div>
<div class="c nu pd" style="left:231px;top:3281px;width:67.7px;height:32px;"><span>16.90</span></div>
<div class="c " style="left:300px;top:3283.4px;width:10.55px;height:27.6px;background:#addb93"></div>
<div class="c nu" style="left:298.7px;top:3281px;width:74.3px;height:32px;"><span>14.96%</span></div>
<div class="c nu pd" style="left:373px;top:3281px;width:67px;height:32px;"><span>2.52</span></div>
<div class="c " style="left:441.3px;top:3283.4px;width:4.48px;height:27.6px;background:#addb93"></div>
<div class="c nu" style="left:440px;top:3281px;width:74px;height:32px;"><span>6.35%</span></div>
<div class="c nu" style="left:514px;top:3281px;width:66.5px;height:32px;"><span>2.30%</span></div>
<div class="c nu" style="left:580.5px;top:3281px;width:75.5px;height:32px;"><span>-</span></div>
<div class="c nu" style="left:656px;top:3281px;width:66px;height:32px;"><span>516670</span></div>
<div class="c nu" style="left:722px;top:3281px;width:67px;height:32px;"><span>014414</span></div>
<div class="c nm" style="left:12px;top:3313px;width:98.5px;height:32px;background:#ffe699"><span>证券行业</span></div>
<div class="c " style="left:110.5px;top:3313px;width:83px;height:32px;background:#fff5da"></div>
<div class="c " style="left:193.5px;top:3313px;width:38.5px;height:32px;background:#fff6de"></div>
<div class="c " style="left:112.3px;top:3315.4px;width:19.21px;height:27.6px;background:#ffd654"></div>
<div class="c tv" style="left:110.5px;top:3313px;width:81.6px;height:32px;"><span>23.8</span></div>
<div class="c dc" style="left:196px;top:3313px;width:18px;height:32px;"><span>°C</span></div>
<div class="c arw" style="left:214px;top:3313px;width:17px;height:32px;"><svg class="ar" width="10" height="10" viewBox="0 0 10 10"><path d="M0.8 0.8L7.6 7.6" stroke="#1fb25f" stroke-width="1.05" fill="none"/><path d="M9.3 9.3L6 8.7L8.7 6Z" fill="#1fb25f"/></svg></div>
<div class="c nu pd" style="left:231px;top:3313px;width:67.7px;height:32px;"><span>17.02</span></div>
<div class="c " style="left:300px;top:3315.4px;width:9.05px;height:27.6px;background:#addb93"></div>
<div class="c nu" style="left:298.7px;top:3313px;width:74.3px;height:32px;"><span>12.84%</span></div>
<div class="c nu pd" style="left:373px;top:3313px;width:67px;height:32px;"><span>1.47</span></div>
<div class="c " style="left:441.3px;top:3315.4px;width:20.06px;height:27.6px;background:#ffd654"></div>
<div class="c nu" style="left:440px;top:3313px;width:74px;height:32px;"><span>28.46%</span></div>
<div class="c nu" style="left:514px;top:3313px;width:66.5px;height:32px;"><span>1.60%</span></div>
<div class="c nu" style="left:580.5px;top:3313px;width:75.5px;height:32px;"><span>-</span></div>
<div class="c nu" style="left:656px;top:3313px;width:66px;height:32px;"><span>515010</span></div>
<div class="c nu" style="left:722px;top:3313px;width:67px;height:32px;"><span>004069</span></div>
<div class="c nm" style="left:12px;top:3345px;width:98.5px;height:32px;background:#ffe699"><span>基建工程</span></div>
<div class="c " style="left:110.5px;top:3345px;width:83px;height:32px;background:#fff5da"></div>
<div class="c " style="left:193.5px;top:3345px;width:38.5px;height:32px;background:#fff6de"></div>
<div class="c " style="left:112.3px;top:3347.4px;width:24.61px;height:27.6px;background:#ffd654"></div>
<div class="c tv" style="left:110.5px;top:3345px;width:81.6px;height:32px;"><span>30.5</span></div>
<div class="c dc" style="left:196px;top:3345px;width:18px;height:32px;"><span>°C</span></div>
<div class="c arw" style="left:214px;top:3345px;width:17px;height:32px;"><svg class="ar" width="10" height="10" viewBox="0 0 10 10"><path d="M0.8 0.8L7.6 7.6" stroke="#1fb25f" stroke-width="1.05" fill="none"/><path d="M9.3 9.3L6 8.7L8.7 6Z" fill="#1fb25f"/></svg></div>
<div class="c nu pd" style="left:231px;top:3345px;width:67.7px;height:32px;"><span>9.20</span></div>
<div class="c " style="left:300px;top:3347.4px;width:43.61px;height:27.6px;background:#ffd654"></div>
<div class="c nu" style="left:298.7px;top:3345px;width:74.3px;height:32px;"><span>61.86%</span></div>
<div class="c nu pd" style="left:373px;top:3345px;width:67px;height:32px;"><span>0.73</span></div>
<div class="c " style="left:441.3px;top:3347.4px;width:12.06px;height:27.6px;background:#addb93"></div>
<div class="c nu" style="left:440px;top:3345px;width:74px;height:32px;"><span>17.10%</span></div>
<div class="c nu" style="left:514px;top:3345px;width:66.5px;height:32px;"><span>2.83%</span></div>
<div class="c nu" style="left:580.5px;top:3345px;width:75.5px;height:32px;"><span>-</span></div>
<div class="c nu" style="left:656px;top:3345px;width:66px;height:32px;"><span>516970</span></div>
<div class="c nu" style="left:722px;top:3345px;width:67px;height:32px;"><span>005223</span></div>
<div class="c nm" style="left:12px;top:3377px;width:98.5px;height:32px;background:#ffe699"><span>中证银行</span></div>
<div class="c " style="left:110.5px;top:3377px;width:83px;height:32px;background:#fff5da"></div>
<div class="c " style="left:193.5px;top:3377px;width:38.5px;height:32px;background:#fff6de"></div>
<div class="c " style="left:112.3px;top:3379.4px;width:26.87px;height:27.6px;background:#ffd654"></div>
<div class="c tv" style="left:110.5px;top:3377px;width:81.6px;height:32px;"><span>33.3</span></div>
<div class="c dc" style="left:196px;top:3377px;width:18px;height:32px;"><span>°C</span></div>
<div class="c arw" style="left:214px;top:3377px;width:17px;height:32px;"><svg class="ar" width="10" height="10" viewBox="0 0 10 10"><path d="M0.8 9.2L7.6 2.4" stroke="#ff2020" stroke-width="1.05" fill="none"/><path d="M9.3 0.7L6 1.3L8.7 4Z" fill="#ff2020"/></svg></div>
<div class="c nu pd" style="left:231px;top:3377px;width:67.7px;height:32px;"><span>6.68</span></div>
<div class="c " style="left:300px;top:3379.4px;width:45.72px;height:27.6px;background:#ffd654"></div>
<div class="c nu" style="left:298.7px;top:3377px;width:74.3px;height:32px;"><span>64.85%</span></div>
<div class="c nu pd" style="left:373px;top:3377px;width:67px;height:32px;"><span>0.65</span></div>
<div class="c " style="left:441.3px;top:3379.4px;width:13.9px;height:27.6px;background:#addb93"></div>
<div class="c nu" style="left:440px;top:3377px;width:74px;height:32px;"><span>19.71%</span></div>
<div class="c nu" style="left:514px;top:3377px;width:66.5px;height:32px;"><span>4.66%</span></div>
<div class="c nu" style="left:580.5px;top:3377px;width:75.5px;height:32px;"><span>-</span></div>
<div class="c nu" style="left:656px;top:3377px;width:66px;height:32px;"><span>512800</span></div>
<div class="c nu" style="left:722px;top:3377px;width:67px;height:32px;"><span>001594</span></div>
<div class="c nm" style="left:12px;top:3409px;width:98.5px;height:32px;background:#ffe699"><span>国证地产</span></div>
<div class="c " style="left:110.5px;top:3409px;width:83px;height:32px;background:#fff5da"></div>
<div class="c " style="left:193.5px;top:3409px;width:38.5px;height:32px;background:#fff6de"></div>
<div class="c " style="left:112.3px;top:3411.4px;width:34.06px;height:27.6px;background:#ffd654"></div>
<div class="c tv" style="left:110.5px;top:3409px;width:81.6px;height:32px;"><span>42.2</span></div>
<div class="c dc" style="left:196px;top:3409px;width:18px;height:32px;"><span>°C</span></div>
<div class="c arw" style="left:214px;top:3409px;width:17px;height:32px;"><svg class="ar" width="10" height="10" viewBox="0 0 10 10"><path d="M0.8 0.8L7.6 7.6" stroke="#1fb25f" stroke-width="1.05" fill="none"/><path d="M9.3 9.3L6 8.7L8.7 6Z" fill="#1fb25f"/></svg></div>
<div class="c nu pd" style="left:231px;top:3409px;width:67.7px;height:32px;"><span>-11.89</span></div>
<div class="c " style="left:300px;top:3411.4px;width:69.2px;height:27.6px;background:#ee6a6c"></div>
<div class="c nu" style="left:298.7px;top:3409px;width:74.3px;height:32px;"><span>98.16%</span></div>
<div class="c nu pd" style="left:373px;top:3409px;width:67px;height:32px;"><span>0.90</span></div>
<div class="c " style="left:441.3px;top:3411.4px;width:12.8px;height:27.6px;background:#addb93"></div>
<div class="c nu" style="left:440px;top:3409px;width:74px;height:32px;"><span>18.15%</span></div>
<div class="c nu" style="left:514px;top:3409px;width:66.5px;height:32px;"><span>1.04%</span></div>
<div class="c nu" style="left:580.5px;top:3409px;width:75.5px;height:32px;"><span>-</span></div>
<div class="c nu" style="left:656px;top:3409px;width:66px;height:32px;"><span>515060</span></div>
<div class="c nu" style="left:722px;top:3409px;width:67px;height:32px;"><span>160218</span></div>
<div class="c nm" style="left:12px;top:3441px;width:98.5px;height:32px;background:#ffe699"><span>中证环保</span></div>
<div class="c " style="left:110.5px;top:3441px;width:83px;height:32px;background:#fff5da"></div>
<div class="c " style="left:193.5px;top:3441px;width:38.5px;height:32px;background:#fff6de"></div>
<div class="c " style="left:112.3px;top:3443.4px;width:47.69px;height:27.6px;background:#ffd654"></div>
<div class="c tv" style="left:110.5px;top:3441px;width:81.6px;height:32px;"><span>59.1</span></div>
<div class="c dc" style="left:196px;top:3441px;width:18px;height:32px;"><span>°C</span></div>
<div class="c arw" style="left:214px;top:3441px;width:17px;height:32px;"><svg class="ar" width="10" height="10" viewBox="0 0 10 10"><path d="M0.8 0.8L7.6 7.6" stroke="#1fb25f" stroke-width="1.05" fill="none"/><path d="M9.3 9.3L6 8.7L8.7 6Z" fill="#1fb25f"/></svg></div>
<div class="c nu pd" style="left:231px;top:3441px;width:67.7px;height:32px;"><span>37.61</span></div>
<div class="c " style="left:300px;top:3443.4px;width:59.14px;height:27.6px;background:#ee6a6c"></div>
<div class="c nu" style="left:298.7px;top:3441px;width:74.3px;height:32px;"><span>83.89%</span></div>
<div class="c nu pd" style="left:373px;top:3441px;width:67px;height:32px;"><span>2.75</span></div>
<div class="c " style="left:441.3px;top:3443.4px;width:34.15px;height:27.6px;background:#ffd654"></div>
<div class="c nu" style="left:440px;top:3441px;width:74px;height:32px;"><span>48.44%</span></div>
<div class="c nu" style="left:514px;top:3441px;width:66.5px;height:32px;"><span>1.54%</span></div>
<div class="c nu" style="left:580.5px;top:3441px;width:75.5px;height:32px;"><span>-</span></div>
<div class="c nu" style="left:656px;top:3441px;width:66px;height:32px;"><span>512580</span></div>
<div class="c nu" style="left:722px;top:3441px;width:67px;height:32px;"><span>001064</span></div>
<div class="c nm" style="left:12px;top:3473px;width:98.5px;height:31px;background:#ffe699"><span>中证旅游</span></div>
<div class="c " style="left:110.5px;top:3473px;width:83px;height:31px;background:#fff5da"></div>
<div class="c " style="left:193.5px;top:3473px;width:38.5px;height:31px;background:#fff6de"></div>
<div class="c " style="left:112.3px;top:3475.4px;width:51.73px;height:26.6px;background:#ffd654"></div>
<div class="c tv" style="left:110.5px;top:3473px;width:81.6px;height:31px;"><span>64.1</span></div>
<div class="c dc" style="left:196px;top:3473px;width:18px;height:31px;"><span>°C</span></div>
<div class="c arw" style="left:214px;top:3473px;width:17px;height:31px;"><svg class="ar" width="10" height="10" viewBox="0 0 10 10"><path d="M0.8 0.8L7.6 7.6" stroke="#1fb25f" stroke-width="1.05" fill="none"/><path d="M9.3 9.3L6 8.7L8.7 6Z" fill="#1fb25f"/></svg></div>
<div class="c nu pd" style="left:231px;top:3473px;width:67.7px;height:31px;"><span>2470.77</span></div>
<div class="c " style="left:300px;top:3475.4px;width:41.12px;height:26.6px;background:#ffd654"></div>
<div class="c nu" style="left:298.7px;top:3473px;width:74.3px;height:31px;"><span>58.33%</span></div>
<div class="c nu pd" style="left:373px;top:3473px;width:67px;height:31px;"><span>2.65</span></div>
<div class="c " style="left:441.3px;top:3475.4px;width:46.9px;height:26.6px;background:#ffd654"></div>
<div class="c nu" style="left:440px;top:3473px;width:74px;height:31px;"><span>66.53%</span></div>
<div class="c nu" style="left:514px;top:3473px;width:66.5px;height:31px;"><span>0.78%</span></div>
<div class="c nu" style="left:580.5px;top:3473px;width:75.5px;height:31px;"><span>-</span></div>
<div class="c nu" style="left:656px;top:3473px;width:66px;height:31px;"><span>159766</span></div>
<div class="c nu" style="left:722px;top:3473px;width:67px;height:31px;"><span>-</span></div>
<div class="c nm" style="left:12px;top:3504px;width:98.5px;height:32px;background:#ffe699"><span>细分化工</span></div>
<div class="c " style="left:110.5px;top:3504px;width:83px;height:32px;background:#fff5da"></div>
<div class="c " style="left:193.5px;top:3504px;width:38.5px;height:32px;background:#fff6de"></div>
<div class="c " style="left:112.3px;top:3506.4px;width:61.49px;height:27.6px;background:#ffd654"></div>
<div class="c tv" style="left:110.5px;top:3504px;width:81.6px;height:32px;"><span>76.2</span></div>
<div class="c dc" style="left:196px;top:3504px;width:18px;height:32px;"><span>°C</span></div>
<div class="c arw" style="left:214px;top:3504px;width:17px;height:32px;"><svg class="ar" width="10" height="10" viewBox="0 0 10 10"><path d="M0.8 0.8L7.6 7.6" stroke="#1fb25f" stroke-width="1.05" fill="none"/><path d="M9.3 9.3L6 8.7L8.7 6Z" fill="#1fb25f"/></svg></div>
<div class="c nu pd" style="left:231px;top:3504px;width:67.7px;height:32px;"><span>32.19</span></div>
<div class="c " style="left:300px;top:3506.4px;width:58.3px;height:27.6px;background:#ee6a6c"></div>
<div class="c nu" style="left:298.7px;top:3504px;width:74.3px;height:32px;"><span>82.69%</span></div>
<div class="c nu pd" style="left:373px;top:3504px;width:67px;height:32px;"><span>2.98</span></div>
<div class="c " style="left:441.3px;top:3506.4px;width:51.79px;height:27.6px;background:#ffd654"></div>
<div class="c nu" style="left:440px;top:3504px;width:74px;height:32px;"><span>73.46%</span></div>
<div class="c nu" style="left:514px;top:3504px;width:66.5px;height:32px;"><span>1.24%</span></div>
<div class="c nu" style="left:580.5px;top:3504px;width:75.5px;height:32px;"><span>-</span></div>
<div class="c nu" style="left:656px;top:3504px;width:66px;height:32px;"><span>159870</span></div>
<div class="c nu" style="left:722px;top:3504px;width:67px;height:32px;"><span>015896</span></div>
<div class="c nm" style="left:12px;top:3536px;width:98.5px;height:32px;background:#f4b595"><span>中证军工</span></div>
<div class="c " style="left:110.5px;top:3536px;width:83px;height:32px;background:#fde9e8"></div>
<div class="c " style="left:193.5px;top:3536px;width:38.5px;height:32px;background:#feeceb"></div>
<div class="c " style="left:112.3px;top:3538.4px;width:67.87px;height:27.6px;background:#ee6a6c"></div>
<div class="c tv" style="left:110.5px;top:3536px;width:81.6px;height:32px;"><span>84.1</span></div>
<div class="c dc" style="left:196px;top:3536px;width:18px;height:32px;"><span>°C</span></div>
<div class="c arw" style="left:214px;top:3536px;width:17px;height:32px;"><svg class="ar" width="10" height="10" viewBox="0 0 10 10"><path d="M0.8 0.8L7.6 7.6" stroke="#1fb25f" stroke-width="1.05" fill="none"/><path d="M9.3 9.3L6 8.7L8.7 6Z" fill="#1fb25f"/></svg></div>
<div class="c nu pd" style="left:231px;top:3536px;width:67.7px;height:32px;"><span>121.37</span></div>
<div class="c " style="left:300px;top:3538.4px;width:60.39px;height:27.6px;background:#ee6a6c"></div>
<div class="c nu" style="left:298.7px;top:3536px;width:74.3px;height:32px;"><span>85.66%</span></div>
<div class="c nu pd" style="left:373px;top:3536px;width:67px;height:32px;"><span>4.18</span></div>
<div class="c " style="left:441.3px;top:3538.4px;width:58.8px;height:27.6px;background:#ee6a6c"></div>
<div class="c nu" style="left:440px;top:3536px;width:74px;height:32px;"><span>83.41%</span></div>
<div class="c nu" style="left:514px;top:3536px;width:66.5px;height:32px;"><span>0.40%</span></div>
<div class="c nu" style="left:580.5px;top:3536px;width:75.5px;height:32px;"><span>-</span></div>
<div class="c nu" style="left:656px;top:3536px;width:66px;height:32px;"><span>512680</span></div>
<div class="c nu" style="left:722px;top:3536px;width:67px;height:32px;"><span>161024</span></div>
<div class="c nm" style="left:12px;top:3568px;width:98.5px;height:32px;background:#f4b595"><span>中证有色</span></div>
<div class="c " style="left:110.5px;top:3568px;width:83px;height:32px;background:#fde9e8"></div>
<div class="c " style="left:193.5px;top:3568px;width:38.5px;height:32px;background:#feeceb"></div>
<div class="c " style="left:112.3px;top:3570.4px;width:67.95px;height:27.6px;background:#ee6a6c"></div>
<div class="c tv" style="left:110.5px;top:3568px;width:81.6px;height:32px;"><span>84.2</span></div>
<div class="c dc" style="left:196px;top:3568px;width:18px;height:32px;"><span>°C</span></div>
<div class="c arw" style="left:214px;top:3568px;width:17px;height:32px;"><svg class="ar" width="10" height="10" viewBox="0 0 10 10"><path d="M0.8 9.2L7.6 2.4" stroke="#ff2020" stroke-width="1.05" fill="none"/><path d="M9.3 0.7L6 1.3L8.7 4Z" fill="#ff2020"/></svg></div>
<div class="c nu pd" style="left:231px;top:3568px;width:67.7px;height:32px;"><span>33.28</span></div>
<div class="c " style="left:300px;top:3570.4px;width:33.63px;height:27.6px;background:#ffd654"></div>
<div class="c nu" style="left:298.7px;top:3568px;width:74.3px;height:32px;"><span>47.70%</span></div>
<div class="c nu pd" style="left:373px;top:3568px;width:67px;height:32px;"><span>4.37</span></div>
<div class="c " style="left:441.3px;top:3570.4px;width:70.39px;height:27.6px;background:#ee6a6c"></div>
<div class="c nu" style="left:440px;top:3568px;width:74px;height:32px;"><span>99.84%</span></div>
<div class="c nu" style="left:514px;top:3568px;width:66.5px;height:32px;"><span>1.06%</span></div>
<div class="c nu" style="left:580.5px;top:3568px;width:75.5px;height:32px;"><span>-</span></div>
<div class="c nu" style="left:656px;top:3568px;width:66px;height:32px;"><span>159881</span></div>
<div class="c nu" style="left:722px;top:3568px;width:67px;height:32px;"><span>-</span></div>
<div class="c nm" style="left:12px;top:3600px;width:98.5px;height:32px;background:#f4b595"><span>中证煤炭</span></div>
<div class="c " style="left:110.5px;top:3600px;width:83px;height:32px;background:#fde9e8"></div>
<div class="c " style="left:193.5px;top:3600px;width:38.5px;height:32px;background:#feeceb"></div>
<div class="c " style="left:112.3px;top:3602.4px;width:69.56px;height:27.6px;background:#ee6a6c"></div>
<div class="c tv" style="left:110.5px;top:3600px;width:81.6px;height:32px;"><span>86.2</span></div>
<div class="c dc" style="left:196px;top:3600px;width:18px;height:32px;"><span>°C</span></div>
<div class="c arw" style="left:214px;top:3600px;width:17px;height:32px;"><svg class="ar" width="10" height="10" viewBox="0 0 10 10"><path d="M0.8 9.2L7.6 2.4" stroke="#ff2020" stroke-width="1.05" fill="none"/><path d="M9.3 0.7L6 1.3L8.7 4Z" fill="#ff2020"/></svg></div>
<div class="c nu pd" style="left:231px;top:3600px;width:67.7px;height:32px;"><span>17.13</span></div>
<div class="c " style="left:300px;top:3602.4px;width:55.32px;height:27.6px;background:#ffd654"></div>
<div class="c nu" style="left:298.7px;top:3600px;width:74.3px;height:32px;"><span>78.47%</span></div>
<div class="c nu pd" style="left:373px;top:3600px;width:67px;height:32px;"><span>1.66</span></div>
<div class="c " style="left:441.3px;top:3602.4px;width:63.13px;height:27.6px;background:#ee6a6c"></div>
<div class="c nu" style="left:440px;top:3600px;width:74px;height:32px;"><span>89.55%</span></div>
<div class="c nu" style="left:514px;top:3600px;width:66.5px;height:32px;"><span>5.65%</span></div>
<div class="c nu" style="left:580.5px;top:3600px;width:75.5px;height:32px;"><span>-</span></div>
<div class="c nu" style="left:656px;top:3600px;width:66px;height:32px;"><span>515220</span></div>
<div class="c nu" style="left:722px;top:3600px;width:67px;height:32px;"><span>008279</span></div>
<div class="c note" style="left:12px;top:3632px;width:777px;height:32px;"><span>周期类行业指数，有时候不讲道理的，一趴就是好些年，新手不建议定投。</span></div>
<div class="c zh zhb" style="left:12px;top:3664px;width:181.5px;height:32px;"><span>基准无风险利率</span></div>
<div class="c zh zhb" style="left:193.5px;top:3664px;width:245.5px;height:32px;"><span>收益率</span></div>
<div class="c bl1" style="left:12px;top:3696px;width:181.5px;height:32px;"><span>中国<i>10</i>年期国债</span></div>
<div class="c bl1" style="left:12px;top:3728px;width:181.5px;height:32px;"><span>美国<i>10</i>年期国债</span></div>
<div class="c bl2" style="left:193.5px;top:3696px;width:245.5px;height:32px;"><span>1.810%</span></div>
<div class="c bl2" style="left:193.5px;top:3728px;width:245.5px;height:32px;"><span>4.240%</span></div>
<div class="c lg" style="left:439px;top:3664px;width:141.5px;height:32px;background:#c6e0b4;color:#1f7a1f"><span>绿色（20°C以下）</span></div>
<div class="c lg" style="left:580.5px;top:3664px;width:208.5px;height:32px;background:#c6e0b4;color:#1f7a1f"><span>低估，慢慢定投</span></div>
<div class="c lg" style="left:439px;top:3696px;width:141.5px;height:32px;background:#ffe699;color:#111"><span>黄色（20-80°C）</span></div>
<div class="c lg" style="left:580.5px;top:3696px;width:208.5px;height:32px;background:#ffe699;color:#111"><span>正常，耐心持有</span></div>
<div class="c lg" style="left:439px;top:3728px;width:141.5px;height:32px;background:#f4b595;color:#c60f0f"><span>红色（80°C以上）</span></div>
<div class="c lg" style="left:580.5px;top:3728px;width:208.5px;height:32px;background:#f4b595;color:#c60f0f"><span>高估，分批止盈</span></div>
<div class="c note" style="left:12px;top:3760px;width:777px;height:32px;font-size:12.53px"><span><i>1</i>、各指数指数温度采用<i>PE</i>百分位、<i>PB</i>百分位综合运算，一般权重为各<i>50%</i>，周期股<i>PB</i>权重为<i>70%</i>；</span></div>
<div class="c note" style="left:12px;top:3792px;width:777px;height:32px;font-size:12.53px"><span><i>2</i>、有经验的朋友可以调整估值权重和估值阈值，宽基指数可以适当放宽，行业指数则可以更谨慎；</span></div>
<div class="c note" style="left:12px;top:3824px;width:777px;height:32px;"><span><i>3</i>、表内统计百分位长度均为可取数据的<em>“</em>全历史数据<em>”</em>，跨境指数为<i>10</i>年数据，格雷厄姆指数为<i>10</i>年数据；</span></div>
<div class="c note" style="left:12px;top:3856px;width:777px;height:32px;"><span><i>4</i>、<b>风险提示：市场有风险，投资需谨慎。</b>指数估值的高低不是权益资产买卖的唯一依据，投资决策应考虑多种因素，并自行承担风险。</span></div>
<div class="c note" style="left:12px;top:3888px;width:777px;height:30px;"><span><i>5</i>、本表由<em>“</em>六亿居士<em>”</em>制作，<b>每周一、周四</b>早上<i>10</i>点更新；欢迎关注，欢迎转发；</span></div>
<div class="dl" style="left:12px;top:125px;width:644px"></div>
<div class="dl" style="left:12px;top:157px;width:644px"></div>
<div class="dl" style="left:12px;top:189px;width:644px"></div>
<div class="hl h1" style="left:12px;top:61px;width:777px"></div>
<div class="hl h1" style="left:12px;top:93px;width:777px"></div>
<div class="hl h1" style="left:656px;top:125px;width:133px"></div>
<div class="vl v1" style="left:656px;top:11px;height:209px"></div>
<div class="vl v1" style="left:110.5px;top:61px;height:32px"></div>
<div class="vl v1" style="left:231px;top:93px;height:127px"></div>
<div class="dl" style="left:12px;top:316px;width:777px"></div>
<div class="dl" style="left:12px;top:348px;width:777px"></div>
<div class="dl" style="left:12px;top:380px;width:777px"></div>
<div class="dl" style="left:12px;top:412px;width:777px"></div>
<div class="dl" style="left:12px;top:444px;width:777px"></div>
<div class="dl" style="left:12px;top:476px;width:777px"></div>
<div class="dl" style="left:12px;top:508px;width:777px"></div>
<div class="dl" style="left:12px;top:540px;width:777px"></div>
<div class="dl" style="left:12px;top:572px;width:777px"></div>
<div class="dl" style="left:12px;top:604px;width:777px"></div>
<div class="dl" style="left:12px;top:635px;width:777px"></div>
<div class="dl" style="left:12px;top:667px;width:777px"></div>
<div class="hl" style="left:12px;top:220px;width:777px"></div>
<div class="hl hk" style="left:12px;top:253px;width:777px"></div>
<div class="hl" style="left:12px;top:284px;width:777px"></div>
<div class="vl hk" style="left:110.5px;top:252px;height:32px"></div>
<div class="vl hk" style="left:231px;top:252px;height:32px"></div>
<div class="vl hk" style="left:298.7px;top:252px;height:32px"></div>
<div class="vl hk" style="left:373px;top:252px;height:32px"></div>
<div class="vl hk" style="left:440px;top:252px;height:32px"></div>
<div class="vl hk" style="left:514px;top:252px;height:32px"></div>
<div class="vl hk" style="left:580.5px;top:252px;height:32px"></div>
<div class="vl hk" style="left:656px;top:252px;height:32px"></div>
<div class="vl hk" style="left:722px;top:252px;height:32px"></div>
<div class="hl" style="left:12px;top:668px;width:777px"></div>
<div class="dl" style="left:12px;top:795px;width:777px"></div>
<div class="dl" style="left:12px;top:827px;width:777px"></div>
<div class="dl" style="left:12px;top:859px;width:777px"></div>
<div class="dl" style="left:12px;top:891px;width:777px"></div>
<div class="dl" style="left:12px;top:923px;width:777px"></div>
<div class="dl" style="left:12px;top:955px;width:777px"></div>
<div class="dl" style="left:12px;top:987px;width:777px"></div>
<div class="dl" style="left:12px;top:1018px;width:777px"></div>
<div class="dl" style="left:12px;top:1050px;width:777px"></div>
<div class="dl" style="left:12px;top:1082px;width:777px"></div>
<div class="dl" style="left:12px;top:1114px;width:777px"></div>
<div class="hl" style="left:12px;top:700px;width:777px"></div>
<div class="hl hk" style="left:12px;top:732px;width:777px"></div>
<div class="hl" style="left:12px;top:763px;width:777px"></div>
<div class="vl hk" style="left:110.5px;top:731px;height:32px"></div>
<div class="vl hk" style="left:231px;top:731px;height:32px"></div>
<div class="vl hk" style="left:298.7px;top:731px;height:32px"></div>
<div class="vl hk" style="left:373px;top:731px;height:32px"></div>
<div class="vl hk" style="left:440px;top:731px;height:32px"></div>
<div class="vl hk" style="left:514px;top:731px;height:32px"></div>
<div class="vl hk" style="left:580.5px;top:731px;height:32px"></div>
<div class="vl hk" style="left:656px;top:731px;height:32px"></div>
<div class="vl hk" style="left:722px;top:731px;height:32px"></div>
<div class="hl" style="left:12px;top:1114px;width:777px"></div>
<div class="dl" style="left:12px;top:1241px;width:777px"></div>
<div class="dl" style="left:12px;top:1273px;width:777px"></div>
<div class="dl" style="left:12px;top:1305px;width:777px"></div>
<div class="dl" style="left:12px;top:1337px;width:777px"></div>
<div class="dl" style="left:12px;top:1369px;width:777px"></div>
<div class="dl" style="left:12px;top:1401px;width:777px"></div>
<div class="dl" style="left:12px;top:1432px;width:777px"></div>
<div class="dl" style="left:12px;top:1464px;width:777px"></div>
<div class="dl" style="left:12px;top:1496px;width:777px"></div>
<div class="hl" style="left:12px;top:1146px;width:777px"></div>
<div class="hl hk" style="left:12px;top:1178px;width:777px"></div>
<div class="hl" style="left:12px;top:1210px;width:777px"></div>
<div class="vl hk" style="left:110.5px;top:1178px;height:32px"></div>
<div class="vl hk" style="left:231px;top:1178px;height:32px"></div>
<div class="vl hk" style="left:298.7px;top:1178px;height:32px"></div>
<div class="vl hk" style="left:373px;top:1178px;height:32px"></div>
<div class="vl hk" style="left:440px;top:1178px;height:32px"></div>
<div class="vl hk" style="left:514px;top:1178px;height:32px"></div>
<div class="vl hk" style="left:580.5px;top:1178px;height:32px"></div>
<div class="vl hk" style="left:656px;top:1178px;height:32px"></div>
<div class="vl hk" style="left:722px;top:1178px;height:32px"></div>
<div class="hl" style="left:12px;top:1496px;width:777px"></div>
<div class="dl" style="left:12px;top:1624px;width:777px"></div>
<div class="dl" style="left:12px;top:1656px;width:777px"></div>
<div class="dl" style="left:12px;top:1688px;width:777px"></div>
<div class="dl" style="left:12px;top:1720px;width:777px"></div>
<div class="dl" style="left:12px;top:1752px;width:777px"></div>
<div class="dl" style="left:12px;top:1784px;width:777px"></div>
<div class="dl" style="left:12px;top:1816px;width:777px"></div>
<div class="dl" style="left:12px;top:1848px;width:777px"></div>
<div class="dl" style="left:12px;top:1879px;width:777px"></div>
<div class="dl" style="left:12px;top:1911px;width:777px"></div>
<div class="dl" style="left:12px;top:1943px;width:777px"></div>
<div class="dl" style="left:12px;top:1975px;width:777px"></div>
<div class="dl" style="left:12px;top:2006px;width:777px"></div>
<div class="hl" style="left:12px;top:1528px;width:777px"></div>
<div class="hl hk" style="left:12px;top:1560px;width:777px"></div>
<div class="hl" style="left:12px;top:1592px;width:777px"></div>
<div class="vl hk" style="left:110.5px;top:1560px;height:32px"></div>
<div class="vl hk" style="left:231px;top:1560px;height:32px"></div>
<div class="vl hk" style="left:298.7px;top:1560px;height:32px"></div>
<div class="vl hk" style="left:373px;top:1560px;height:32px"></div>
<div class="vl hk" style="left:440px;top:1560px;height:32px"></div>
<div class="vl hk" style="left:514px;top:1560px;height:32px"></div>
<div class="vl hk" style="left:580.5px;top:1560px;height:32px"></div>
<div class="vl hk" style="left:656px;top:1560px;height:32px"></div>
<div class="vl hk" style="left:722px;top:1560px;height:32px"></div>
<div class="hl" style="left:12px;top:2007px;width:777px"></div>
<div class="dl" style="left:12px;top:2134px;width:777px"></div>
<div class="dl" style="left:12px;top:2166px;width:777px"></div>
<div class="dl" style="left:12px;top:2197px;width:777px"></div>
<div class="dl" style="left:12px;top:2229px;width:777px"></div>
<div class="dl" style="left:12px;top:2261px;width:777px"></div>
<div class="dl" style="left:12px;top:2293px;width:777px"></div>
<div class="dl" style="left:12px;top:2325px;width:777px"></div>
<div class="dl" style="left:12px;top:2356px;width:777px"></div>
<div class="dl" style="left:12px;top:2388px;width:777px"></div>
<div class="dl" style="left:12px;top:2419px;width:777px"></div>
<div class="dl" style="left:12px;top:2451px;width:777px"></div>
<div class="dl" style="left:12px;top:2483px;width:777px"></div>
<div class="dl" style="left:12px;top:2515px;width:777px"></div>
<div class="dl" style="left:12px;top:2547px;width:777px"></div>
<div class="dl" style="left:12px;top:2579px;width:777px"></div>
<div class="dl" style="left:12px;top:2611px;width:777px"></div>
<div class="dl" style="left:12px;top:2643px;width:777px"></div>
<div class="dl" style="left:12px;top:2675px;width:777px"></div>
<div class="dl" style="left:12px;top:2707px;width:777px"></div>
<div class="dl" style="left:12px;top:2738px;width:777px"></div>
<div class="hl" style="left:12px;top:2038px;width:777px"></div>
<div class="hl hk" style="left:12px;top:2070px;width:777px"></div>
<div class="hl" style="left:12px;top:2102px;width:777px"></div>
<div class="vl hk" style="left:110.5px;top:2070px;height:32px"></div>
<div class="vl hk" style="left:231px;top:2070px;height:32px"></div>
<div class="vl hk" style="left:298.7px;top:2070px;height:32px"></div>
<div class="vl hk" style="left:373px;top:2070px;height:32px"></div>
<div class="vl hk" style="left:440px;top:2070px;height:32px"></div>
<div class="vl hk" style="left:514px;top:2070px;height:32px"></div>
<div class="vl hk" style="left:580.5px;top:2070px;height:32px"></div>
<div class="vl hk" style="left:656px;top:2070px;height:32px"></div>
<div class="vl hk" style="left:722px;top:2070px;height:32px"></div>
<div class="hl" style="left:12px;top:2739px;width:777px"></div>
<div class="dl" style="left:12px;top:2866px;width:777px"></div>
<div class="dl" style="left:12px;top:2898px;width:777px"></div>
<div class="dl" style="left:12px;top:2930px;width:777px"></div>
<div class="dl" style="left:12px;top:2962px;width:777px"></div>
<div class="dl" style="left:12px;top:2994px;width:777px"></div>
<div class="dl" style="left:12px;top:3026px;width:777px"></div>
<div class="dl" style="left:12px;top:3058px;width:777px"></div>
<div class="dl" style="left:12px;top:3090px;width:777px"></div>
<div class="dl" style="left:12px;top:3121px;width:777px"></div>
<div class="dl" style="left:12px;top:3153px;width:777px"></div>
<div class="dl" style="left:12px;top:3185px;width:777px"></div>
<div class="hl" style="left:12px;top:2771px;width:777px"></div>
<div class="hl hk" style="left:12px;top:2803px;width:777px"></div>
<div class="hl" style="left:12px;top:2834px;width:777px"></div>
<div class="vl hk" style="left:110.5px;top:2802px;height:32px"></div>
<div class="vl hk" style="left:231px;top:2802px;height:32px"></div>
<div class="vl hk" style="left:298.7px;top:2802px;height:32px"></div>
<div class="vl hk" style="left:373px;top:2802px;height:32px"></div>
<div class="vl hk" style="left:440px;top:2802px;height:32px"></div>
<div class="vl hk" style="left:514px;top:2802px;height:32px"></div>
<div class="vl hk" style="left:580.5px;top:2802px;height:32px"></div>
<div class="vl hk" style="left:656px;top:2802px;height:32px"></div>
<div class="vl hk" style="left:722px;top:2802px;height:32px"></div>
<div class="hl" style="left:12px;top:3186px;width:777px"></div>
<div class="dl" style="left:12px;top:3313px;width:777px"></div>
<div class="dl" style="left:12px;top:3345px;width:777px"></div>
<div class="dl" style="left:12px;top:3377px;width:777px"></div>
<div class="dl" style="left:12px;top:3409px;width:777px"></div>
<div class="dl" style="left:12px;top:3441px;width:777px"></div>
<div class="dl" style="left:12px;top:3473px;width:777px"></div>
<div class="dl" style="left:12px;top:3504px;width:777px"></div>
<div class="dl" style="left:12px;top:3536px;width:777px"></div>
<div class="dl" style="left:12px;top:3568px;width:777px"></div>
<div class="dl" style="left:12px;top:3600px;width:777px"></div>
<div class="dl" style="left:12px;top:3632px;width:777px"></div>
<div class="hl" style="left:12px;top:3217px;width:777px"></div>
<div class="hl hk" style="left:12px;top:3249px;width:777px"></div>
<div class="hl" style="left:12px;top:3281px;width:777px"></div>
<div class="vl hk" style="left:110.5px;top:3249px;height:32px"></div>
<div class="vl hk" style="left:231px;top:3249px;height:32px"></div>
<div class="vl hk" style="left:298.7px;top:3249px;height:32px"></div>
<div class="vl hk" style="left:373px;top:3249px;height:32px"></div>
<div class="vl hk" style="left:440px;top:3249px;height:32px"></div>
<div class="vl hk" style="left:514px;top:3249px;height:32px"></div>
<div class="vl hk" style="left:580.5px;top:3249px;height:32px"></div>
<div class="vl hk" style="left:656px;top:3249px;height:32px"></div>
<div class="vl hk" style="left:722px;top:3249px;height:32px"></div>
<div class="hl" style="left:12px;top:3632px;width:777px"></div>
<div class="hl h1" style="left:12px;top:3664px;width:777px"></div>
<div class="hl h1" style="left:12px;top:3696px;width:777px"></div>
<div class="hl h1" style="left:12px;top:3728px;width:777px"></div>
<div class="hl h1" style="left:12px;top:3760px;width:777px"></div>
<div class="hl h1" style="left:12px;top:3792px;width:777px"></div>
<div class="hl h1" style="left:12px;top:3824px;width:777px"></div>
<div class="hl h1" style="left:12px;top:3856px;width:777px"></div>
<div class="hl h1" style="left:12px;top:3888px;width:777px"></div>
<div class="vl v1" style="left:193.5px;top:3664px;height:96px"></div>
<div class="vl v1" style="left:439px;top:3664px;height:96px"></div>
<div class="vl v1" style="left:580.5px;top:3664px;height:96px"></div>
<div class="hl" style="left:12px;top:11px;width:777px"></div>
<div class="hl" style="left:12px;top:3918px;width:777px"></div>
<div class="vl" style="left:12px;top:11px;height:3907px"></div>
<div class="vl" style="left:789px;top:11px;height:3907px"></div>
<div class="wm" style="left:579px;top:3889px;width:209px;height:28px"><svg width="30" height="30" viewBox="0 0 30 30" style="position:absolute;left:5px;top:0px"><g fill="none" stroke="#8c8c8c" stroke-opacity=".55" stroke-width="2.6" stroke-linecap="round" transform="translate(1.2,1.2)"><circle cx="14.6" cy="14.6" r="12.4"/><path d="M8.6 8.4C5.6 12 6 17.6 9.6 19.8C12.6 21.4 14.6 18 14.6 14.6C14.6 11.2 16.6 7.8 19.6 9.4C23.2 11.6 23.6 17.2 20.6 20.8"/></g><g fill="none" stroke="#f4f4f4" stroke-width="2.5" stroke-linecap="round"><circle cx="14.6" cy="14.6" r="12.4"/><path d="M8.6 8.4C5.6 12 6 17.6 9.6 19.8C12.6 21.4 14.6 18 14.6 14.6C14.6 11.2 16.6 7.8 19.6 9.4C23.2 11.6 23.6 17.2 20.6 20.8"/></g></svg><span class="wmt">雪球<span class="wd">·</span>六亿居士</span></div>
</body></html>
